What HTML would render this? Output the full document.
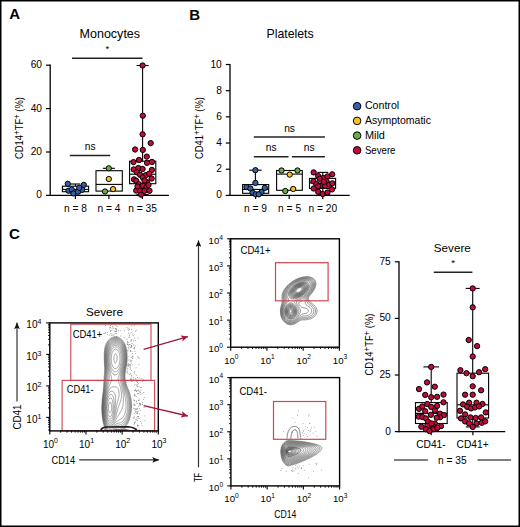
<!DOCTYPE html>
<html><head><meta charset="utf-8"><title>Figure</title>
<style>html,body{margin:0;padding:0;background:#fff;width:520px;height:527px;overflow:hidden}svg{display:block}text{font-family:"Liberation Sans",sans-serif}</style>
</head><body>
<svg width="520" height="527" viewBox="0 0 520 527" font-family='"Liberation Sans", sans-serif'><text x="9.20" y="19.30" font-size="15" font-weight="bold" fill="#000" >A</text>
<text x="189.20" y="19.50" font-size="15" font-weight="bold" fill="#000" >B</text>
<text x="9.00" y="238.70" font-size="15" font-weight="bold" fill="#000" >C</text>
<line x1="50.20" y1="64.40" x2="50.20" y2="196.00" stroke="#000" stroke-width="1.3" />
<line x1="46.00" y1="195.40" x2="50.20" y2="195.40" stroke="#000" stroke-width="1.2" />
<text x="42.00" y="198.40" font-size="10.2" text-anchor="end" fill="#000" >0</text>
<line x1="46.00" y1="152.00" x2="50.20" y2="152.00" stroke="#000" stroke-width="1.2" />
<text x="42.00" y="155.00" font-size="10.2" text-anchor="end" fill="#000" >20</text>
<line x1="46.00" y1="108.60" x2="50.20" y2="108.60" stroke="#000" stroke-width="1.2" />
<text x="42.00" y="111.60" font-size="10.2" text-anchor="end" fill="#000" >40</text>
<line x1="46.00" y1="65.20" x2="50.20" y2="65.20" stroke="#000" stroke-width="1.2" />
<text x="42.00" y="68.20" font-size="10.2" text-anchor="end" fill="#000" >60</text>
<line x1="49.60" y1="195.40" x2="168.90" y2="195.40" stroke="#000" stroke-width="1.3" />
<line x1="75.40" y1="195.40" x2="75.40" y2="199.00" stroke="#000" stroke-width="1.2" />
<line x1="108.90" y1="195.40" x2="108.90" y2="199.00" stroke="#000" stroke-width="1.2" />
<line x1="142.40" y1="195.40" x2="142.40" y2="199.00" stroke="#000" stroke-width="1.2" />
<text x="109.80" y="37.50" font-size="12.2" text-anchor="middle" textLength="60.6" lengthAdjust="spacingAndGlyphs" fill="#000" >Monocytes</text>
<text x="107.40" y="52.20" font-size="9.5" text-anchor="middle" fill="#000" >*</text>
<line x1="72.00" y1="58.30" x2="142.50" y2="58.30" stroke="#222" stroke-width="1.45" />
<text x="90.20" y="150.00" font-size="10.2" text-anchor="middle" fill="#000" >ns</text>
<line x1="69.80" y1="155.50" x2="110.20" y2="155.50" stroke="#222" stroke-width="1.45" />
<text x="75.40" y="212.30" font-size="10.2" text-anchor="middle" fill="#000" >n = 8</text>
<text x="109.00" y="212.30" font-size="10.2" text-anchor="middle" fill="#000" >n = 4</text>
<text x="142.50" y="212.30" font-size="10.2" text-anchor="middle" fill="#000" >n = 35</text>
<text x="23.30" y="128.00" font-size="10.2" text-anchor="middle" textLength="62" lengthAdjust="spacingAndGlyphs" transform="rotate(-90 23.30 128.00)" fill="#000" >CD14<tspan dy="-3.4" font-size="8.6">+</tspan><tspan dy="3.4">TF</tspan><tspan dy="-3.4" font-size="8.6">+</tspan><tspan dy="3.4"> (%)</tspan></text>
<line x1="75.40" y1="184.00" x2="75.40" y2="186.20" stroke="#000" stroke-width="1.1" />
<line x1="70.40" y1="184.00" x2="80.40" y2="184.00" stroke="#000" stroke-width="1.1" />
<line x1="75.40" y1="191.70" x2="75.40" y2="193.50" stroke="#000" stroke-width="1.1" />
<line x1="70.40" y1="193.50" x2="80.40" y2="193.50" stroke="#000" stroke-width="1.1" />
<rect x="62.40" y="186.20" width="26.20" height="5.50" fill="#fff" stroke="#000" stroke-width="1.1"/>
<line x1="62.40" y1="189.40" x2="88.60" y2="189.40" stroke="#000" stroke-width="1.1" />
<circle cx="67.80" cy="183.80" r="2.65" fill="#3560a8" stroke="#000" stroke-width="1.0"/>
<circle cx="83.80" cy="184.90" r="2.65" fill="#3560a8" stroke="#000" stroke-width="1.0"/>
<circle cx="68.50" cy="190.70" r="2.65" fill="#3560a8" stroke="#000" stroke-width="1.0"/>
<circle cx="71.70" cy="189.60" r="2.65" fill="#3560a8" stroke="#000" stroke-width="1.0"/>
<circle cx="73.40" cy="193.40" r="2.65" fill="#3560a8" stroke="#000" stroke-width="1.0"/>
<circle cx="78.00" cy="191.70" r="2.65" fill="#3560a8" stroke="#000" stroke-width="1.0"/>
<circle cx="82.20" cy="189.80" r="2.65" fill="#3560a8" stroke="#000" stroke-width="1.0"/>
<circle cx="79.20" cy="187.80" r="2.65" fill="#3560a8" stroke="#000" stroke-width="1.0"/>
<line x1="108.90" y1="168.30" x2="108.90" y2="170.70" stroke="#000" stroke-width="1.1" />
<line x1="102.90" y1="168.30" x2="114.90" y2="168.30" stroke="#000" stroke-width="1.1" />
<rect x="96.00" y="170.70" width="26.30" height="20.40" fill="#fff" stroke="#000" stroke-width="1.1"/>
<line x1="96.00" y1="184.40" x2="122.30" y2="184.40" stroke="#000" stroke-width="1.1" />
<circle cx="108.80" cy="168.30" r="2.65" fill="#69b147" stroke="#000" stroke-width="1.0"/>
<circle cx="108.80" cy="179.00" r="2.65" fill="#f5c323" stroke="#000" stroke-width="1.0"/>
<circle cx="105.00" cy="191.50" r="2.65" fill="#69b147" stroke="#000" stroke-width="1.0"/>
<circle cx="113.10" cy="189.10" r="2.65" fill="#f5c323" stroke="#000" stroke-width="1.0"/>
<line x1="142.60" y1="65.50" x2="142.60" y2="161.20" stroke="#000" stroke-width="1.1" />
<line x1="136.60" y1="65.50" x2="148.60" y2="65.50" stroke="#000" stroke-width="1.1" />
<line x1="142.60" y1="183.70" x2="142.60" y2="194.60" stroke="#000" stroke-width="1.1" />
<line x1="136.60" y1="194.60" x2="148.60" y2="194.60" stroke="#000" stroke-width="1.1" />
<rect x="129.60" y="161.20" width="26.20" height="22.50" fill="#fff" stroke="#000" stroke-width="1.1"/>
<line x1="129.60" y1="174.20" x2="155.80" y2="174.20" stroke="#000" stroke-width="1.1" />
<circle cx="142.60" cy="65.50" r="2.65" fill="#c20a3b" stroke="#000" stroke-width="1.0"/>
<circle cx="142.80" cy="115.70" r="2.65" fill="#c20a3b" stroke="#000" stroke-width="1.0"/>
<circle cx="142.60" cy="134.30" r="2.65" fill="#c20a3b" stroke="#000" stroke-width="1.0"/>
<circle cx="150.70" cy="143.10" r="2.65" fill="#c20a3b" stroke="#000" stroke-width="1.0"/>
<circle cx="135.10" cy="149.50" r="2.65" fill="#c20a3b" stroke="#000" stroke-width="1.0"/>
<circle cx="142.80" cy="149.90" r="2.65" fill="#c20a3b" stroke="#000" stroke-width="1.0"/>
<circle cx="146.80" cy="156.60" r="2.65" fill="#c20a3b" stroke="#000" stroke-width="1.0"/>
<circle cx="139.00" cy="160.00" r="2.65" fill="#c20a3b" stroke="#000" stroke-width="1.0"/>
<circle cx="133.50" cy="162.10" r="2.65" fill="#c20a3b" stroke="#000" stroke-width="1.0"/>
<circle cx="147.00" cy="162.80" r="2.65" fill="#c20a3b" stroke="#000" stroke-width="1.0"/>
<circle cx="152.00" cy="161.90" r="2.65" fill="#c20a3b" stroke="#000" stroke-width="1.0"/>
<circle cx="133.70" cy="169.40" r="2.65" fill="#c20a3b" stroke="#000" stroke-width="1.0"/>
<circle cx="138.30" cy="168.00" r="2.65" fill="#c20a3b" stroke="#000" stroke-width="1.0"/>
<circle cx="142.60" cy="169.00" r="2.65" fill="#c20a3b" stroke="#000" stroke-width="1.0"/>
<circle cx="151.90" cy="169.90" r="2.65" fill="#c20a3b" stroke="#000" stroke-width="1.0"/>
<circle cx="136.90" cy="172.30" r="2.65" fill="#c20a3b" stroke="#000" stroke-width="1.0"/>
<circle cx="140.00" cy="174.70" r="2.65" fill="#c20a3b" stroke="#000" stroke-width="1.0"/>
<circle cx="145.90" cy="175.10" r="2.65" fill="#c20a3b" stroke="#000" stroke-width="1.0"/>
<circle cx="149.20" cy="173.70" r="2.65" fill="#c20a3b" stroke="#000" stroke-width="1.0"/>
<circle cx="142.80" cy="177.50" r="2.65" fill="#c20a3b" stroke="#000" stroke-width="1.0"/>
<circle cx="151.60" cy="178.50" r="2.65" fill="#c20a3b" stroke="#000" stroke-width="1.0"/>
<circle cx="134.00" cy="179.40" r="2.65" fill="#c20a3b" stroke="#000" stroke-width="1.0"/>
<circle cx="136.20" cy="180.80" r="2.65" fill="#c20a3b" stroke="#000" stroke-width="1.0"/>
<circle cx="147.00" cy="182.10" r="2.65" fill="#c20a3b" stroke="#000" stroke-width="1.0"/>
<circle cx="138.80" cy="184.20" r="2.65" fill="#c20a3b" stroke="#000" stroke-width="1.0"/>
<circle cx="142.80" cy="185.60" r="2.65" fill="#c20a3b" stroke="#000" stroke-width="1.0"/>
<circle cx="146.60" cy="187.00" r="2.65" fill="#c20a3b" stroke="#000" stroke-width="1.0"/>
<circle cx="136.20" cy="190.60" r="2.65" fill="#c20a3b" stroke="#000" stroke-width="1.0"/>
<circle cx="140.00" cy="190.80" r="2.65" fill="#c20a3b" stroke="#000" stroke-width="1.0"/>
<circle cx="144.40" cy="191.00" r="2.65" fill="#c20a3b" stroke="#000" stroke-width="1.0"/>
<circle cx="149.50" cy="190.80" r="2.65" fill="#c20a3b" stroke="#000" stroke-width="1.0"/>
<circle cx="141.00" cy="194.60" r="2.65" fill="#c20a3b" stroke="#000" stroke-width="1.0"/>
<circle cx="148.50" cy="185.00" r="2.65" fill="#c20a3b" stroke="#000" stroke-width="1.0"/>
<circle cx="137.50" cy="186.50" r="2.65" fill="#c20a3b" stroke="#000" stroke-width="1.0"/>
<circle cx="144.50" cy="180.50" r="2.65" fill="#c20a3b" stroke="#000" stroke-width="1.0"/>
<line x1="230.00" y1="63.90" x2="230.00" y2="196.00" stroke="#000" stroke-width="1.3" />
<line x1="225.80" y1="195.40" x2="230.00" y2="195.40" stroke="#000" stroke-width="1.2" />
<text x="221.80" y="198.40" font-size="10.2" text-anchor="end" fill="#000" >0</text>
<line x1="225.80" y1="169.22" x2="230.00" y2="169.22" stroke="#000" stroke-width="1.2" />
<text x="221.80" y="172.22" font-size="10.2" text-anchor="end" fill="#000" >2</text>
<line x1="225.80" y1="143.04" x2="230.00" y2="143.04" stroke="#000" stroke-width="1.2" />
<text x="221.80" y="146.04" font-size="10.2" text-anchor="end" fill="#000" >4</text>
<line x1="225.80" y1="116.86" x2="230.00" y2="116.86" stroke="#000" stroke-width="1.2" />
<text x="221.80" y="119.86" font-size="10.2" text-anchor="end" fill="#000" >6</text>
<line x1="225.80" y1="90.68" x2="230.00" y2="90.68" stroke="#000" stroke-width="1.2" />
<text x="221.80" y="93.68" font-size="10.2" text-anchor="end" fill="#000" >8</text>
<line x1="225.80" y1="64.50" x2="230.00" y2="64.50" stroke="#000" stroke-width="1.2" />
<text x="221.80" y="67.50" font-size="10.2" text-anchor="end" fill="#000" >10</text>
<line x1="229.40" y1="195.40" x2="349.70" y2="195.40" stroke="#000" stroke-width="1.3" />
<line x1="255.60" y1="195.40" x2="255.60" y2="199.00" stroke="#000" stroke-width="1.2" />
<line x1="289.20" y1="195.40" x2="289.20" y2="199.00" stroke="#000" stroke-width="1.2" />
<line x1="322.80" y1="195.40" x2="322.80" y2="199.00" stroke="#000" stroke-width="1.2" />
<text x="290.10" y="37.70" font-size="12.2" text-anchor="middle" textLength="47.2" lengthAdjust="spacingAndGlyphs" fill="#000" >Platelets</text>
<text x="203.40" y="128.00" font-size="10.2" text-anchor="middle" textLength="62" lengthAdjust="spacingAndGlyphs" transform="rotate(-90 203.40 128.00)" fill="#000" >CD41<tspan dy="-3.4" font-size="8.6">+</tspan><tspan dy="3.4">TF</tspan><tspan dy="-3.4" font-size="8.6">+</tspan><tspan dy="3.4"> (%)</tspan></text>
<text x="289.60" y="131.60" font-size="10.2" text-anchor="middle" fill="#000" >ns</text>
<line x1="253.80" y1="137.00" x2="324.90" y2="137.00" stroke="#222" stroke-width="1.45" />
<text x="271.20" y="151.20" font-size="10.2" text-anchor="middle" fill="#000" >ns</text>
<line x1="253.80" y1="156.80" x2="288.50" y2="156.80" stroke="#222" stroke-width="1.45" />
<text x="309.20" y="151.20" font-size="10.2" text-anchor="middle" fill="#000" >ns</text>
<line x1="291.90" y1="156.80" x2="324.90" y2="156.80" stroke="#222" stroke-width="1.45" />
<text x="255.50" y="212.00" font-size="10.2" text-anchor="middle" fill="#000" >n = 9</text>
<text x="289.60" y="212.00" font-size="10.2" text-anchor="middle" fill="#000" >n = 5</text>
<text x="322.80" y="212.00" font-size="10.2" text-anchor="middle" fill="#000" >n = 20</text>
<line x1="255.40" y1="170.20" x2="255.40" y2="184.60" stroke="#000" stroke-width="1.1" />
<line x1="249.15" y1="170.20" x2="261.65" y2="170.20" stroke="#000" stroke-width="1.1" />
<rect x="242.60" y="184.60" width="26.10" height="8.70" fill="#fff" stroke="#000" stroke-width="1.1"/>
<line x1="242.60" y1="189.40" x2="268.70" y2="189.40" stroke="#000" stroke-width="1.1" />
<circle cx="255.40" cy="170.20" r="2.65" fill="#3560a8" stroke="#000" stroke-width="1.0"/>
<circle cx="255.40" cy="182.90" r="2.65" fill="#3560a8" stroke="#000" stroke-width="1.0"/>
<circle cx="246.50" cy="187.10" r="2.65" fill="#3560a8" stroke="#000" stroke-width="1.0"/>
<circle cx="264.80" cy="187.90" r="2.65" fill="#3560a8" stroke="#000" stroke-width="1.0"/>
<circle cx="250.40" cy="188.50" r="2.65" fill="#3560a8" stroke="#000" stroke-width="1.0"/>
<circle cx="252.60" cy="192.70" r="2.65" fill="#3560a8" stroke="#000" stroke-width="1.0"/>
<circle cx="261.50" cy="192.00" r="2.65" fill="#3560a8" stroke="#000" stroke-width="1.0"/>
<circle cx="255.70" cy="194.30" r="2.65" fill="#3560a8" stroke="#000" stroke-width="1.0"/>
<circle cx="258.70" cy="194.30" r="2.65" fill="#3560a8" stroke="#000" stroke-width="1.0"/>
<rect x="276.60" y="170.50" width="25.70" height="19.80" fill="#fff" stroke="#000" stroke-width="1.1"/>
<line x1="276.60" y1="174.10" x2="302.30" y2="174.10" stroke="#000" stroke-width="1.1" />
<circle cx="281.50" cy="170.50" r="2.65" fill="#69b147" stroke="#000" stroke-width="1.0"/>
<circle cx="297.50" cy="170.50" r="2.65" fill="#69b147" stroke="#000" stroke-width="1.0"/>
<circle cx="289.70" cy="174.60" r="2.65" fill="#f5c323" stroke="#000" stroke-width="1.0"/>
<circle cx="285.30" cy="191.00" r="2.65" fill="#69b147" stroke="#000" stroke-width="1.0"/>
<circle cx="293.20" cy="189.00" r="2.65" fill="#f5c323" stroke="#000" stroke-width="1.0"/>
<line x1="322.80" y1="172.40" x2="322.80" y2="178.40" stroke="#000" stroke-width="1.1" />
<line x1="317.30" y1="172.40" x2="328.30" y2="172.40" stroke="#000" stroke-width="1.1" />
<line x1="322.80" y1="188.40" x2="322.80" y2="194.00" stroke="#000" stroke-width="1.1" />
<line x1="317.30" y1="194.00" x2="328.30" y2="194.00" stroke="#000" stroke-width="1.1" />
<rect x="309.50" y="178.40" width="26.10" height="10.00" fill="#fff" stroke="#000" stroke-width="1.1"/>
<line x1="309.50" y1="183.00" x2="335.60" y2="183.00" stroke="#000" stroke-width="1.1" />
<circle cx="313.70" cy="172.40" r="2.65" fill="#c20a3b" stroke="#000" stroke-width="1.0"/>
<circle cx="332.20" cy="174.30" r="2.65" fill="#c20a3b" stroke="#000" stroke-width="1.0"/>
<circle cx="318.20" cy="176.10" r="2.65" fill="#c20a3b" stroke="#000" stroke-width="1.0"/>
<circle cx="323.20" cy="178.00" r="2.65" fill="#c20a3b" stroke="#000" stroke-width="1.0"/>
<circle cx="327.50" cy="176.40" r="2.65" fill="#c20a3b" stroke="#000" stroke-width="1.0"/>
<circle cx="319.70" cy="178.80" r="2.65" fill="#c20a3b" stroke="#000" stroke-width="1.0"/>
<circle cx="313.40" cy="181.30" r="2.65" fill="#c20a3b" stroke="#000" stroke-width="1.0"/>
<circle cx="326.60" cy="181.40" r="2.65" fill="#c20a3b" stroke="#000" stroke-width="1.0"/>
<circle cx="316.30" cy="184.00" r="2.65" fill="#c20a3b" stroke="#000" stroke-width="1.0"/>
<circle cx="321.20" cy="185.80" r="2.65" fill="#c20a3b" stroke="#000" stroke-width="1.0"/>
<circle cx="325.10" cy="185.80" r="2.65" fill="#c20a3b" stroke="#000" stroke-width="1.0"/>
<circle cx="329.40" cy="184.70" r="2.65" fill="#c20a3b" stroke="#000" stroke-width="1.0"/>
<circle cx="332.40" cy="183.30" r="2.65" fill="#c20a3b" stroke="#000" stroke-width="1.0"/>
<circle cx="313.70" cy="188.50" r="2.65" fill="#c20a3b" stroke="#000" stroke-width="1.0"/>
<circle cx="318.20" cy="191.80" r="2.65" fill="#c20a3b" stroke="#000" stroke-width="1.0"/>
<circle cx="322.70" cy="194.00" r="2.65" fill="#c20a3b" stroke="#000" stroke-width="1.0"/>
<circle cx="327.50" cy="192.50" r="2.65" fill="#c20a3b" stroke="#000" stroke-width="1.0"/>
<circle cx="332.00" cy="189.40" r="2.65" fill="#c20a3b" stroke="#000" stroke-width="1.0"/>
<circle cx="318.20" cy="186.20" r="2.65" fill="#c20a3b" stroke="#000" stroke-width="1.0"/>
<circle cx="323.80" cy="181.90" r="2.65" fill="#c20a3b" stroke="#000" stroke-width="1.0"/>
<circle cx="357.10" cy="106.20" r="3.8" fill="#3560a8" stroke="#000" stroke-width="1.0"/>
<text x="364.90" y="109.10" font-size="10.8" textLength="34.3" lengthAdjust="spacingAndGlyphs" fill="#000" >Control</text>
<circle cx="357.10" cy="120.90" r="3.8" fill="#f5c323" stroke="#000" stroke-width="1.0"/>
<text x="364.90" y="124.00" font-size="10.8" textLength="66.0" lengthAdjust="spacingAndGlyphs" fill="#000" >Asymptomatic</text>
<circle cx="357.10" cy="135.60" r="3.8" fill="#69b147" stroke="#000" stroke-width="1.0"/>
<text x="364.90" y="138.90" font-size="10.8" textLength="20.0" lengthAdjust="spacingAndGlyphs" fill="#000" >Mild</text>
<circle cx="357.10" cy="150.30" r="3.8" fill="#c20a3b" stroke="#000" stroke-width="1.0"/>
<text x="364.90" y="153.80" font-size="10.8" textLength="30.6" lengthAdjust="spacingAndGlyphs" fill="#000" >Severe</text>
<defs><clipPath id="cL"><rect x="50.5" y="323.5" width="107" height="106.7"/></clipPath><clipPath id="cM1"><rect x="231.3" y="239.5" width="107.3" height="107"/></clipPath><clipPath id="cM2"><rect x="231.5" y="378.3" width="107.3" height="106.8"/></clipPath><marker id="ah" viewBox="0 0 10 10" refX="10" refY="5" markerUnits="userSpaceOnUse" markerWidth="6.6" markerHeight="5.8" preserveAspectRatio="none" orient="auto"><path d="M0,0 L10,5 L0,10 L2.2,5 z" fill="#111"/></marker><marker id="ahr" viewBox="0 0 10 10" refX="10" refY="5" markerWidth="5.2" markerHeight="5" preserveAspectRatio="none" orient="auto"><path d="M0,0 L10,5 L0,10 L2.2,5 z" fill="#a3173a"/></marker></defs>
<text x="104.50" y="315.50" font-size="11.6" text-anchor="middle" textLength="37" lengthAdjust="spacingAndGlyphs" fill="#000" >Severe</text>
<path d="M95.8,433.8 96.2,433.4 96.8,433.1 97.2,432.8 97.8,432.6 98.2,432.3 98.8,432.1 99.2,431.9 99.8,431.7 100.4,431.5 101.0,431.3 101.5,431.1 102.0,431.0 102.6,430.8 103.2,430.5 103.8,430.3 104.2,430.0 104.6,429.8 104.9,429.2 104.9,428.5 104.8,427.8 104.6,427.2 104.4,426.8 104.2,426.2 104.0,425.5 103.8,425.0 103.7,424.5 103.5,423.8 103.4,423.2 103.2,422.6 103.1,422.0 103.0,421.4 102.9,420.8 102.8,420.0 102.7,419.5 102.6,418.8 102.5,418.2 102.4,417.5 102.3,416.8 102.2,416.2 102.2,415.5 102.1,414.8 102.0,414.0 102.0,413.3 102.0,412.8 101.9,412.0 101.9,411.2 101.9,410.5 101.8,409.8 101.8,409.0 101.8,408.2 101.8,407.5 101.8,406.8 101.9,406.0 101.9,405.2 101.9,404.5 102.0,403.8 102.0,403.0 102.0,402.5 102.1,401.8 102.1,401.0 102.2,400.2 102.2,399.7 102.3,399.0 102.4,398.2 102.5,397.5 102.5,397.0 102.6,396.2 102.7,395.5 102.8,395.0 102.8,394.2 102.9,393.5 103.0,393.0 103.1,392.2 103.2,391.5 103.2,390.8 103.3,390.2 103.4,389.5 103.4,388.8 103.5,388.1 103.5,387.5 103.6,386.8 103.7,386.0 103.7,385.2 103.7,384.5 103.8,384.0 103.8,383.2 103.9,382.5 103.9,381.8 103.9,381.0 104.0,380.2 104.0,379.8 104.1,379.0 104.1,378.2 104.2,377.5 104.2,376.8 104.3,376.2 104.3,375.5 104.4,374.8 104.4,374.0 104.5,373.2 104.5,372.8 104.6,372.0 104.6,371.2 104.6,370.5 104.6,369.8 104.6,369.0 104.6,368.2 104.6,367.5 104.6,366.8 104.6,366.0 104.5,365.2 104.5,364.5 104.5,364.0 104.4,363.2 104.4,362.5 104.4,361.8 104.3,361.0 104.3,360.2 104.3,359.5 104.3,358.8 104.3,358.0 104.2,357.4 104.2,356.8 104.2,356.0 104.3,355.5 104.3,354.8 104.3,354.0 104.3,353.2 104.3,352.5 104.4,351.8 104.5,351.0 104.5,350.5 104.6,349.8 104.7,349.0 104.8,348.5 104.9,347.8 105.0,347.2 105.2,346.5 105.3,346.0 105.5,345.5 105.8,344.8 106.0,344.2 106.2,343.8 106.4,343.2 106.7,342.8 106.9,342.2 107.2,341.8 107.5,341.4 107.8,341.0 108.2,340.5 108.5,340.1 108.9,339.8 109.2,339.4 109.7,339.0 110.0,338.8 110.5,338.4 111.0,338.1 111.5,337.8 112.0,337.6 112.5,337.4 113.0,337.2 113.8,337.0 114.2,337.0 115.0,336.9 115.8,336.9 116.5,336.9 117.0,337.0 117.8,337.2 118.2,337.4 118.8,337.6 119.2,337.8 119.8,338.1 120.2,338.4 120.8,338.7 121.1,339.0 121.5,339.4 121.9,339.8 122.2,340.1 122.6,340.5 123.0,341.0 123.2,341.3 123.5,341.8 123.9,342.2 124.2,342.8 124.4,343.2 124.7,343.8 124.9,344.2 125.1,344.8 125.3,345.2 125.5,345.8 125.7,346.5 125.9,347.0 126.0,347.5 126.2,348.2 126.3,348.8 126.4,349.5 126.5,350.0 126.7,350.8 126.8,351.5 126.8,352.0 126.9,352.8 127.0,353.5 127.0,354.1 127.0,354.8 127.1,355.5 127.1,356.2 127.1,357.0 127.1,357.8 127.1,358.5 127.1,359.2 127.1,360.0 127.0,360.8 127.0,361.2 126.9,362.0 126.8,362.8 126.8,363.4 126.7,364.0 126.6,364.8 126.5,365.2 126.3,366.0 126.2,366.5 126.1,367.2 126.0,367.8 125.9,368.5 125.8,369.1 125.6,369.8 125.5,370.4 125.4,371.0 125.3,371.8 125.2,372.2 125.1,373.0 125.0,373.8 125.0,374.3 125.0,375.0 125.0,375.8 125.0,376.5 125.0,377.0 125.1,377.8 125.1,378.5 125.2,379.2 125.3,379.8 125.4,380.5 125.5,381.0 125.7,381.8 125.8,382.2 126.0,383.0 126.1,383.5 126.2,384.0 126.5,384.8 126.7,385.2 126.8,385.8 127.0,386.2 127.2,386.8 127.5,387.5 127.7,388.0 127.9,388.5 128.1,389.0 128.3,389.5 128.5,390.0 128.8,390.6 129.0,391.2 129.2,391.8 129.4,392.2 129.5,392.8 129.8,393.5 129.9,394.0 130.1,394.5 130.2,395.2 130.4,395.8 130.5,396.3 130.7,397.0 130.8,397.5 130.9,398.2 131.0,398.9 131.1,399.5 131.2,400.2 131.2,400.8 131.3,401.5 131.4,402.2 131.4,403.0 131.5,403.8 131.5,404.2 131.5,405.0 131.5,405.8 131.5,406.5 131.5,407.2 131.5,408.0 131.5,408.5 131.4,409.2 131.4,410.0 131.3,410.8 131.2,411.2 131.2,412.0 131.0,412.8 131.0,413.2 130.8,414.0 130.7,414.5 130.6,415.2 130.5,415.8 130.3,416.5 130.2,417.0 130.0,417.7 129.8,418.2 129.7,418.8 129.5,419.3 129.2,420.0 129.1,420.5 128.9,421.0 128.6,421.5 128.4,422.0 128.2,422.5 127.9,423.0 127.7,423.5 127.4,424.0 127.1,424.5 126.8,425.0 126.5,425.4 126.2,425.8 125.9,426.2 125.5,426.7 125.2,427.0 124.9,427.5 124.6,428.0 124.7,428.8 125.1,429.0 125.6,429.2 126.2,429.5 126.8,429.7 127.2,429.8 128.0,430.0 128.5,430.1 129.0,430.3 129.8,430.4 130.2,430.6 131.0,430.8 131.5,430.9 132.0,431.0 132.8,431.2 133.2,431.4 133.8,431.6 134.3,431.8 134.9,432.0 135.5,432.2 136.0,432.5 136.5,432.7 137.0,433.0 137.5,433.2 137.9,433.5 M96.4,433.8 96.8,433.5 97.2,433.2 97.8,432.9 98.2,432.7 98.8,432.4 99.2,432.2 99.8,432.0 100.5,431.8 101.0,431.6 101.5,431.4 102.0,431.2 102.7,431.0 103.2,430.8 103.8,430.6 104.2,430.4 104.8,430.1 105.2,429.8 105.5,429.2 105.5,428.8 105.4,428.2 105.2,427.8 105.0,427.1 104.8,426.5 104.6,426.0 104.4,425.5 104.2,424.9 104.0,424.2 103.9,423.8 103.8,423.1 103.6,422.5 103.5,422.0 103.3,421.2 103.2,420.8 103.1,420.0 103.0,419.4 102.9,418.8 102.8,418.0 102.7,417.5 102.6,416.8 102.5,416.0 102.5,415.5 102.4,414.8 102.4,414.0 102.3,413.2 102.3,412.5 102.2,412.0 102.2,411.2 102.2,410.5 102.2,409.8 102.1,409.0 102.1,408.2 102.1,407.5 102.2,406.8 102.2,406.0 102.2,405.2 102.2,404.5 102.3,404.0 102.3,403.2 102.3,402.5 102.4,401.8 102.4,401.0 102.5,400.5 102.6,399.8 102.6,399.0 102.7,398.2 102.8,397.8 102.9,397.0 102.9,396.2 103.0,395.8 103.1,395.0 103.2,394.2 103.3,393.8 103.3,393.0 103.4,392.2 103.5,391.8 103.6,391.0 103.7,390.2 103.8,389.6 103.8,389.0 103.9,388.2 103.9,387.5 104.0,386.9 104.1,386.2 104.1,385.5 104.2,384.8 104.2,384.0 104.2,383.3 104.3,382.8 104.3,382.0 104.4,381.2 104.4,380.5 104.5,379.8 104.5,379.2 104.6,378.5 104.6,377.8 104.7,377.0 104.7,376.2 104.8,375.8 104.8,375.0 104.9,374.2 104.9,373.5 105.0,372.8 105.0,372.2 105.0,371.5 105.1,370.8 105.1,370.0 105.1,369.2 105.1,368.5 105.0,367.8 105.0,367.0 105.0,366.5 104.9,365.8 104.9,365.0 104.9,364.2 104.8,363.5 104.8,362.8 104.8,362.0 104.7,361.5 104.7,360.8 104.7,360.0 104.7,359.2 104.6,358.5 104.6,357.8 104.6,357.0 104.6,356.2 104.7,355.5 104.7,354.8 104.7,354.0 104.7,353.2 104.8,352.8 104.8,352.0 104.9,351.2 105.0,350.5 105.0,350.0 105.2,349.2 105.2,348.7 105.4,348.0 105.5,347.5 105.7,346.8 105.8,346.2 106.0,345.7 106.2,345.0 106.5,344.5 106.7,344.0 106.9,343.5 107.2,343.0 107.5,342.5 107.8,342.1 108.0,341.8 108.4,341.2 108.8,340.8 109.0,340.5 109.5,340.0 109.8,339.8 110.2,339.4 110.8,339.1 111.2,338.8 111.7,338.5 112.2,338.2 112.8,338.0 113.2,337.9 113.8,337.8 114.5,337.6 115.2,337.6 116.0,337.6 116.8,337.7 117.2,337.8 117.9,338.0 118.5,338.2 119.0,338.4 119.5,338.7 120.0,339.0 120.3,339.2 120.8,339.6 121.2,340.0 121.5,340.2 122.0,340.7 122.2,341.0 122.6,341.5 123.0,342.0 123.2,342.3 123.5,342.8 123.8,343.2 124.1,343.8 124.3,344.2 124.5,344.8 124.8,345.3 125.0,345.9 125.2,346.5 125.4,347.0 125.5,347.5 125.7,348.2 125.8,348.8 126.0,349.5 126.1,350.0 126.2,350.8 126.3,351.2 126.4,352.0 126.5,352.8 126.5,353.2 126.6,354.0 126.6,354.8 126.7,355.5 126.7,356.2 126.7,357.0 126.7,357.8 126.7,358.5 126.7,359.2 126.7,360.0 126.6,360.8 126.6,361.5 126.5,362.2 126.4,362.8 126.4,363.5 126.2,364.2 126.2,364.8 126.0,365.5 126.0,366.0 125.8,366.8 125.7,367.2 125.6,368.0 125.5,368.5 125.3,369.2 125.2,369.8 125.1,370.5 125.0,371.0 124.9,371.8 124.8,372.4 124.7,373.0 124.6,373.8 124.6,374.5 124.5,375.2 124.5,376.0 124.5,376.8 124.6,377.5 124.6,378.2 124.7,379.0 124.8,379.5 124.9,380.2 125.0,380.9 125.1,381.5 125.2,382.1 125.4,382.8 125.5,383.2 125.7,384.0 125.9,384.5 126.0,385.0 126.2,385.7 126.4,386.2 126.6,386.8 126.8,387.2 127.0,387.8 127.2,388.4 127.5,389.0 127.7,389.5 127.9,390.0 128.1,390.5 128.3,391.0 128.5,391.6 128.7,392.2 128.9,392.8 129.1,393.2 129.2,393.9 129.4,394.5 129.6,395.0 129.8,395.6 129.9,396.2 130.0,396.8 130.2,397.5 130.3,398.0 130.4,398.8 130.5,399.3 130.6,400.0 130.7,400.8 130.8,401.2 130.8,402.0 130.9,402.8 130.9,403.5 131.0,404.2 131.0,405.0 131.0,405.5 131.0,406.2 131.0,406.8 131.0,407.5 130.9,408.2 130.9,409.0 130.8,409.8 130.8,410.5 130.7,411.0 130.6,411.8 130.5,412.5 130.4,413.0 130.3,413.8 130.2,414.2 130.1,415.0 130.0,415.5 129.8,416.2 129.6,416.8 129.5,417.2 129.3,418.0 129.1,418.5 128.9,419.0 128.8,419.5 128.5,420.2 128.3,420.8 128.0,421.2 127.8,421.8 127.6,422.2 127.3,422.8 127.0,423.2 126.8,423.7 126.5,424.1 126.2,424.5 125.9,425.0 125.5,425.5 125.2,425.8 124.9,426.2 124.5,426.6 124.1,427.0 123.8,427.4 123.4,427.8 123.2,428.2 123.4,428.8 123.8,429.0 124.4,429.2 125.0,429.5 125.5,429.6 126.0,429.8 126.8,429.9 127.2,430.1 128.0,430.2 128.5,430.4 129.0,430.5 129.8,430.7 130.2,430.8 131.0,431.0 131.5,431.1 132.0,431.3 132.7,431.5 133.2,431.7 133.8,431.8 134.2,432.0 134.8,432.2 135.4,432.5 135.9,432.8 136.4,433.0 136.8,433.2 137.2,433.5 M97.1,433.8 97.5,433.5 98.0,433.2 98.5,432.9 99.0,432.7 99.5,432.4 100.0,432.2 100.6,432.0 101.2,431.8 101.8,431.6 102.2,431.4 102.8,431.2 103.5,431.0 104.0,430.8 104.5,430.6 105.0,430.4 105.5,430.1 105.9,429.8 106.2,429.2 106.1,428.5 105.9,428.0 105.7,427.5 105.5,427.0 105.2,426.5 105.0,425.8 104.8,425.2 104.6,424.8 104.5,424.2 104.3,423.5 104.1,423.0 104.0,422.5 103.8,421.8 103.7,421.2 103.6,420.5 103.5,420.0 103.3,419.2 103.2,418.7 103.1,418.0 103.0,417.2 103.0,416.8 102.9,416.0 102.8,415.2 102.8,414.7 102.7,414.0 102.6,413.2 102.6,412.5 102.5,411.8 102.5,411.0 102.5,410.5 102.5,409.8 102.5,409.0 102.5,408.2 102.5,407.5 102.5,406.8 102.5,406.0 102.5,405.5 102.5,404.8 102.6,404.0 102.6,403.2 102.7,402.5 102.7,401.8 102.8,401.2 102.8,400.5 102.9,399.8 103.0,399.0 103.0,398.5 103.1,397.8 103.2,397.0 103.3,396.5 103.4,395.8 103.5,395.0 103.5,394.5 103.6,393.8 103.7,393.0 103.8,392.5 103.9,391.8 104.0,391.0 104.1,390.5 104.1,389.8 104.2,389.0 104.3,388.5 104.4,387.8 104.4,387.0 104.5,386.3 104.5,385.8 104.6,385.0 104.7,384.2 104.7,383.5 104.8,382.9 104.8,382.2 104.8,381.5 104.9,380.8 104.9,380.0 105.0,379.3 105.0,378.8 105.1,378.0 105.2,377.2 105.2,376.5 105.3,376.0 105.3,375.2 105.4,374.5 105.4,373.8 105.5,373.0 105.5,372.2 105.5,371.8 105.5,371.0 105.5,370.2 105.5,369.5 105.5,368.8 105.5,368.2 105.5,367.5 105.4,366.8 105.4,366.0 105.3,365.2 105.3,364.5 105.2,363.8 105.2,363.2 105.2,362.5 105.1,361.8 105.1,361.0 105.1,360.2 105.1,359.5 105.1,358.8 105.1,358.0 105.1,357.2 105.1,356.5 105.1,355.8 105.1,355.0 105.1,354.2 105.2,353.5 105.2,352.8 105.3,352.2 105.3,351.5 105.4,350.8 105.5,350.2 105.6,349.5 105.8,348.8 105.9,348.2 106.0,347.7 106.2,347.0 106.3,346.5 106.5,346.0 106.8,345.3 107.0,344.8 107.2,344.2 107.5,343.8 107.8,343.3 108.0,342.9 108.3,342.5 108.6,342.0 109.0,341.5 109.2,341.2 109.7,340.8 110.0,340.5 110.5,340.1 111.0,339.8 111.4,339.5 111.8,339.2 112.3,339.0 112.9,338.8 113.5,338.6 114.0,338.5 114.8,338.4 115.5,338.3 116.2,338.4 117.0,338.5 117.5,338.6 118.0,338.8 118.5,339.0 119.1,339.2 119.5,339.5 120.0,339.8 120.5,340.2 120.8,340.5 121.2,340.9 121.6,341.2 122.0,341.7 122.3,342.0 122.6,342.5 123.0,343.0 123.2,343.5 123.5,343.9 123.8,344.4 124.0,344.9 124.2,345.5 124.5,346.0 124.7,346.5 124.8,347.0 125.0,347.6 125.2,348.2 125.3,348.8 125.5,349.5 125.6,350.0 125.7,350.8 125.8,351.2 125.9,352.0 126.0,352.5 126.1,353.2 126.2,354.0 126.2,354.8 126.2,355.3 126.3,356.0 126.3,356.8 126.3,357.5 126.3,358.2 126.3,359.0 126.3,359.8 126.2,360.3 126.2,361.0 126.1,361.8 126.1,362.5 126.0,363.0 125.9,363.8 125.8,364.5 125.7,365.0 125.6,365.8 125.5,366.2 125.3,367.0 125.2,367.5 125.1,368.2 125.0,368.8 124.8,369.5 124.7,370.0 124.6,370.8 124.5,371.2 124.4,372.0 124.2,372.7 124.2,373.2 124.1,374.0 124.1,374.8 124.0,375.5 124.0,376.2 124.1,377.0 124.1,377.8 124.2,378.5 124.2,379.2 124.3,379.8 124.4,380.5 124.5,381.0 124.6,381.8 124.8,382.3 124.9,383.0 125.0,383.5 125.2,384.2 125.4,384.8 125.5,385.2 125.7,386.0 125.9,386.5 126.1,387.0 126.2,387.5 126.5,388.2 126.7,388.8 126.9,389.2 127.1,389.8 127.3,390.2 127.5,390.9 127.7,391.5 127.9,392.0 128.1,392.5 128.3,393.0 128.5,393.7 128.7,394.2 128.8,394.8 129.0,395.4 129.2,396.0 129.3,396.5 129.5,397.2 129.6,397.8 129.7,398.5 129.8,399.0 129.9,399.8 130.0,400.2 130.1,401.0 130.2,401.8 130.2,402.5 130.3,403.0 130.3,403.8 130.4,404.5 130.4,405.2 130.4,406.0 130.4,406.8 130.4,407.5 130.3,408.2 130.3,409.0 130.2,409.5 130.2,410.2 130.1,411.0 130.0,411.7 129.9,412.2 129.8,413.0 129.7,413.5 129.6,414.2 129.5,414.8 129.3,415.5 129.2,416.0 129.0,416.5 128.8,417.2 128.6,417.8 128.5,418.2 128.2,418.9 128.0,419.5 127.8,420.0 127.6,420.5 127.3,421.0 127.1,421.5 126.8,422.0 126.5,422.5 126.2,423.0 126.0,423.4 125.7,423.8 125.4,424.2 125.0,424.7 124.8,425.0 124.3,425.5 124.0,425.8 123.5,426.2 123.2,426.5 122.8,426.8 122.2,427.1 121.8,427.5 121.3,427.8 121.0,428.0 121.0,428.5 121.5,428.8 122.1,429.0 122.8,429.2 123.2,429.3 123.8,429.5 124.5,429.7 125.0,429.8 125.8,430.0 126.2,430.1 126.9,430.2 127.5,430.4 128.0,430.5 128.8,430.7 129.2,430.8 130.0,431.0 130.5,431.1 131.0,431.3 131.8,431.5 132.2,431.6 132.8,431.8 133.4,432.0 134.0,432.2 134.5,432.4 135.0,432.7 135.5,432.9 136.0,433.2 136.5,433.5 136.9,433.8 M97.8,433.8 98.2,433.4 98.8,433.2 99.2,432.9 99.8,432.7 100.2,432.5 100.8,432.2 101.5,432.0 102.0,431.8 102.5,431.6 103.0,431.5 103.6,431.2 104.2,431.0 104.8,430.8 105.2,430.6 105.8,430.4 106.2,430.1 106.7,429.8 106.9,429.2 106.8,428.5 106.6,428.0 106.3,427.5 106.1,427.0 105.8,426.5 105.6,426.0 105.4,425.5 105.2,425.0 105.0,424.4 104.8,423.8 104.6,423.2 104.5,422.8 104.3,422.0 104.2,421.5 104.0,420.8 103.9,420.2 103.8,419.5 103.7,419.0 103.5,418.2 103.5,417.8 103.4,417.0 103.3,416.2 103.2,415.8 103.1,415.0 103.0,414.2 103.0,413.6 103.0,413.0 102.9,412.2 102.9,411.5 102.8,410.8 102.8,410.0 102.8,409.2 102.8,408.5 102.8,407.8 102.8,407.0 102.8,406.2 102.8,405.5 102.9,404.8 102.9,404.0 102.9,403.2 103.0,402.5 103.0,402.0 103.1,401.2 103.2,400.5 103.2,399.8 103.3,399.2 103.4,398.5 103.5,397.8 103.5,397.2 103.6,396.5 103.7,395.8 103.8,395.2 103.9,394.5 104.0,393.9 104.1,393.2 104.2,392.5 104.3,392.0 104.4,391.2 104.5,390.5 104.6,390.0 104.7,389.2 104.7,388.5 104.8,388.0 104.9,387.2 105.0,386.5 105.0,386.0 105.1,385.2 105.1,384.5 105.2,383.8 105.3,383.2 105.3,382.5 105.4,381.8 105.4,381.0 105.5,380.2 105.5,379.8 105.6,379.0 105.6,378.2 105.7,377.5 105.8,376.9 105.8,376.2 105.9,375.5 105.9,374.8 106.0,374.0 106.0,373.2 106.0,372.8 106.0,372.0 106.0,371.2 106.0,370.5 106.0,369.8 106.0,369.0 106.0,368.5 105.9,367.8 105.9,367.0 105.8,366.2 105.8,365.5 105.8,364.8 105.7,364.2 105.7,363.5 105.6,362.8 105.6,362.0 105.5,361.2 105.5,360.5 105.5,359.8 105.5,359.2 105.5,358.5 105.5,357.8 105.5,357.0 105.5,356.5 105.5,355.8 105.6,355.0 105.6,354.2 105.7,353.5 105.7,352.8 105.8,352.2 105.9,351.5 106.0,350.8 106.0,350.2 106.2,349.5 106.3,349.0 106.4,348.2 106.6,347.8 106.8,347.1 107.0,346.5 107.1,346.0 107.3,345.5 107.6,345.0 107.8,344.5 108.1,344.0 108.4,343.5 108.7,343.0 109.0,342.6 109.3,342.2 109.7,341.8 110.0,341.5 110.5,341.0 110.8,340.8 111.2,340.4 111.8,340.1 112.2,339.9 112.8,339.6 113.2,339.5 114.0,339.3 114.5,339.2 115.2,339.1 116.0,339.1 116.8,339.2 117.2,339.3 117.8,339.5 118.4,339.8 118.9,340.0 119.3,340.2 119.8,340.5 120.2,340.9 120.7,341.2 121.0,341.6 121.4,342.0 121.8,342.4 122.0,342.8 122.4,343.2 122.7,343.8 123.0,344.2 123.2,344.7 123.5,345.2 123.8,345.7 124.0,346.2 124.2,346.8 124.3,347.2 124.5,347.8 124.7,348.5 124.9,349.0 125.0,349.6 125.1,350.2 125.2,350.8 125.4,351.5 125.5,352.2 125.6,352.8 125.6,353.5 125.7,354.2 125.8,354.8 125.8,355.5 125.9,356.2 125.9,357.0 125.9,357.8 125.9,358.5 125.9,359.2 125.8,360.0 125.8,360.8 125.8,361.3 125.7,362.0 125.6,362.8 125.5,363.5 125.4,364.0 125.3,364.8 125.2,365.2 125.1,366.0 125.0,366.5 124.8,367.2 124.7,367.8 124.6,368.5 124.5,369.0 124.3,369.8 124.2,370.2 124.1,371.0 124.0,371.5 123.8,372.2 123.8,372.8 123.7,373.5 123.6,374.2 123.5,375.0 123.5,375.7 123.5,376.2 123.5,376.8 123.5,377.5 123.6,378.2 123.7,379.0 123.7,379.8 123.8,380.2 123.9,381.0 124.0,381.5 124.2,382.2 124.3,382.8 124.4,383.5 124.5,384.0 124.7,384.8 124.9,385.2 125.0,385.8 125.2,386.5 125.4,387.0 125.5,387.5 125.8,388.2 126.0,388.8 126.1,389.2 126.3,389.8 126.5,390.3 126.8,391.0 126.9,391.5 127.1,392.0 127.3,392.5 127.5,393.1 127.7,393.8 127.9,394.2 128.0,394.8 128.2,395.5 128.4,396.0 128.5,396.5 128.7,397.2 128.8,397.8 129.0,398.5 129.1,399.0 129.2,399.8 129.3,400.2 129.4,401.0 129.5,401.8 129.5,402.2 129.6,403.0 129.6,403.8 129.7,404.5 129.7,405.2 129.7,406.0 129.7,406.8 129.7,407.5 129.6,408.2 129.6,409.0 129.5,409.8 129.5,410.2 129.4,411.0 129.3,411.8 129.2,412.2 129.0,413.0 129.0,413.5 128.8,414.2 128.7,414.8 128.5,415.4 128.3,416.0 128.2,416.5 128.0,417.1 127.8,417.8 127.6,418.2 127.4,418.8 127.2,419.2 127.0,419.8 126.7,420.2 126.5,420.8 126.2,421.2 125.9,421.8 125.6,422.2 125.2,422.7 125.0,423.1 124.7,423.5 124.2,424.0 124.0,424.2 123.5,424.7 123.2,425.0 122.8,425.3 122.2,425.7 121.8,426.0 121.2,426.2 120.8,426.4 120.2,426.5 119.5,426.7 119.0,426.8 118.2,426.8 117.5,426.9 116.8,427.0 116.2,427.1 115.8,427.3 115.2,427.6 114.9,428.0 114.7,428.5 115.0,428.8 115.8,429.0 116.2,429.0 117.0,429.1 117.8,429.1 118.5,429.1 119.2,429.1 120.0,429.2 120.5,429.3 121.2,429.4 121.9,429.5 122.5,429.6 123.2,429.8 123.8,429.9 124.4,430.0 125.0,430.1 125.6,430.2 126.2,430.4 126.8,430.5 127.5,430.6 128.0,430.8 128.8,430.9 129.2,431.1 130.0,431.2 130.5,431.4 131.0,431.5 131.7,431.8 132.2,431.9 132.8,432.1 133.2,432.3 133.8,432.5 134.4,432.8 134.9,433.0 135.4,433.2 135.8,433.5 M98.5,433.8 99.0,433.5 99.5,433.2 100.0,432.9 100.5,432.7 101.0,432.5 101.7,432.2 102.2,432.0 102.8,431.9 103.2,431.7 103.8,431.5 104.5,431.3 105.0,431.1 105.5,430.9 106.0,430.7 106.5,430.5 107.0,430.2 107.5,429.9 107.9,429.5 107.9,428.8 107.6,428.2 107.3,427.8 107.0,427.4 106.8,427.0 106.5,426.5 106.2,426.0 106.0,425.5 105.8,425.0 105.5,424.3 105.3,423.8 105.1,423.2 105.0,422.8 104.8,422.0 104.6,421.5 104.5,421.0 104.3,420.2 104.2,419.8 104.1,419.0 104.0,418.5 103.8,417.8 103.8,417.1 103.7,416.5 103.6,415.8 103.5,415.1 103.4,414.5 103.4,413.8 103.3,413.0 103.3,412.2 103.2,411.8 103.2,411.0 103.2,410.2 103.1,409.5 103.1,408.8 103.1,408.0 103.1,407.2 103.2,406.5 103.2,405.8 103.2,405.0 103.2,404.2 103.3,403.8 103.3,403.0 103.4,402.2 103.4,401.5 103.5,400.9 103.6,400.2 103.6,399.5 103.7,398.8 103.8,398.2 103.9,397.5 104.0,396.8 104.1,396.2 104.2,395.5 104.3,395.0 104.4,394.2 104.5,393.5 104.6,393.0 104.7,392.2 104.8,391.8 104.9,391.0 105.0,390.2 105.1,389.8 105.2,389.0 105.3,388.5 105.4,387.8 105.4,387.0 105.5,386.5 105.6,385.8 105.7,385.0 105.8,384.3 105.8,383.8 105.9,383.0 105.9,382.2 106.0,381.5 106.0,381.0 106.1,380.2 106.2,379.5 106.2,378.8 106.3,378.2 106.3,377.5 106.4,376.8 106.5,376.0 106.5,375.4 106.5,374.8 106.6,374.0 106.6,373.2 106.6,372.5 106.6,371.8 106.6,371.0 106.6,370.2 106.6,369.5 106.5,368.8 106.5,368.2 106.4,367.5 106.4,366.8 106.3,366.0 106.3,365.2 106.2,364.8 106.2,364.0 106.1,363.2 106.1,362.5 106.0,361.8 106.0,361.0 106.0,360.5 106.0,359.8 106.0,359.0 105.9,358.2 106.0,357.5 106.0,356.8 106.0,356.0 106.0,355.5 106.1,354.8 106.1,354.0 106.2,353.2 106.2,352.6 106.3,352.0 106.4,351.2 106.5,350.7 106.6,350.0 106.8,349.4 106.9,348.8 107.0,348.2 107.2,347.5 107.4,347.0 107.6,346.5 107.8,346.0 108.0,345.5 108.3,345.0 108.6,344.5 108.9,344.0 109.2,343.5 109.5,343.1 109.8,342.8 110.2,342.3 110.5,342.0 111.0,341.6 111.5,341.2 111.8,341.0 112.3,340.8 112.8,340.5 113.4,340.2 114.0,340.1 114.5,340.0 115.2,339.9 116.0,340.0 116.5,340.0 117.2,340.2 117.8,340.3 118.2,340.6 118.8,340.8 119.2,341.1 119.8,341.4 120.1,341.8 120.5,342.1 120.9,342.5 121.2,342.9 121.6,343.2 121.9,343.8 122.2,344.2 122.5,344.6 122.8,345.1 123.0,345.5 123.2,346.1 123.5,346.7 123.7,347.2 123.9,347.8 124.1,348.2 124.2,348.8 124.4,349.5 124.6,350.0 124.7,350.8 124.8,351.2 124.9,352.0 125.0,352.5 125.1,353.2 125.2,354.0 125.3,354.5 125.3,355.2 125.4,356.0 125.4,356.8 125.4,357.5 125.4,358.2 125.4,359.0 125.4,359.8 125.3,360.5 125.3,361.2 125.2,361.8 125.2,362.5 125.1,363.2 125.0,363.8 124.9,364.5 124.8,365.2 124.7,365.8 124.5,366.5 124.4,367.0 124.2,367.7 124.1,368.2 124.0,368.8 123.9,369.5 123.7,370.0 123.6,370.8 123.5,371.2 123.3,372.0 123.2,372.5 123.1,373.2 123.0,374.0 123.0,374.5 122.9,375.2 122.9,376.0 122.9,376.8 122.9,377.5 123.0,378.2 123.0,378.8 123.1,379.5 123.2,380.2 123.3,380.8 123.4,381.5 123.5,382.2 123.6,382.8 123.8,383.4 123.9,384.0 124.0,384.5 124.2,385.2 124.3,385.8 124.5,386.5 124.6,387.0 124.8,387.5 125.0,388.2 125.2,388.8 125.3,389.2 125.5,389.9 125.7,390.5 125.9,391.0 126.0,391.5 126.2,392.1 126.5,392.8 126.6,393.2 126.8,393.8 127.0,394.5 127.2,395.0 127.3,395.5 127.5,396.2 127.6,396.8 127.8,397.2 127.9,398.0 128.1,398.5 128.2,399.2 128.3,399.8 128.4,400.5 128.5,401.1 128.6,401.8 128.7,402.5 128.7,403.2 128.8,403.8 128.8,404.5 128.8,405.2 128.8,406.0 128.8,406.8 128.8,407.5 128.8,408.2 128.7,408.8 128.7,409.5 128.6,410.2 128.5,410.8 128.4,411.5 128.3,412.2 128.2,412.8 128.0,413.5 127.9,414.0 127.8,414.6 127.6,415.2 127.4,415.8 127.2,416.3 127.0,417.0 126.8,417.5 126.6,418.0 126.4,418.5 126.2,419.0 125.9,419.5 125.6,420.0 125.3,420.5 125.0,421.0 124.8,421.4 124.5,421.8 124.1,422.2 123.8,422.6 123.4,423.0 123.0,423.3 122.5,423.7 122.1,424.0 121.7,424.2 121.2,424.5 120.6,424.8 120.0,424.9 119.5,425.0 118.8,425.2 118.0,425.2 117.5,425.3 116.8,425.5 116.2,425.7 115.8,425.9 115.2,426.2 114.8,426.5 114.5,426.8 114.0,427.2 113.7,427.5 113.2,427.9 113.0,428.2 113.0,429.0 113.5,429.2 114.0,429.4 114.8,429.5 115.2,429.5 116.0,429.5 116.8,429.6 117.5,429.6 118.2,429.6 119.0,429.6 119.8,429.7 120.5,429.7 121.0,429.8 121.8,429.9 122.5,430.0 123.0,430.1 123.8,430.2 124.2,430.3 125.0,430.4 125.5,430.5 126.2,430.7 126.8,430.8 127.5,430.9 128.0,431.0 128.8,431.2 129.2,431.3 129.9,431.5 130.5,431.7 131.0,431.8 131.6,432.0 132.2,432.2 132.8,432.4 133.2,432.6 133.8,432.8 134.2,433.1 134.8,433.3 135.2,433.6 M110.8,428.3 110.0,428.5 109.3,428.2 108.8,428.0 108.5,427.8 108.0,427.3 107.7,427.0 107.3,426.5 107.0,426.1 106.8,425.7 106.5,425.2 106.2,424.7 106.0,424.1 105.8,423.5 105.6,423.0 105.4,422.5 105.2,422.0 105.0,421.2 104.9,420.8 104.8,420.1 104.6,419.5 104.5,419.0 104.4,418.2 104.2,417.6 104.1,417.0 104.0,416.2 104.0,415.8 103.9,415.0 103.8,414.2 103.7,413.8 103.7,413.0 103.6,412.2 103.6,411.5 103.6,410.8 103.5,410.0 103.5,409.2 103.5,408.5 103.5,407.8 103.5,407.0 103.5,406.2 103.6,405.5 103.6,404.8 103.6,404.0 103.7,403.2 103.7,402.5 103.8,402.0 103.8,401.2 103.9,400.5 104.0,399.8 104.1,399.2 104.2,398.5 104.2,397.9 104.3,397.2 104.5,396.5 104.5,396.0 104.7,395.2 104.8,394.7 104.9,394.0 105.0,393.2 105.1,392.8 105.2,392.0 105.3,391.5 105.4,390.8 105.5,390.2 105.7,389.5 105.8,388.9 105.9,388.2 106.0,387.5 106.1,387.0 106.2,386.2 106.2,385.6 106.3,385.0 106.4,384.2 106.5,383.5 106.6,383.0 106.6,382.2 106.7,381.5 106.8,381.0 106.8,380.2 106.9,379.5 107.0,378.8 107.0,378.2 107.1,377.5 107.2,376.8 107.2,376.0 107.2,375.2 107.3,374.8 107.3,374.0 107.3,373.2 107.3,372.5 107.3,371.8 107.2,371.1 107.2,370.5 107.2,369.8 107.1,369.0 107.0,368.2 107.0,367.8 106.9,367.0 106.9,366.2 106.8,365.5 106.7,365.0 106.7,364.2 106.6,363.5 106.6,362.8 106.5,362.0 106.5,361.3 106.5,360.8 106.5,360.0 106.4,359.2 106.4,358.5 106.5,357.8 106.5,357.0 106.5,356.2 106.5,355.8 106.6,355.0 106.6,354.2 106.7,353.5 106.8,353.0 106.8,352.2 106.9,351.5 107.0,351.0 107.2,350.2 107.3,349.8 107.5,349.0 107.6,348.5 107.8,348.0 108.0,347.3 108.2,346.8 108.4,346.2 108.7,345.8 108.9,345.2 109.2,344.8 109.5,344.4 109.8,344.0 110.2,343.5 110.5,343.1 110.9,342.8 111.2,342.4 111.8,342.0 112.2,341.8 112.7,341.5 113.2,341.2 113.8,341.1 114.2,340.9 115.0,340.8 115.8,340.8 116.5,340.9 117.0,341.0 117.7,341.2 118.2,341.5 118.8,341.7 119.1,342.0 119.5,342.3 120.0,342.7 120.4,343.0 120.8,343.4 121.0,343.8 121.4,344.2 121.8,344.7 122.0,345.1 122.2,345.5 122.5,346.0 122.8,346.5 123.0,347.1 123.2,347.7 123.4,348.2 123.6,348.8 123.8,349.2 124.0,350.0 124.1,350.5 124.2,351.2 124.4,351.8 124.5,352.5 124.6,353.0 124.7,353.8 124.7,354.5 124.8,355.0 124.8,355.8 124.9,356.5 124.9,357.2 124.9,358.0 124.9,358.8 124.9,359.5 124.9,360.2 124.8,361.0 124.8,361.7 124.7,362.2 124.6,363.0 124.5,363.7 124.4,364.2 124.3,365.0 124.2,365.5 124.0,366.2 123.9,366.8 123.8,367.5 123.7,368.0 123.5,368.7 123.4,369.2 123.2,369.8 123.1,370.5 122.9,371.0 122.8,371.8 122.7,372.2 122.5,373.0 122.5,373.5 122.3,374.2 122.3,375.0 122.2,375.5 122.2,376.2 122.2,377.0 122.2,377.8 122.2,378.5 122.3,379.0 122.4,379.8 122.5,380.5 122.6,381.0 122.7,381.8 122.8,382.2 122.9,383.0 123.0,383.5 123.2,384.2 123.3,384.8 123.5,385.5 123.6,386.0 123.8,386.6 123.9,387.2 124.0,387.8 124.2,388.5 124.4,389.0 124.5,389.5 124.7,390.2 124.8,390.8 125.0,391.3 125.2,392.0 125.3,392.5 125.5,393.1 125.7,393.8 125.8,394.2 126.0,394.9 126.2,395.5 126.3,396.0 126.5,396.7 126.6,397.2 126.8,397.8 126.9,398.5 127.0,399.0 127.2,399.8 127.2,400.3 127.4,401.0 127.5,401.8 127.5,402.2 127.6,403.0 127.6,403.8 127.7,404.5 127.7,405.2 127.7,406.0 127.7,406.8 127.7,407.5 127.6,408.2 127.6,409.0 127.5,409.6 127.4,410.2 127.3,411.0 127.2,411.5 127.1,412.2 127.0,412.8 126.8,413.5 126.7,414.0 126.5,414.5 126.3,415.2 126.1,415.8 125.9,416.2 125.7,416.8 125.5,417.2 125.2,417.8 125.0,418.2 124.7,418.8 124.4,419.2 124.0,419.8 123.8,420.1 123.4,420.5 123.0,420.9 122.7,421.2 122.2,421.6 121.8,422.0 121.3,422.2 120.8,422.5 120.2,422.7 119.8,422.9 119.2,423.0 118.5,423.1 118.0,423.3 117.2,423.5 116.8,423.7 116.2,424.0 115.8,424.2 115.5,424.5 115.0,424.9 114.6,425.2 114.2,425.6 113.8,426.0 113.5,426.3 113.0,426.8 112.7,427.0 112.2,427.4 111.8,427.8 111.4,428.0 111.0,428.2 M99.3,433.8 99.8,433.5 100.2,433.2 100.8,433.0 101.3,432.8 102.0,432.5 102.5,432.3 103.0,432.1 103.5,431.9 104.1,431.8 104.8,431.5 105.2,431.3 105.8,431.2 106.2,431.0 106.9,430.8 107.5,430.5 108.0,430.3 108.5,430.1 109.0,429.9 109.5,429.7 110.2,429.5 110.5,429.5 111.2,429.6 112.0,429.7 112.5,429.8 113.2,429.8 114.0,429.9 114.8,429.9 115.5,429.9 116.2,429.9 117.0,429.9 117.8,430.0 118.5,430.0 119.1,430.0 119.8,430.0 120.5,430.1 121.2,430.2 122.0,430.2 122.5,430.3 123.2,430.4 123.8,430.5 124.5,430.6 125.2,430.8 125.8,430.9 126.5,431.0 127.0,431.1 127.6,431.2 128.2,431.4 128.8,431.5 129.5,431.7 130.0,431.8 130.5,432.0 131.2,432.2 131.8,432.4 132.2,432.6 132.8,432.8 133.2,433.0 133.8,433.2 134.2,433.5 M110.5,427.0 109.8,427.0 109.2,426.9 108.8,426.7 108.2,426.3 108.0,426.0 107.5,425.5 107.2,425.1 107.0,424.7 106.8,424.2 106.5,423.7 106.2,423.2 106.0,422.5 105.8,422.0 105.6,421.5 105.5,421.0 105.3,420.2 105.1,419.8 105.0,419.1 104.9,418.5 104.8,417.9 104.6,417.2 104.5,416.5 104.4,416.0 104.3,415.2 104.2,414.6 104.2,414.0 104.1,413.2 104.0,412.5 104.0,411.8 104.0,411.2 103.9,410.5 103.9,409.8 103.9,409.0 103.9,408.2 103.9,407.5 103.9,406.8 103.9,406.0 104.0,405.2 104.0,404.5 104.0,404.0 104.1,403.2 104.1,402.5 104.2,401.8 104.3,401.2 104.3,400.5 104.4,399.8 104.5,399.2 104.6,398.5 104.7,397.8 104.8,397.2 104.9,396.5 105.0,396.0 105.1,395.2 105.2,394.6 105.4,394.0 105.5,393.3 105.6,392.8 105.8,392.1 105.9,391.5 106.0,390.9 106.1,390.2 106.2,389.6 106.4,389.0 106.5,388.4 106.6,387.8 106.8,387.0 106.8,386.5 107.0,385.8 107.1,385.2 107.2,384.5 107.3,384.0 107.4,383.2 107.5,382.5 107.5,382.0 107.6,381.2 107.7,380.5 107.8,380.0 107.9,379.2 107.9,378.5 108.0,377.8 108.0,377.2 108.1,376.5 108.1,375.8 108.1,375.0 108.1,374.2 108.1,373.5 108.1,372.8 108.0,372.0 108.0,371.4 107.9,370.8 107.9,370.0 107.8,369.2 107.7,368.8 107.6,368.0 107.6,367.2 107.5,366.8 107.4,366.0 107.3,365.2 107.3,364.5 107.2,364.0 107.2,363.2 107.1,362.5 107.1,361.8 107.0,361.0 107.0,360.2 107.0,359.8 107.0,359.0 107.0,358.2 107.0,357.5 107.0,357.0 107.0,356.2 107.1,355.5 107.1,354.8 107.2,354.0 107.3,353.5 107.4,352.8 107.5,352.0 107.6,351.5 107.7,350.8 107.8,350.2 108.0,349.5 108.1,349.0 108.3,348.5 108.5,347.9 108.8,347.3 109.0,346.8 109.2,346.2 109.5,345.8 109.8,345.4 110.0,345.0 110.4,344.5 110.8,344.1 111.1,343.8 111.5,343.3 111.9,343.0 112.3,342.8 112.8,342.5 113.2,342.2 113.9,342.0 114.5,341.9 115.2,341.8 116.0,341.8 116.8,341.9 117.2,342.1 117.8,342.2 118.3,342.5 118.8,342.8 119.2,343.1 119.7,343.5 120.0,343.8 120.4,344.2 120.8,344.6 121.0,345.0 121.4,345.5 121.7,346.0 122.0,346.5 122.2,347.0 122.5,347.5 122.7,348.0 122.9,348.5 123.0,349.0 123.2,349.7 123.4,350.2 123.5,350.8 123.7,351.5 123.8,352.0 123.9,352.8 124.0,353.2 124.1,354.0 124.2,354.8 124.2,355.3 124.3,356.0 124.3,356.8 124.4,357.5 124.4,358.2 124.4,359.0 124.3,359.8 124.3,360.5 124.2,361.2 124.2,361.8 124.1,362.5 124.0,363.2 123.9,363.8 123.8,364.5 123.7,365.0 123.6,365.8 123.5,366.2 123.3,367.0 123.2,367.5 123.0,368.2 122.9,368.8 122.7,369.2 122.6,370.0 122.4,370.5 122.2,371.2 122.1,371.8 122.0,372.2 121.8,373.0 121.7,373.5 121.6,374.2 121.5,374.8 121.4,375.5 121.3,376.2 121.3,377.0 121.3,377.8 121.4,378.5 121.4,379.2 121.5,380.0 121.6,380.5 121.7,381.2 121.8,381.8 121.9,382.5 122.0,383.0 122.2,383.8 122.3,384.2 122.5,385.0 122.6,385.5 122.8,386.2 122.9,386.8 123.0,387.3 123.2,388.0 123.3,388.5 123.4,389.2 123.6,389.8 123.7,390.5 123.8,391.0 124.0,391.7 124.1,392.2 124.2,392.8 124.4,393.5 124.5,394.0 124.7,394.8 124.8,395.2 124.9,396.0 125.0,396.5 125.2,397.2 125.3,397.8 125.4,398.5 125.5,399.2 125.6,399.8 125.7,400.5 125.8,401.0 125.9,401.8 125.9,402.5 126.0,403.2 126.0,403.8 126.0,404.5 126.1,405.2 126.1,406.0 126.0,406.8 126.0,407.5 126.0,408.0 125.9,408.8 125.8,409.5 125.7,410.0 125.6,410.8 125.5,411.2 125.3,412.0 125.2,412.5 125.0,413.0 124.8,413.8 124.6,414.2 124.4,414.8 124.1,415.2 123.9,415.8 123.6,416.2 123.3,416.8 123.0,417.1 122.7,417.5 122.3,418.0 122.0,418.3 121.5,418.7 121.1,419.0 120.7,419.2 120.2,419.5 119.7,419.8 119.1,420.0 118.6,420.2 118.0,420.5 117.6,420.8 117.2,421.0 116.8,421.4 116.4,421.8 116.0,422.1 115.6,422.5 115.2,422.9 115.0,423.2 114.5,423.8 114.2,424.1 113.9,424.5 113.5,424.9 113.2,425.2 112.8,425.7 112.4,426.0 112.0,426.3 111.5,426.6 111.0,426.9 110.5,427.0 M100.2,433.8 100.7,433.5 101.2,433.2 101.7,433.0 102.2,432.8 102.8,432.6 103.2,432.4 103.8,432.2 104.4,432.0 105.0,431.8 105.5,431.6 106.0,431.5 106.7,431.2 107.2,431.1 107.8,430.9 108.2,430.7 109.0,430.5 109.5,430.4 110.2,430.3 111.0,430.3 111.5,430.2 112.2,430.2 112.8,430.3 113.5,430.3 114.2,430.3 115.0,430.3 115.8,430.3 116.5,430.3 117.2,430.3 118.0,430.3 118.8,430.3 119.5,430.4 120.2,430.4 121.0,430.5 121.5,430.5 122.2,430.6 123.0,430.7 123.5,430.8 124.2,430.9 124.9,431.0 125.5,431.1 126.2,431.2 126.8,431.4 127.4,431.5 128.0,431.6 128.5,431.8 129.2,432.0 129.8,432.1 130.2,432.3 130.9,432.5 131.5,432.7 132.0,432.9 132.5,433.1 133.0,433.3 133.5,433.6 M110.2,425.8 109.8,425.7 109.0,425.5 108.6,425.2 108.2,424.9 107.9,424.5 107.5,424.0 107.2,423.6 107.0,423.2 106.8,422.7 106.5,422.1 106.3,421.5 106.1,421.0 105.9,420.5 105.8,420.0 105.6,419.2 105.4,418.8 105.3,418.0 105.2,417.5 105.0,416.8 104.9,416.2 104.8,415.5 104.7,415.0 104.6,414.2 104.6,413.5 104.5,412.8 104.5,412.2 104.4,411.5 104.4,410.8 104.3,410.0 104.3,409.2 104.3,408.5 104.3,407.8 104.3,407.0 104.3,406.2 104.4,405.5 104.4,404.8 104.4,404.0 104.5,403.3 104.5,402.8 104.6,402.0 104.7,401.2 104.8,400.8 104.9,400.0 105.0,399.2 105.0,398.8 105.2,398.0 105.2,397.4 105.4,396.8 105.5,396.1 105.6,395.5 105.8,394.8 105.9,394.2 106.0,393.7 106.2,393.0 106.3,392.5 106.5,391.8 106.6,391.2 106.8,390.5 106.9,390.0 107.0,389.5 107.2,388.8 107.3,388.2 107.5,387.5 107.6,387.0 107.8,386.5 107.9,385.8 108.0,385.2 108.2,384.5 108.3,384.0 108.5,383.2 108.6,382.8 108.7,382.0 108.8,381.5 108.9,380.8 109.0,380.2 109.1,379.5 109.2,378.8 109.2,378.0 109.3,377.5 109.3,376.8 109.3,376.0 109.3,375.2 109.2,374.8 109.2,374.0 109.1,373.2 109.0,372.5 109.0,372.0 108.8,371.2 108.8,370.6 108.6,370.0 108.5,369.2 108.5,368.8 108.3,368.0 108.2,367.4 108.2,366.8 108.1,366.0 108.0,365.5 107.9,364.8 107.8,364.0 107.8,363.2 107.7,362.8 107.7,362.0 107.6,361.2 107.6,360.5 107.6,359.8 107.6,359.0 107.6,358.2 107.6,357.5 107.6,356.8 107.7,356.0 107.7,355.2 107.8,354.8 107.8,354.0 107.9,353.2 108.0,352.8 108.1,352.0 108.2,351.4 108.4,350.8 108.5,350.2 108.7,349.5 108.9,349.0 109.1,348.5 109.3,348.0 109.5,347.5 109.8,347.0 110.0,346.5 110.3,346.0 110.7,345.5 111.0,345.1 111.3,344.8 111.8,344.4 112.2,344.0 112.5,343.8 113.0,343.5 113.5,343.2 114.2,343.0 114.8,342.9 115.5,342.8 116.2,342.9 116.8,343.0 117.5,343.2 118.0,343.5 118.5,343.8 118.8,344.0 119.2,344.3 119.7,344.8 120.0,345.1 120.4,345.5 120.7,346.0 121.0,346.4 121.2,346.8 121.5,347.3 121.8,347.8 122.0,348.3 122.2,348.9 122.5,349.5 122.6,350.0 122.8,350.5 123.0,351.2 123.1,351.8 123.2,352.5 123.3,353.0 123.4,353.8 123.5,354.2 123.6,355.0 123.7,355.8 123.7,356.5 123.8,357.1 123.8,357.8 123.8,358.5 123.8,359.2 123.7,359.8 123.7,360.5 123.6,361.2 123.6,362.0 123.5,362.5 123.4,363.2 123.3,364.0 123.2,364.5 123.0,365.2 122.9,365.8 122.8,366.5 122.6,367.0 122.5,367.6 122.3,368.2 122.2,368.8 122.0,369.4 121.8,370.0 121.7,370.5 121.5,371.1 121.3,371.8 121.2,372.2 121.0,372.9 120.8,373.5 120.7,374.0 120.5,374.8 120.4,375.2 120.3,376.0 120.2,376.5 120.2,377.2 120.2,378.0 120.2,378.8 120.2,379.5 120.3,380.0 120.4,380.8 120.5,381.2 120.7,382.0 120.8,382.5 120.9,383.2 121.1,383.8 121.2,384.5 121.4,385.0 121.5,385.6 121.7,386.2 121.8,386.8 121.9,387.5 122.1,388.0 122.2,388.8 122.3,389.2 122.5,390.0 122.6,390.5 122.7,391.2 122.8,391.8 122.9,392.5 123.0,393.2 123.1,393.8 123.2,394.5 123.2,395.2 123.3,395.8 123.3,396.5 123.4,397.2 123.4,398.0 123.4,398.8 123.5,399.5 123.4,400.2 123.4,401.0 123.4,401.8 123.3,402.5 123.3,403.2 123.2,403.8 123.1,404.5 123.0,405.0 122.9,405.8 122.8,406.3 122.6,407.0 122.4,407.5 122.2,408.0 122.0,408.8 121.8,409.2 121.6,409.8 121.4,410.2 121.1,410.8 120.9,411.2 120.6,411.8 120.3,412.2 120.0,412.8 119.8,413.2 119.5,413.6 119.2,414.0 118.9,414.5 118.6,415.0 118.3,415.5 118.0,416.0 117.8,416.4 117.5,416.8 117.2,417.3 117.0,417.8 116.7,418.2 116.4,418.8 116.1,419.2 115.9,419.8 115.6,420.2 115.3,420.8 115.0,421.2 114.8,421.6 114.5,422.0 114.1,422.5 113.8,423.0 113.5,423.4 113.2,423.8 112.8,424.2 112.5,424.5 112.0,425.0 111.6,425.2 111.1,425.5 110.5,425.7 M101.2,433.8 101.7,433.5 102.2,433.2 102.8,433.0 103.2,432.8 103.8,432.6 104.2,432.4 104.8,432.2 105.5,432.0 106.0,431.9 106.5,431.7 107.2,431.5 107.8,431.3 108.2,431.2 109.0,431.0 109.5,430.9 110.2,430.8 110.8,430.8 111.5,430.7 112.2,430.7 113.0,430.7 113.8,430.7 114.5,430.6 115.2,430.6 116.0,430.6 116.8,430.6 117.5,430.6 118.2,430.6 119.0,430.7 119.8,430.7 120.3,430.8 121.0,430.8 121.8,430.9 122.5,431.0 123.0,431.0 123.8,431.1 124.4,431.2 125.0,431.3 125.8,431.5 126.2,431.6 127.0,431.8 127.5,431.9 128.0,432.0 128.8,432.2 129.2,432.3 129.8,432.5 130.5,432.7 131.0,432.9 131.5,433.1 132.0,433.4 132.5,433.6 M110.5,424.3 109.8,424.3 109.2,424.2 108.8,423.9 108.3,423.5 108.0,423.2 107.7,422.8 107.4,422.2 107.1,421.8 106.9,421.2 106.7,420.8 106.5,420.2 106.2,419.6 106.1,419.0 105.9,418.5 105.8,417.8 105.6,417.2 105.5,416.6 105.4,416.0 105.3,415.2 105.2,414.8 105.1,414.0 105.0,413.2 105.0,412.8 104.9,412.0 104.8,411.2 104.8,410.5 104.8,409.8 104.8,409.0 104.8,408.2 104.8,407.5 104.8,406.8 104.8,406.0 104.8,405.2 104.9,404.5 104.9,403.8 105.0,403.0 105.0,402.5 105.1,401.8 105.2,401.0 105.3,400.5 105.4,399.8 105.5,399.1 105.6,398.5 105.7,397.8 105.8,397.2 106.0,396.5 106.1,396.0 106.2,395.3 106.4,394.8 106.5,394.2 106.7,393.5 106.8,393.0 107.0,392.5 107.2,391.8 107.4,391.2 107.5,390.8 107.8,390.1 107.9,389.5 108.1,389.0 108.3,388.5 108.5,387.9 108.7,387.2 108.9,386.8 109.1,386.2 109.3,385.8 109.5,385.2 109.8,384.7 110.0,384.0 110.2,383.5 110.4,383.0 110.6,382.5 110.8,382.0 111.0,381.5 111.2,380.9 111.4,380.2 111.5,379.8 111.6,379.0 111.6,378.2 111.5,377.7 111.4,377.0 111.2,376.4 111.1,375.8 111.0,375.2 110.8,374.5 110.6,374.0 110.5,373.5 110.3,372.8 110.1,372.2 110.0,371.7 109.8,371.0 109.7,370.5 109.5,369.8 109.4,369.2 109.3,368.5 109.2,368.0 109.0,367.2 108.9,366.8 108.8,366.0 108.7,365.5 108.6,364.8 108.5,364.0 108.5,363.5 108.4,362.8 108.3,362.0 108.3,361.2 108.3,360.5 108.2,359.8 108.2,359.2 108.2,358.5 108.3,358.0 108.3,357.2 108.3,356.5 108.4,355.8 108.4,355.0 108.5,354.4 108.6,353.8 108.7,353.0 108.8,352.5 108.9,351.8 109.1,351.2 109.2,350.5 109.4,350.0 109.6,349.5 109.8,349.0 110.0,348.5 110.2,347.9 110.5,347.5 110.8,347.0 111.1,346.5 111.5,346.1 111.8,345.8 112.2,345.3 112.6,345.0 113.0,344.8 113.5,344.5 114.1,344.2 114.8,344.1 115.5,344.0 116.2,344.1 117.0,344.2 117.5,344.4 118.0,344.7 118.4,345.0 118.8,345.2 119.2,345.7 119.5,346.0 120.0,346.5 120.2,346.9 120.5,347.3 120.8,347.8 121.1,348.2 121.3,348.8 121.5,349.2 121.8,349.9 122.0,350.5 122.1,351.0 122.3,351.5 122.4,352.2 122.5,352.8 122.7,353.5 122.8,354.0 122.9,354.8 123.0,355.5 123.0,356.1 123.0,356.8 123.1,357.5 123.1,358.2 123.1,359.0 123.1,359.8 123.0,360.5 123.0,361.0 122.9,361.8 122.8,362.5 122.7,363.0 122.6,363.8 122.5,364.4 122.4,365.0 122.2,365.6 122.1,366.2 122.0,366.8 121.8,367.5 121.6,368.0 121.5,368.5 121.2,369.2 121.1,369.8 120.9,370.2 120.7,370.8 120.5,371.3 120.3,372.0 120.1,372.5 119.9,373.0 119.7,373.5 119.5,374.0 119.2,374.6 119.0,375.2 118.8,375.8 118.6,376.2 118.5,376.8 118.3,377.5 118.2,378.0 118.1,378.8 118.1,379.5 118.2,380.2 118.3,380.8 118.5,381.4 118.7,382.0 118.9,382.5 119.0,383.0 119.2,383.6 119.5,384.2 119.7,384.8 119.8,385.2 120.0,385.8 120.2,386.5 120.3,387.0 120.5,387.6 120.7,388.2 120.8,388.8 120.9,389.5 121.0,390.0 121.1,390.8 121.2,391.5 121.3,392.0 121.4,392.8 121.4,393.5 121.4,394.2 121.4,395.0 121.4,395.8 121.4,396.5 121.3,397.2 121.3,398.0 121.2,398.5 121.0,399.2 120.9,399.8 120.8,400.5 120.6,401.0 120.5,401.5 120.2,402.1 120.0,402.8 119.8,403.2 119.6,403.8 119.4,404.2 119.2,404.8 119.0,405.3 118.8,405.9 118.5,406.5 118.4,407.0 118.2,407.5 118.0,408.1 117.8,408.8 117.7,409.2 117.5,409.9 117.4,410.5 117.2,411.0 117.1,411.8 116.9,412.2 116.8,413.0 116.6,413.5 116.5,414.0 116.3,414.8 116.2,415.2 116.0,415.8 115.8,416.5 115.6,417.0 115.4,417.5 115.2,418.0 115.0,418.6 114.8,419.2 114.5,419.8 114.3,420.2 114.0,420.7 113.8,421.2 113.5,421.6 113.2,422.0 112.9,422.5 112.5,422.9 112.2,423.2 111.8,423.7 111.3,424.0 110.8,424.2 M102.3,433.8 102.8,433.5 103.3,433.2 104.0,433.0 104.5,432.8 105.0,432.6 105.5,432.4 106.1,432.2 106.8,432.0 107.2,431.9 107.8,431.8 108.5,431.6 109.0,431.5 109.8,431.3 110.3,431.2 111.0,431.2 111.8,431.1 112.5,431.1 113.2,431.0 114.0,431.0 114.8,431.0 115.4,431.0 116.0,431.0 116.8,431.0 117.5,431.0 118.1,431.0 118.8,431.0 119.5,431.0 120.2,431.1 121.0,431.2 121.8,431.2 122.2,431.3 123.0,431.4 123.8,431.5 124.2,431.6 125.0,431.7 125.5,431.8 126.2,432.0 126.8,432.1 127.5,432.2 128.0,432.4 128.5,432.5 129.2,432.8 129.8,432.9 130.2,433.1 130.8,433.3 131.2,433.5 M116.0,374.8 115.2,374.9 114.5,374.8 114.0,374.6 113.5,374.3 113.1,374.0 112.8,373.6 112.4,373.2 112.1,372.8 111.8,372.2 111.5,371.8 111.3,371.2 111.1,370.8 110.9,370.2 110.7,369.8 110.5,369.2 110.3,368.5 110.1,368.0 110.0,367.4 109.8,366.8 109.7,366.2 109.6,365.5 109.5,365.0 109.4,364.2 109.3,363.5 109.2,363.0 109.2,362.2 109.1,361.5 109.1,360.8 109.0,360.0 109.0,359.2 109.0,358.5 109.0,357.8 109.1,357.0 109.1,356.2 109.2,355.5 109.2,354.9 109.3,354.2 109.5,353.5 109.5,353.0 109.7,352.2 109.8,351.8 110.0,351.1 110.2,350.5 110.4,350.0 110.6,349.5 110.8,349.0 111.1,348.5 111.4,348.0 111.7,347.5 112.0,347.2 112.4,346.8 112.8,346.4 113.2,346.1 113.8,345.8 114.2,345.6 114.8,345.4 115.5,345.4 116.2,345.4 116.8,345.5 117.3,345.8 117.8,346.0 118.2,346.4 118.7,346.8 119.0,347.0 119.4,347.5 119.8,348.0 120.0,348.4 120.2,348.8 120.5,349.3 120.8,349.8 121.0,350.4 121.2,351.0 121.4,351.5 121.5,352.0 121.7,352.8 121.8,353.2 121.9,354.0 122.0,354.5 122.1,355.2 122.2,356.0 122.2,356.8 122.3,357.2 122.3,358.0 122.3,358.8 122.3,359.5 122.2,360.0 122.2,360.8 122.1,361.5 122.0,362.2 122.0,362.8 121.8,363.5 121.7,364.0 121.6,364.8 121.5,365.2 121.3,366.0 121.1,366.5 121.0,367.0 120.8,367.7 120.6,368.2 120.4,368.8 120.2,369.2 120.0,369.8 119.8,370.3 119.5,370.8 119.2,371.3 119.0,371.8 118.7,372.2 118.4,372.8 118.0,373.2 117.8,373.6 117.3,374.0 117.0,374.3 116.5,374.6 116.0,374.8 M110.5,422.8 109.8,422.8 109.2,422.6 108.8,422.3 108.4,422.0 108.0,421.5 107.8,421.1 107.5,420.7 107.2,420.2 107.0,419.6 106.8,419.0 106.6,418.5 106.5,418.0 106.3,417.2 106.1,416.8 106.0,416.1 105.9,415.5 105.8,414.8 105.7,414.2 105.6,413.5 105.5,412.9 105.4,412.2 105.4,411.5 105.3,410.8 105.3,410.0 105.3,409.2 105.3,408.5 105.2,408.0 105.3,407.5 105.3,406.8 105.3,406.0 105.3,405.2 105.4,404.5 105.4,403.8 105.5,403.1 105.6,402.5 105.7,401.8 105.8,401.0 105.8,400.5 106.0,399.8 106.0,399.2 106.2,398.5 106.3,398.0 106.5,397.2 106.6,396.8 106.8,396.1 106.9,395.5 107.1,395.0 107.2,394.4 107.5,393.8 107.6,393.2 107.8,392.8 108.0,392.2 108.2,391.7 108.5,391.1 108.8,390.6 109.0,390.1 109.2,389.7 109.5,389.2 109.8,388.8 110.2,388.2 110.5,387.9 111.0,387.5 111.3,387.2 111.8,387.0 112.5,386.8 113.0,386.7 113.8,386.7 114.2,386.8 115.0,386.8 115.8,386.9 116.2,387.0 116.8,387.2 117.2,387.6 117.6,388.0 118.0,388.5 118.2,389.0 118.4,389.5 118.6,390.0 118.8,390.6 118.9,391.2 119.0,392.0 119.0,392.5 119.1,393.2 119.1,394.0 119.0,394.8 119.0,395.3 118.9,396.0 118.8,396.8 118.7,397.2 118.5,398.0 118.4,398.5 118.2,399.0 118.0,399.8 117.9,400.2 117.7,400.8 117.5,401.5 117.4,402.0 117.2,402.6 117.1,403.2 117.0,403.8 116.9,404.5 116.8,405.0 116.6,405.8 116.5,406.5 116.4,407.0 116.3,407.8 116.2,408.2 116.1,409.0 116.0,409.8 115.9,410.2 115.8,411.0 115.7,411.5 115.6,412.2 115.5,412.8 115.4,413.5 115.2,414.1 115.1,414.8 115.0,415.2 114.8,416.0 114.6,416.5 114.5,417.0 114.2,417.7 114.0,418.2 113.8,418.8 113.6,419.2 113.4,419.8 113.1,420.2 112.8,420.8 112.5,421.2 112.2,421.5 111.8,422.0 111.5,422.2 111.0,422.6 110.5,422.8 M103.5,433.8 104.0,433.5 104.5,433.3 105.0,433.1 105.5,432.9 106.0,432.8 106.8,432.5 107.2,432.4 107.8,432.2 108.5,432.0 109.0,431.9 109.8,431.8 110.2,431.7 111.0,431.6 111.8,431.5 112.3,431.5 113.0,431.5 113.8,431.4 114.5,431.4 115.2,431.4 116.0,431.4 116.8,431.4 117.5,431.4 118.2,431.4 119.0,431.4 119.8,431.4 120.5,431.5 121.0,431.5 121.8,431.6 122.5,431.7 123.0,431.8 123.8,431.9 124.4,432.0 125.0,432.1 125.7,432.2 126.2,432.4 126.8,432.5 127.5,432.7 128.0,432.8 128.5,433.0 129.2,433.2 129.8,433.4 130.2,433.7 M115.8,371.8 115.0,371.8 114.5,371.6 114.0,371.4 113.5,371.1 113.2,370.8 112.8,370.3 112.5,370.0 112.2,369.5 111.9,369.0 111.7,368.5 111.5,368.0 111.2,367.5 111.0,366.8 110.9,366.2 110.7,365.8 110.6,365.0 110.5,364.5 110.3,363.8 110.2,363.2 110.2,362.5 110.1,361.8 110.0,361.0 110.0,360.5 110.0,359.8 110.0,359.0 110.0,358.2 110.0,357.5 110.0,357.0 110.1,356.2 110.2,355.5 110.2,354.8 110.3,354.2 110.5,353.5 110.6,353.0 110.8,352.4 110.9,351.8 111.1,351.2 111.3,350.8 111.5,350.2 111.8,349.8 112.1,349.2 112.4,348.8 112.8,348.4 113.1,348.0 113.5,347.7 114.0,347.4 114.5,347.2 115.2,347.0 116.0,347.0 116.8,347.2 117.2,347.5 117.7,347.8 118.0,348.0 118.5,348.5 118.8,348.8 119.1,349.2 119.4,349.8 119.7,350.2 119.9,350.8 120.1,351.2 120.3,351.8 120.5,352.3 120.7,353.0 120.8,353.5 121.0,354.2 121.0,354.8 121.1,355.5 121.2,356.2 121.3,356.8 121.3,357.5 121.3,358.2 121.3,359.0 121.3,359.8 121.2,360.3 121.2,361.0 121.1,361.8 121.0,362.5 120.9,363.0 120.8,363.8 120.7,364.2 120.5,364.9 120.3,365.5 120.2,366.0 120.0,366.5 119.8,367.2 119.5,367.8 119.3,368.2 119.0,368.8 118.8,369.2 118.5,369.6 118.2,370.0 117.8,370.5 117.5,370.8 117.0,371.2 116.6,371.5 116.0,371.7 M110.5,421.0 109.8,421.1 109.2,420.9 108.8,420.5 108.5,420.2 108.1,419.8 107.8,419.2 107.6,418.8 107.4,418.2 107.2,417.8 107.0,417.2 106.8,416.5 106.7,416.0 106.5,415.3 106.4,414.8 106.3,414.0 106.2,413.5 106.1,412.8 106.0,412.1 105.9,411.5 105.9,410.8 105.8,410.0 105.8,409.2 105.8,408.5 105.8,407.8 105.8,407.0 105.8,406.2 105.9,405.5 105.9,404.8 106.0,404.0 106.0,403.5 106.1,402.8 106.2,402.0 106.3,401.5 106.4,400.8 106.5,400.2 106.7,399.5 106.8,399.0 107.0,398.2 107.1,397.8 107.2,397.2 107.5,396.5 107.6,396.0 107.8,395.5 108.0,395.0 108.2,394.4 108.5,393.9 108.8,393.5 109.0,393.0 109.4,392.5 109.8,392.0 110.0,391.8 110.5,391.4 111.0,391.2 111.8,391.1 112.5,391.2 113.0,391.5 113.3,391.8 113.8,392.2 114.0,392.5 114.4,393.0 114.7,393.5 114.9,394.0 115.1,394.5 115.2,395.2 115.4,395.8 115.5,396.5 115.5,397.0 115.6,397.8 115.6,398.5 115.6,399.2 115.6,400.0 115.6,400.8 115.5,401.5 115.5,402.2 115.5,402.8 115.4,403.5 115.4,404.2 115.4,405.0 115.3,405.8 115.2,406.4 115.2,407.0 115.1,407.8 115.1,408.5 115.0,409.1 114.9,409.8 114.8,410.5 114.8,411.2 114.7,411.8 114.5,412.5 114.5,413.0 114.3,413.8 114.2,414.2 114.0,415.0 113.9,415.5 113.8,416.0 113.5,416.8 113.3,417.2 113.1,417.8 112.9,418.2 112.7,418.8 112.4,419.2 112.1,419.8 111.8,420.1 111.4,420.5 111.0,420.8 110.5,421.0 M104.9,433.8 105.5,433.5 106.0,433.3 106.5,433.1 107.0,433.0 107.7,432.8 108.2,432.6 108.8,432.5 109.5,432.3 110.0,432.2 110.8,432.1 111.5,432.0 112.0,432.0 112.8,431.9 113.5,431.9 114.2,431.8 115.0,431.8 115.8,431.8 116.5,431.8 117.2,431.8 118.0,431.8 118.8,431.8 119.5,431.8 120.2,431.9 121.0,432.0 121.5,432.0 122.2,432.1 123.0,432.2 123.5,432.3 124.2,432.4 124.8,432.5 125.5,432.7 126.0,432.8 126.8,433.0 127.2,433.1 127.8,433.3 128.3,433.5 129.0,433.8 M116.2,368.6 115.5,368.7 114.8,368.6 114.2,368.3 113.8,368.0 113.5,367.7 113.2,367.2 112.8,366.8 112.6,366.2 112.4,365.8 112.2,365.2 112.0,364.7 111.8,364.0 111.7,363.5 111.5,362.8 111.5,362.2 111.4,361.5 111.3,360.8 111.3,360.0 111.2,359.3 111.2,358.8 111.3,358.2 111.3,357.5 111.3,356.8 111.4,356.0 111.5,355.4 111.6,354.8 111.8,354.0 111.9,353.5 112.0,353.0 112.2,352.4 112.5,351.8 112.8,351.3 113.0,350.9 113.3,350.5 113.8,350.0 114.1,349.8 114.5,349.5 115.2,349.2 115.8,349.2 116.2,349.3 116.8,349.5 117.2,349.9 117.7,350.2 118.0,350.6 118.3,351.0 118.6,351.5 118.8,352.0 119.0,352.5 119.2,353.2 119.4,353.8 119.5,354.2 119.7,355.0 119.8,355.5 119.9,356.2 119.9,357.0 120.0,357.8 120.0,358.5 120.0,359.2 119.9,360.0 119.9,360.8 119.8,361.5 119.7,362.0 119.6,362.8 119.5,363.2 119.3,364.0 119.1,364.5 118.9,365.0 118.7,365.5 118.5,366.0 118.2,366.5 118.0,367.0 117.6,367.5 117.2,367.9 116.8,368.2 116.4,368.5 M110.2,419.1 109.6,419.0 109.2,418.8 108.8,418.4 108.5,418.0 108.2,417.5 107.9,417.0 107.7,416.5 107.5,415.9 107.3,415.2 107.2,414.8 107.0,414.0 106.9,413.5 106.8,412.8 106.7,412.2 106.6,411.5 106.6,410.8 106.5,410.0 106.5,409.5 106.5,408.8 106.4,408.0 106.5,407.2 106.5,406.5 106.5,406.0 106.5,405.2 106.6,404.5 106.7,403.8 106.8,403.2 106.9,402.5 107.0,401.8 107.1,401.2 107.2,400.5 107.4,400.0 107.5,399.5 107.7,398.8 107.9,398.2 108.1,397.8 108.3,397.2 108.5,396.8 108.8,396.2 109.1,395.8 109.5,395.2 109.8,395.0 110.2,394.7 110.8,394.5 111.2,394.5 111.8,394.8 112.2,395.2 112.5,395.5 112.8,396.0 113.1,396.5 113.3,397.0 113.5,397.8 113.6,398.2 113.8,398.8 113.9,399.5 114.0,400.2 114.0,400.8 114.1,401.5 114.2,402.2 114.2,403.0 114.2,403.8 114.2,404.5 114.2,405.2 114.2,406.0 114.2,406.8 114.1,407.5 114.1,408.2 114.0,409.0 114.0,409.5 113.9,410.2 113.8,411.0 113.7,411.5 113.6,412.2 113.5,412.9 113.4,413.5 113.2,414.0 113.1,414.8 112.9,415.2 112.7,415.8 112.5,416.4 112.2,417.0 112.0,417.4 111.8,417.8 111.4,418.2 111.0,418.7 110.5,419.0 M106.6,433.8 107.2,433.5 107.8,433.4 108.2,433.2 109.0,433.0 109.5,432.9 110.2,432.8 110.8,432.7 111.5,432.6 112.0,432.5 112.8,432.4 113.5,432.4 114.2,432.3 115.0,432.3 115.8,432.3 116.5,432.3 117.2,432.3 118.0,432.3 118.8,432.3 119.5,432.3 120.2,432.4 121.0,432.5 121.5,432.5 122.2,432.6 123.0,432.7 123.5,432.8 124.2,433.0 124.8,433.1 125.5,433.2 126.0,433.4 126.5,433.5 127.1,433.8 M116.0,362.8 115.2,363.0 114.8,362.5 114.5,362.1 114.3,361.5 114.2,361.0 114.0,360.2 114.0,359.8 113.9,359.0 113.9,358.2 113.9,357.5 114.0,356.8 114.1,356.2 114.2,355.5 114.4,355.0 114.7,354.5 115.0,354.1 115.5,353.9 116.0,354.0 116.5,354.5 116.7,355.0 116.9,355.5 117.0,356.0 117.1,356.8 117.1,357.5 117.1,358.2 117.0,359.0 117.0,359.5 116.9,360.2 116.8,361.0 116.6,361.5 116.5,362.0 116.2,362.5 M110.2,416.5 109.7,416.5 109.2,416.2 108.8,415.8 108.5,415.2 108.3,414.8 108.1,414.2 107.9,413.8 107.8,413.0 107.6,412.5 107.5,411.8 107.4,411.2 107.4,410.5 107.3,409.8 107.3,409.0 107.2,408.5 107.2,407.8 107.2,407.2 107.3,406.5 107.3,405.8 107.4,405.0 107.5,404.2 107.6,403.8 107.7,403.0 107.8,402.5 108.0,401.8 108.1,401.2 108.3,400.8 108.5,400.1 108.8,399.6 109.0,399.1 109.2,398.7 109.7,398.2 110.1,398.0 110.8,397.9 111.2,398.2 111.5,398.5 111.8,399.0 112.1,399.5 112.3,400.0 112.5,400.7 112.6,401.2 112.8,401.9 112.8,402.5 112.9,403.2 113.0,403.9 113.0,404.5 113.1,405.2 113.1,406.0 113.1,406.8 113.1,407.5 113.0,408.2 113.0,408.9 112.9,409.5 112.9,410.2 112.8,411.0 112.7,411.5 112.5,412.2 112.4,412.8 112.2,413.4 112.1,414.0 111.9,414.5 111.6,415.0 111.4,415.5 111.0,416.0 110.8,416.3 110.2,416.5 M109.0,433.8 109.8,433.6 110.2,433.4 111.0,433.3 111.5,433.2 112.2,433.1 113.0,433.0 113.5,433.0 114.2,432.9 115.0,432.9 115.8,432.9 116.5,432.8 117.2,432.8 118.0,432.9 118.8,432.9 119.5,432.9 120.2,433.0 120.8,433.0 121.5,433.1 122.2,433.2 122.8,433.3 123.5,433.5 124.0,433.6 124.6,433.8 M110.2,412.8 109.7,412.8 109.2,412.3 109.0,411.8 108.8,411.2 108.7,410.8 108.6,410.0 108.5,409.5 108.4,408.8 108.4,408.0 108.4,407.2 108.5,406.5 108.5,406.0 108.6,405.2 108.8,404.6 108.9,404.0 109.1,403.5 109.3,403.0 109.7,402.5 110.2,402.3 110.8,402.6 111.0,403.0 111.2,403.6 111.4,404.2 111.5,404.8 111.6,405.5 111.7,406.2 111.7,407.0 111.7,407.8 111.7,408.5 111.6,409.2 111.5,410.0 111.4,410.5 111.2,411.1 111.0,411.8 110.8,412.2 110.5,412.6 M114.6,433.8 115.2,433.7 116.0,433.7 116.8,433.7 117.5,433.7 118.2,433.7 119.0,433.7" fill="none" stroke="#3a3a3a" stroke-width="0.45" clip-path="url(#cL)"/>
<g fill="#555" clip-path="url(#cL)"><rect x="135.1" y="390.0" width="0.7" height="0.7"/><rect x="138.4" y="405.7" width="0.7" height="0.7"/><rect x="132.0" y="356.2" width="0.7" height="0.7"/><rect x="133.9" y="325.5" width="0.7" height="0.7"/><rect x="136.9" y="407.9" width="0.7" height="0.7"/><rect x="128.5" y="356.5" width="0.7" height="0.7"/><rect x="131.6" y="351.5" width="0.7" height="0.7"/><rect x="133.1" y="377.5" width="0.7" height="0.7"/><rect x="136.0" y="428.5" width="0.7" height="0.7"/><rect x="140.6" y="389.7" width="0.7" height="0.7"/><rect x="127.8" y="347.4" width="0.7" height="0.7"/><rect x="135.0" y="388.7" width="0.7" height="0.7"/><rect x="127.5" y="328.7" width="0.7" height="0.7"/><rect x="130.2" y="373.5" width="0.7" height="0.7"/><rect x="134.1" y="390.4" width="0.7" height="0.7"/><rect x="131.5" y="376.7" width="0.7" height="0.7"/><rect x="130.9" y="345.0" width="0.7" height="0.7"/><rect x="130.9" y="345.9" width="0.7" height="0.7"/><rect x="131.4" y="325.4" width="0.7" height="0.7"/><rect x="127.1" y="341.1" width="0.7" height="0.7"/><rect x="133.9" y="416.6" width="0.7" height="0.7"/><rect x="133.9" y="413.1" width="0.7" height="0.7"/><rect x="142.0" y="402.1" width="0.7" height="0.7"/><rect x="131.8" y="381.3" width="0.7" height="0.7"/><rect x="144.5" y="415.6" width="0.7" height="0.7"/><rect x="140.1" y="387.2" width="0.7" height="0.7"/><rect x="129.7" y="365.3" width="0.7" height="0.7"/><rect x="130.3" y="340.6" width="0.7" height="0.7"/><rect x="130.2" y="364.5" width="0.7" height="0.7"/><rect x="137.2" y="386.4" width="0.7" height="0.7"/><rect x="136.0" y="391.4" width="0.7" height="0.7"/><rect x="133.0" y="340.7" width="0.7" height="0.7"/><rect x="127.6" y="349.9" width="0.7" height="0.7"/><rect x="132.8" y="335.1" width="0.7" height="0.7"/><rect x="130.9" y="347.4" width="0.7" height="0.7"/><rect x="137.5" y="356.2" width="0.7" height="0.7"/><rect x="134.0" y="393.9" width="0.7" height="0.7"/><rect x="137.3" y="412.9" width="0.7" height="0.7"/><rect x="135.5" y="419.0" width="0.7" height="0.7"/><rect x="134.9" y="340.1" width="0.7" height="0.7"/><rect x="135.2" y="421.5" width="0.7" height="0.7"/><rect x="127.2" y="343.8" width="0.7" height="0.7"/><rect x="139.6" y="391.7" width="0.7" height="0.7"/><rect x="128.9" y="364.1" width="0.7" height="0.7"/><rect x="130.1" y="349.9" width="0.7" height="0.7"/><rect x="137.2" y="416.1" width="0.7" height="0.7"/><rect x="137.3" y="382.0" width="0.7" height="0.7"/><rect x="136.7" y="403.1" width="0.7" height="0.7"/><rect x="128.4" y="363.7" width="0.7" height="0.7"/><rect x="137.7" y="337.8" width="0.7" height="0.7"/><rect x="138.4" y="393.4" width="0.7" height="0.7"/><rect x="142.6" y="379.5" width="0.7" height="0.7"/><rect x="129.9" y="360.8" width="0.7" height="0.7"/><rect x="136.2" y="396.1" width="0.7" height="0.7"/><rect x="131.1" y="379.0" width="0.7" height="0.7"/><rect x="136.4" y="419.6" width="0.7" height="0.7"/><rect x="133.9" y="422.1" width="0.7" height="0.7"/><rect x="139.3" y="403.3" width="0.7" height="0.7"/><rect x="131.2" y="339.2" width="0.7" height="0.7"/><rect x="134.6" y="409.8" width="0.7" height="0.7"/><rect x="136.8" y="390.4" width="0.7" height="0.7"/><rect x="140.7" y="378.4" width="0.7" height="0.7"/><rect x="128.5" y="348.5" width="0.7" height="0.7"/><rect x="131.2" y="362.8" width="0.7" height="0.7"/><rect x="130.7" y="361.0" width="0.7" height="0.7"/><rect x="137.1" y="384.6" width="0.7" height="0.7"/><rect x="135.0" y="353.2" width="0.7" height="0.7"/><rect x="134.4" y="371.2" width="0.7" height="0.7"/><rect x="131.3" y="378.6" width="0.7" height="0.7"/><rect x="138.9" y="418.2" width="0.7" height="0.7"/><rect x="136.5" y="385.4" width="0.7" height="0.7"/><rect x="137.9" y="416.3" width="0.7" height="0.7"/><rect x="140.5" y="421.0" width="0.7" height="0.7"/><rect x="127.3" y="369.7" width="0.7" height="0.7"/><rect x="133.6" y="423.9" width="0.7" height="0.7"/><rect x="135.3" y="408.8" width="0.7" height="0.7"/><rect x="133.5" y="399.6" width="0.7" height="0.7"/><rect x="128.1" y="359.6" width="0.7" height="0.7"/><rect x="130.9" y="346.1" width="0.7" height="0.7"/><rect x="130.2" y="347.1" width="0.7" height="0.7"/><rect x="135.4" y="412.4" width="0.7" height="0.7"/><rect x="135.9" y="374.8" width="0.7" height="0.7"/><rect x="137.0" y="393.6" width="0.7" height="0.7"/><rect x="137.5" y="425.0" width="0.7" height="0.7"/><rect x="133.9" y="390.3" width="0.7" height="0.7"/><rect x="129.0" y="344.1" width="0.7" height="0.7"/><rect x="127.3" y="367.8" width="0.7" height="0.7"/><rect x="140.2" y="409.8" width="0.7" height="0.7"/><rect x="129.3" y="336.8" width="0.7" height="0.7"/><rect x="133.7" y="408.4" width="0.7" height="0.7"/><rect x="133.0" y="379.4" width="0.7" height="0.7"/><rect x="128.2" y="329.9" width="0.7" height="0.7"/><rect x="126.6" y="327.1" width="0.7" height="0.7"/><rect x="130.2" y="350.9" width="0.7" height="0.7"/><rect x="135.6" y="384.0" width="0.7" height="0.7"/><rect x="138.7" y="386.4" width="0.7" height="0.7"/><rect x="134.3" y="395.5" width="0.7" height="0.7"/><rect x="130.8" y="357.3" width="0.7" height="0.7"/><rect x="136.1" y="381.0" width="0.7" height="0.7"/><rect x="141.8" y="393.4" width="0.7" height="0.7"/><rect x="131.2" y="344.9" width="0.7" height="0.7"/><rect x="131.3" y="329.1" width="0.7" height="0.7"/><rect x="141.7" y="424.8" width="0.7" height="0.7"/><rect x="135.8" y="330.3" width="0.7" height="0.7"/><rect x="132.1" y="358.1" width="0.7" height="0.7"/><rect x="138.1" y="390.2" width="0.7" height="0.7"/><rect x="138.1" y="357.6" width="0.7" height="0.7"/><rect x="133.7" y="407.9" width="0.7" height="0.7"/><rect x="133.7" y="404.8" width="0.7" height="0.7"/><rect x="134.8" y="345.5" width="0.7" height="0.7"/><rect x="138.8" y="391.4" width="0.7" height="0.7"/><rect x="129.3" y="335.0" width="0.7" height="0.7"/><rect x="135.7" y="390.7" width="0.7" height="0.7"/><rect x="137.1" y="408.6" width="0.7" height="0.7"/><rect x="138.4" y="400.1" width="0.7" height="0.7"/><rect x="137.8" y="417.9" width="0.7" height="0.7"/><rect x="128.4" y="327.8" width="0.7" height="0.7"/><rect x="134.2" y="347.3" width="0.7" height="0.7"/><rect x="134.0" y="423.3" width="0.7" height="0.7"/><rect x="134.5" y="351.3" width="0.7" height="0.7"/><rect x="137.6" y="393.4" width="0.7" height="0.7"/><rect x="126.9" y="364.6" width="0.7" height="0.7"/><rect x="139.9" y="393.9" width="0.7" height="0.7"/><rect x="138.6" y="364.2" width="0.7" height="0.7"/><rect x="141.9" y="381.1" width="0.7" height="0.7"/><rect x="130.3" y="350.7" width="0.7" height="0.7"/><rect x="134.1" y="372.6" width="0.7" height="0.7"/><rect x="139.9" y="403.3" width="0.7" height="0.7"/><rect x="132.7" y="356.2" width="0.7" height="0.7"/><rect x="133.8" y="404.4" width="0.7" height="0.7"/><rect x="126.7" y="338.9" width="0.7" height="0.7"/><rect x="129.5" y="333.5" width="0.7" height="0.7"/><rect x="132.2" y="353.0" width="0.7" height="0.7"/><rect x="137.3" y="411.6" width="0.7" height="0.7"/><rect x="133.5" y="344.5" width="0.7" height="0.7"/><rect x="133.5" y="416.9" width="0.7" height="0.7"/><rect x="143.0" y="398.9" width="0.7" height="0.7"/><rect x="136.0" y="400.6" width="0.7" height="0.7"/><rect x="135.6" y="410.9" width="0.7" height="0.7"/><rect x="127.9" y="363.6" width="0.7" height="0.7"/><rect x="130.4" y="379.0" width="0.7" height="0.7"/><rect x="128.0" y="344.8" width="0.7" height="0.7"/><rect x="137.4" y="380.8" width="0.7" height="0.7"/><rect x="133.5" y="418.2" width="0.7" height="0.7"/><rect x="129.6" y="344.2" width="0.7" height="0.7"/><rect x="143.5" y="392.0" width="0.7" height="0.7"/><rect x="138.8" y="428.7" width="0.7" height="0.7"/><rect x="137.2" y="412.7" width="0.7" height="0.7"/><rect x="127.7" y="366.1" width="0.7" height="0.7"/><rect x="127.6" y="344.2" width="0.7" height="0.7"/><rect x="141.8" y="403.8" width="0.7" height="0.7"/><rect x="126.8" y="371.3" width="0.7" height="0.7"/><rect x="130.0" y="368.7" width="0.7" height="0.7"/><rect x="136.3" y="412.8" width="0.7" height="0.7"/><rect x="128.4" y="365.3" width="0.7" height="0.7"/><rect x="133.9" y="400.1" width="0.7" height="0.7"/><rect x="135.7" y="411.4" width="0.7" height="0.7"/><rect x="127.7" y="365.3" width="0.7" height="0.7"/><rect x="142.3" y="404.1" width="0.7" height="0.7"/><rect x="131.2" y="340.4" width="0.7" height="0.7"/><rect x="137.7" y="410.8" width="0.7" height="0.7"/><rect x="134.1" y="337.8" width="0.7" height="0.7"/><rect x="135.2" y="427.7" width="0.7" height="0.7"/><rect x="134.0" y="384.8" width="0.7" height="0.7"/><rect x="139.0" y="403.0" width="0.7" height="0.7"/><rect x="144.6" y="420.1" width="0.7" height="0.7"/><rect x="134.6" y="405.0" width="0.7" height="0.7"/><rect x="129.4" y="374.2" width="0.7" height="0.7"/><rect x="132.6" y="357.6" width="0.7" height="0.7"/><rect x="138.5" y="399.9" width="0.7" height="0.7"/><rect x="134.9" y="330.9" width="0.7" height="0.7"/><rect x="136.5" y="417.4" width="0.7" height="0.7"/><rect x="127.6" y="350.6" width="0.7" height="0.7"/><rect x="133.9" y="348.6" width="0.7" height="0.7"/><rect x="137.3" y="377.3" width="0.7" height="0.7"/><rect x="131.7" y="343.3" width="0.7" height="0.7"/><rect x="131.0" y="375.4" width="0.7" height="0.7"/><rect x="134.6" y="394.7" width="0.7" height="0.7"/><rect x="132.0" y="379.8" width="0.7" height="0.7"/><rect x="130.1" y="378.7" width="0.7" height="0.7"/><rect x="131.3" y="380.8" width="0.7" height="0.7"/><rect x="143.8" y="407.2" width="0.7" height="0.7"/><rect x="126.8" y="343.7" width="0.7" height="0.7"/><rect x="128.6" y="336.8" width="0.7" height="0.7"/><rect x="141.2" y="422.9" width="0.7" height="0.7"/><rect x="137.4" y="425.9" width="0.7" height="0.7"/><rect x="138.7" y="377.7" width="0.7" height="0.7"/><rect x="137.2" y="420.2" width="0.7" height="0.7"/><rect x="138.9" y="357.8" width="0.7" height="0.7"/><rect x="130.8" y="331.9" width="0.7" height="0.7"/><rect x="127.5" y="373.4" width="0.7" height="0.7"/><rect x="139.8" y="404.1" width="0.7" height="0.7"/><rect x="139.8" y="404.2" width="0.7" height="0.7"/><rect x="139.3" y="413.4" width="0.7" height="0.7"/><rect x="136.1" y="401.5" width="0.7" height="0.7"/><rect x="127.2" y="342.4" width="0.7" height="0.7"/><rect x="128.4" y="342.2" width="0.7" height="0.7"/><rect x="141.4" y="387.1" width="0.7" height="0.7"/><rect x="134.6" y="422.4" width="0.7" height="0.7"/><rect x="135.3" y="378.5" width="0.7" height="0.7"/><rect x="137.8" y="425.4" width="0.7" height="0.7"/><rect x="135.7" y="408.6" width="0.7" height="0.7"/><rect x="139.2" y="408.4" width="0.7" height="0.7"/><rect x="140.2" y="391.9" width="0.7" height="0.7"/><rect x="130.9" y="370.1" width="0.7" height="0.7"/><rect x="143.9" y="397.0" width="0.7" height="0.7"/><rect x="129.8" y="359.8" width="0.7" height="0.7"/><rect x="128.6" y="346.7" width="0.7" height="0.7"/><rect x="139.7" y="405.0" width="0.7" height="0.7"/><rect x="134.5" y="400.7" width="0.7" height="0.7"/><rect x="137.1" y="424.7" width="0.7" height="0.7"/><rect x="135.7" y="367.5" width="0.7" height="0.7"/><rect x="135.6" y="379.4" width="0.7" height="0.7"/><rect x="132.4" y="333.8" width="0.7" height="0.7"/><rect x="137.8" y="383.0" width="0.7" height="0.7"/><rect x="129.0" y="329.1" width="0.7" height="0.7"/><rect x="136.4" y="390.6" width="0.7" height="0.7"/><rect x="128.2" y="332.7" width="0.7" height="0.7"/><rect x="133.6" y="348.1" width="0.7" height="0.7"/><rect x="138.4" y="416.4" width="0.7" height="0.7"/><rect x="126.6" y="372.2" width="0.7" height="0.7"/><rect x="138.9" y="398.6" width="0.7" height="0.7"/><rect x="136.3" y="408.9" width="0.7" height="0.7"/><rect x="137.8" y="389.5" width="0.7" height="0.7"/><rect x="134.8" y="395.5" width="0.7" height="0.7"/><rect x="129.7" y="367.2" width="0.7" height="0.7"/><rect x="129.8" y="366.2" width="0.7" height="0.7"/><rect x="132.5" y="364.6" width="0.7" height="0.7"/><rect x="133.8" y="403.6" width="0.7" height="0.7"/><rect x="131.5" y="360.2" width="0.7" height="0.7"/><rect x="115.8" y="335.9" width="0.7" height="0.7"/><rect x="119.9" y="330.5" width="0.7" height="0.7"/><rect x="105.2" y="325.0" width="0.7" height="0.7"/><rect x="116.5" y="336.1" width="0.7" height="0.7"/><rect x="106.9" y="332.0" width="0.7" height="0.7"/><rect x="111.5" y="333.6" width="0.7" height="0.7"/><rect x="118.3" y="330.2" width="0.7" height="0.7"/><rect x="111.7" y="328.5" width="0.7" height="0.7"/><rect x="111.5" y="330.3" width="0.7" height="0.7"/><rect x="110.2" y="330.5" width="0.7" height="0.7"/><rect x="105.0" y="332.3" width="0.7" height="0.7"/><rect x="114.1" y="336.5" width="0.7" height="0.7"/><rect x="115.8" y="328.1" width="0.7" height="0.7"/><rect x="116.3" y="331.2" width="0.7" height="0.7"/><rect x="109.8" y="325.5" width="0.7" height="0.7"/><rect x="109.9" y="327.2" width="0.7" height="0.7"/><rect x="120.5" y="335.7" width="0.7" height="0.7"/><rect x="110.2" y="330.9" width="0.7" height="0.7"/><rect x="113.9" y="330.7" width="0.7" height="0.7"/><rect x="109.5" y="328.8" width="0.7" height="0.7"/><rect x="109.5" y="334.9" width="0.7" height="0.7"/><rect x="107.0" y="334.4" width="0.7" height="0.7"/><rect x="124.3" y="330.5" width="0.7" height="0.7"/><rect x="113.6" y="333.7" width="0.7" height="0.7"/><rect x="104.6" y="333.2" width="0.7" height="0.7"/><rect x="115.8" y="333.1" width="0.7" height="0.7"/><rect x="115.4" y="330.9" width="0.7" height="0.7"/><rect x="115.6" y="333.0" width="0.7" height="0.7"/><rect x="123.7" y="337.5" width="0.7" height="0.7"/><rect x="115.2" y="328.6" width="0.7" height="0.7"/><rect x="115.6" y="325.4" width="0.7" height="0.7"/><rect x="111.5" y="334.9" width="0.7" height="0.7"/><rect x="109.7" y="327.1" width="0.7" height="0.7"/><rect x="115.4" y="328.8" width="0.7" height="0.7"/><rect x="114.9" y="331.1" width="0.7" height="0.7"/><rect x="110.3" y="333.4" width="0.7" height="0.7"/><rect x="112.7" y="334.9" width="0.7" height="0.7"/><rect x="116.0" y="329.1" width="0.7" height="0.7"/><rect x="116.4" y="330.4" width="0.7" height="0.7"/><rect x="112.3" y="326.4" width="0.7" height="0.7"/><rect x="103.5" y="333.1" width="0.7" height="0.7"/><rect x="116.9" y="326.4" width="0.7" height="0.7"/><rect x="113.5" y="328.3" width="0.7" height="0.7"/><rect x="110.1" y="324.8" width="0.7" height="0.7"/><rect x="112.7" y="326.7" width="0.7" height="0.7"/></g>
<path d="M100.5,431 C101.5,428 103,427.2 108,427 L128,426.8 C133,427 135.5,428.5 137.5,431" fill="none" stroke="#1a1a1a" stroke-width="1.6" clip-path="url(#cL)"/>
<rect x="70.80" y="324.20" width="80.20" height="56.20" fill="none" stroke="#d04650" stroke-width="1.1"/>
<rect x="62.10" y="380.40" width="92.50" height="50.50" fill="none" stroke="#d04650" stroke-width="1.1"/>
<text x="72.80" y="337.90" font-size="10.4" textLength="29.5" lengthAdjust="spacingAndGlyphs" fill="#000" >CD41+</text>
<text x="66.80" y="392.90" font-size="10.4" textLength="26.7" lengthAdjust="spacingAndGlyphs" fill="#000" >CD41-</text>
<rect x="49.80" y="322.90" width="108.50" height="108.00" fill="none" stroke="#000" stroke-width="1.4"/>
<line x1="48.00" y1="429.94" x2="49.80" y2="429.94" stroke="#000" stroke-width="0.9" />
<line x1="48.00" y1="426.88" x2="49.80" y2="426.88" stroke="#000" stroke-width="0.9" />
<line x1="48.00" y1="424.39" x2="49.80" y2="424.39" stroke="#000" stroke-width="0.9" />
<line x1="48.00" y1="422.28" x2="49.80" y2="422.28" stroke="#000" stroke-width="0.9" />
<line x1="48.00" y1="420.45" x2="49.80" y2="420.45" stroke="#000" stroke-width="0.9" />
<line x1="48.00" y1="418.84" x2="49.80" y2="418.84" stroke="#000" stroke-width="0.9" />
<line x1="46.20" y1="417.40" x2="49.80" y2="417.40" stroke="#000" stroke-width="1.1" />
<line x1="48.00" y1="407.92" x2="49.80" y2="407.92" stroke="#000" stroke-width="0.9" />
<line x1="48.00" y1="402.37" x2="49.80" y2="402.37" stroke="#000" stroke-width="0.9" />
<line x1="48.00" y1="398.44" x2="49.80" y2="398.44" stroke="#000" stroke-width="0.9" />
<line x1="48.00" y1="395.38" x2="49.80" y2="395.38" stroke="#000" stroke-width="0.9" />
<line x1="48.00" y1="392.89" x2="49.80" y2="392.89" stroke="#000" stroke-width="0.9" />
<line x1="48.00" y1="390.78" x2="49.80" y2="390.78" stroke="#000" stroke-width="0.9" />
<line x1="48.00" y1="388.95" x2="49.80" y2="388.95" stroke="#000" stroke-width="0.9" />
<line x1="48.00" y1="387.34" x2="49.80" y2="387.34" stroke="#000" stroke-width="0.9" />
<line x1="46.20" y1="385.90" x2="49.80" y2="385.90" stroke="#000" stroke-width="1.1" />
<line x1="48.00" y1="376.42" x2="49.80" y2="376.42" stroke="#000" stroke-width="0.9" />
<line x1="48.00" y1="370.87" x2="49.80" y2="370.87" stroke="#000" stroke-width="0.9" />
<line x1="48.00" y1="366.94" x2="49.80" y2="366.94" stroke="#000" stroke-width="0.9" />
<line x1="48.00" y1="363.88" x2="49.80" y2="363.88" stroke="#000" stroke-width="0.9" />
<line x1="48.00" y1="361.39" x2="49.80" y2="361.39" stroke="#000" stroke-width="0.9" />
<line x1="48.00" y1="359.28" x2="49.80" y2="359.28" stroke="#000" stroke-width="0.9" />
<line x1="48.00" y1="357.45" x2="49.80" y2="357.45" stroke="#000" stroke-width="0.9" />
<line x1="48.00" y1="355.84" x2="49.80" y2="355.84" stroke="#000" stroke-width="0.9" />
<line x1="46.20" y1="354.40" x2="49.80" y2="354.40" stroke="#000" stroke-width="1.1" />
<line x1="48.00" y1="344.92" x2="49.80" y2="344.92" stroke="#000" stroke-width="0.9" />
<line x1="48.00" y1="339.37" x2="49.80" y2="339.37" stroke="#000" stroke-width="0.9" />
<line x1="48.00" y1="335.44" x2="49.80" y2="335.44" stroke="#000" stroke-width="0.9" />
<line x1="48.00" y1="332.38" x2="49.80" y2="332.38" stroke="#000" stroke-width="0.9" />
<line x1="48.00" y1="329.89" x2="49.80" y2="329.89" stroke="#000" stroke-width="0.9" />
<line x1="48.00" y1="327.78" x2="49.80" y2="327.78" stroke="#000" stroke-width="0.9" />
<line x1="48.00" y1="325.95" x2="49.80" y2="325.95" stroke="#000" stroke-width="0.9" />
<line x1="48.00" y1="324.34" x2="49.80" y2="324.34" stroke="#000" stroke-width="0.9" />
<line x1="46.20" y1="322.90" x2="49.80" y2="322.90" stroke="#000" stroke-width="1.1" />
<text x="41.40" y="328.40" font-size="10.0" text-anchor="end">10<tspan dy="-4.2" font-size="7.0">4</tspan></text>
<text x="41.40" y="359.90" font-size="10.0" text-anchor="end">10<tspan dy="-4.2" font-size="7.0">3</tspan></text>
<text x="41.40" y="391.40" font-size="10.0" text-anchor="end">10<tspan dy="-4.2" font-size="7.0">2</tspan></text>
<text x="41.40" y="422.90" font-size="10.0" text-anchor="end">10<tspan dy="-4.2" font-size="7.0">1</tspan></text>
<line x1="49.80" y1="430.90" x2="49.80" y2="434.50" stroke="#000" stroke-width="1.1" />
<line x1="60.69" y1="430.90" x2="60.69" y2="432.70" stroke="#000" stroke-width="0.9" />
<line x1="67.06" y1="430.90" x2="67.06" y2="432.70" stroke="#000" stroke-width="0.9" />
<line x1="71.58" y1="430.90" x2="71.58" y2="432.70" stroke="#000" stroke-width="0.9" />
<line x1="75.08" y1="430.90" x2="75.08" y2="432.70" stroke="#000" stroke-width="0.9" />
<line x1="77.95" y1="430.90" x2="77.95" y2="432.70" stroke="#000" stroke-width="0.9" />
<line x1="80.37" y1="430.90" x2="80.37" y2="432.70" stroke="#000" stroke-width="0.9" />
<line x1="82.46" y1="430.90" x2="82.46" y2="432.70" stroke="#000" stroke-width="0.9" />
<line x1="84.31" y1="430.90" x2="84.31" y2="432.70" stroke="#000" stroke-width="0.9" />
<line x1="85.97" y1="430.90" x2="85.97" y2="434.50" stroke="#000" stroke-width="1.1" />
<line x1="96.86" y1="430.90" x2="96.86" y2="432.70" stroke="#000" stroke-width="0.9" />
<line x1="103.23" y1="430.90" x2="103.23" y2="432.70" stroke="#000" stroke-width="0.9" />
<line x1="107.75" y1="430.90" x2="107.75" y2="432.70" stroke="#000" stroke-width="0.9" />
<line x1="111.25" y1="430.90" x2="111.25" y2="432.70" stroke="#000" stroke-width="0.9" />
<line x1="114.12" y1="430.90" x2="114.12" y2="432.70" stroke="#000" stroke-width="0.9" />
<line x1="116.54" y1="430.90" x2="116.54" y2="432.70" stroke="#000" stroke-width="0.9" />
<line x1="118.63" y1="430.90" x2="118.63" y2="432.70" stroke="#000" stroke-width="0.9" />
<line x1="120.48" y1="430.90" x2="120.48" y2="432.70" stroke="#000" stroke-width="0.9" />
<line x1="122.14" y1="430.90" x2="122.14" y2="434.50" stroke="#000" stroke-width="1.1" />
<line x1="133.03" y1="430.90" x2="133.03" y2="432.70" stroke="#000" stroke-width="0.9" />
<line x1="139.40" y1="430.90" x2="139.40" y2="432.70" stroke="#000" stroke-width="0.9" />
<line x1="143.92" y1="430.90" x2="143.92" y2="432.70" stroke="#000" stroke-width="0.9" />
<line x1="147.42" y1="430.90" x2="147.42" y2="432.70" stroke="#000" stroke-width="0.9" />
<line x1="150.29" y1="430.90" x2="150.29" y2="432.70" stroke="#000" stroke-width="0.9" />
<line x1="152.71" y1="430.90" x2="152.71" y2="432.70" stroke="#000" stroke-width="0.9" />
<line x1="154.80" y1="430.90" x2="154.80" y2="432.70" stroke="#000" stroke-width="0.9" />
<line x1="156.65" y1="430.90" x2="156.65" y2="432.70" stroke="#000" stroke-width="0.9" />
<line x1="158.31" y1="430.90" x2="158.31" y2="434.50" stroke="#000" stroke-width="1.1" />
<text x="50.40" y="447.60" font-size="10.0" text-anchor="middle">10<tspan dy="-4.2" font-size="7.0">0</tspan></text>
<text x="86.57" y="447.60" font-size="10.0" text-anchor="middle">10<tspan dy="-4.2" font-size="7.0">1</tspan></text>
<text x="122.73" y="447.60" font-size="10.0" text-anchor="middle">10<tspan dy="-4.2" font-size="7.0">2</tspan></text>
<text x="158.90" y="447.60" font-size="10.0" text-anchor="middle">10<tspan dy="-4.2" font-size="7.0">3</tspan></text>
<line x1="17.00" y1="401.40" x2="17.00" y2="322.60" stroke="#333" stroke-width="1.2" marker-end="url(#ah)"/>
<text x="20.60" y="417.00" font-size="11.8" text-anchor="middle" textLength="25" lengthAdjust="spacingAndGlyphs" transform="rotate(-90 20.60 417.00)" fill="#000" >CD41</text>
<line x1="79.20" y1="459.90" x2="158.90" y2="459.90" stroke="#333" stroke-width="1.2" marker-end="url(#ah)"/>
<text x="51.50" y="464.20" font-size="11.8" textLength="23.5" lengthAdjust="spacingAndGlyphs" fill="#000" >CD14</text>
<line x1="143.60" y1="349.40" x2="187.90" y2="336.60" stroke="#a3173a" stroke-width="1.3" marker-end="url(#ahr)"/>
<line x1="143.60" y1="405.60" x2="187.90" y2="416.00" stroke="#a3173a" stroke-width="1.3" marker-end="url(#ahr)"/>
<path d="M291.2,324.8 290.5,324.8 290.0,324.8 289.2,324.7 288.5,324.5 288.0,324.3 287.5,324.2 287.0,323.9 286.5,323.7 286.0,323.4 285.5,323.0 285.2,322.8 284.8,322.4 284.3,322.0 284.0,321.6 283.7,321.2 283.3,320.8 283.0,320.4 282.7,320.0 282.4,319.5 282.2,319.0 281.9,318.5 281.7,318.0 281.5,317.5 281.2,316.9 281.1,316.2 280.9,315.8 280.8,315.1 280.6,314.5 280.5,313.8 280.5,313.2 280.4,312.5 280.4,311.8 280.4,311.0 280.4,310.2 280.5,309.5 280.5,309.0 280.6,308.2 280.8,307.6 280.9,307.0 281.0,306.4 281.2,305.8 281.3,305.2 281.5,304.5 281.6,304.0 281.8,303.5 281.9,302.8 282.0,302.2 282.1,301.5 282.1,300.8 282.1,300.0 282.1,299.2 282.0,298.5 282.0,298.0 282.0,297.2 282.0,296.5 282.0,296.0 282.1,295.2 282.2,294.5 282.3,294.0 282.5,293.4 282.7,292.8 282.9,292.2 283.1,291.8 283.4,291.2 283.6,290.8 283.9,290.2 284.2,289.8 284.5,289.2 284.8,288.9 285.0,288.5 285.4,288.0 285.8,287.5 286.0,287.2 286.4,286.8 286.8,286.3 287.1,286.0 287.5,285.5 287.8,285.2 288.2,284.8 288.6,284.5 289.0,284.1 289.4,283.8 289.8,283.5 290.2,283.1 290.7,282.8 291.0,282.5 291.5,282.1 292.0,281.8 292.4,281.5 292.8,281.2 293.2,281.0 293.8,280.7 294.2,280.4 294.8,280.1 295.2,279.8 295.8,279.6 296.2,279.3 296.8,279.1 297.2,278.9 297.8,278.6 298.2,278.4 298.8,278.2 299.4,278.0 300.0,277.8 300.5,277.6 301.0,277.5 301.8,277.3 302.2,277.2 303.0,277.0 303.5,276.9 304.2,276.8 304.8,276.8 305.5,276.7 306.2,276.6 307.0,276.6 307.8,276.7 308.5,276.7 309.0,276.8 309.8,276.9 310.2,277.0 310.9,277.2 311.5,277.5 312.0,277.7 312.5,277.9 313.0,278.2 313.3,278.5 313.8,278.8 314.2,279.2 314.5,279.6 314.8,280.0 315.1,280.5 315.3,281.0 315.5,281.5 315.7,282.2 315.8,282.8 315.9,283.5 315.9,284.2 315.8,285.0 315.7,285.5 315.6,286.2 315.4,286.8 315.2,287.3 315.0,287.9 314.8,288.5 314.5,289.0 314.3,289.5 314.0,289.9 313.8,290.4 313.5,290.8 313.2,291.2 312.8,291.8 312.5,292.2 312.2,292.5 311.9,293.0 311.5,293.5 311.2,293.8 310.8,294.2 310.5,294.7 310.2,295.0 309.8,295.5 309.5,295.9 309.2,296.2 308.9,296.8 308.7,297.2 308.5,297.9 308.5,298.5 308.6,299.0 308.8,299.6 309.0,300.1 309.2,300.6 309.5,301.0 309.9,301.5 310.2,301.9 310.6,302.2 311.0,302.7 311.4,303.0 311.8,303.3 312.2,303.7 312.6,304.0 313.0,304.3 313.5,304.7 313.9,305.0 314.2,305.3 314.7,305.8 315.0,306.1 315.3,306.5 315.7,307.0 316.0,307.4 316.2,307.9 316.5,308.4 316.7,309.0 316.9,309.5 317.0,310.2 317.0,310.8 317.0,311.5 317.0,312.0 316.8,312.8 316.6,313.2 316.4,313.8 316.2,314.2 315.9,314.8 315.5,315.2 315.2,315.6 314.9,316.0 314.5,316.4 314.1,316.8 313.8,317.0 313.2,317.4 312.8,317.7 312.2,318.0 311.8,318.2 311.2,318.5 310.8,318.7 310.2,318.9 309.8,319.0 309.0,319.2 308.5,319.4 307.8,319.5 307.2,319.6 306.5,319.7 305.8,319.8 305.2,319.8 304.5,319.8 303.8,319.8 303.0,319.9 302.2,320.0 301.8,320.0 301.0,320.2 300.5,320.4 300.0,320.6 299.5,320.9 299.0,321.2 298.5,321.5 298.1,321.8 297.7,322.0 297.2,322.3 296.8,322.6 296.2,323.0 295.8,323.2 295.3,323.5 294.8,323.8 294.3,324.0 293.8,324.2 293.2,324.4 292.8,324.5 292.0,324.7 291.3,324.8 M292.2,324.0 291.5,324.1 290.8,324.2 290.0,324.1 289.2,324.0 288.8,323.9 288.1,323.8 287.5,323.5 287.0,323.3 286.5,323.0 286.1,322.8 285.8,322.5 285.2,322.1 284.9,321.8 284.5,321.4 284.2,321.0 283.8,320.5 283.5,320.2 283.2,319.8 282.9,319.2 282.6,318.8 282.3,318.2 282.1,317.8 281.9,317.2 281.7,316.8 281.5,316.0 281.3,315.5 281.2,315.0 281.1,314.2 281.0,313.7 280.9,313.0 280.9,312.2 280.8,311.5 280.8,310.8 280.9,310.0 281.0,309.2 281.0,308.8 281.2,308.0 281.3,307.5 281.4,306.8 281.6,306.2 281.8,305.6 281.9,305.0 282.1,304.5 282.2,303.9 282.4,303.2 282.6,302.8 282.7,302.0 282.8,301.5 282.9,300.8 282.9,300.0 282.8,299.2 282.8,298.5 282.7,298.0 282.7,297.2 282.7,296.5 282.7,295.8 282.8,295.2 282.9,294.5 283.0,294.0 283.2,293.2 283.4,292.8 283.6,292.2 283.8,291.8 284.0,291.2 284.3,290.8 284.5,290.2 284.8,289.8 285.1,289.2 285.5,288.8 285.8,288.4 286.0,288.0 286.4,287.5 286.8,287.1 287.0,286.8 287.5,286.3 287.8,286.0 288.2,285.5 288.5,285.2 289.0,284.8 289.3,284.5 289.8,284.1 290.2,283.8 290.5,283.5 291.0,283.1 291.4,282.8 291.8,282.5 292.2,282.2 292.8,281.8 293.2,281.5 293.7,281.2 294.1,281.0 294.5,280.8 295.0,280.5 295.5,280.2 296.0,280.0 296.5,279.7 297.0,279.5 297.5,279.2 298.1,279.0 298.8,278.8 299.2,278.6 299.8,278.4 300.2,278.2 301.0,278.0 301.5,277.9 302.0,277.8 302.8,277.6 303.3,277.5 304.0,277.4 304.8,277.3 305.3,277.2 306.0,277.2 306.8,277.2 307.5,277.2 308.0,277.3 308.8,277.4 309.3,277.5 310.0,277.7 310.5,277.8 311.0,278.0 311.5,278.2 312.0,278.5 312.5,278.8 313.0,279.2 313.3,279.5 313.8,280.0 314.0,280.3 314.3,280.8 314.6,281.2 314.8,281.8 315.0,282.5 315.1,283.0 315.1,283.8 315.1,284.5 315.1,285.2 315.0,285.8 314.8,286.5 314.7,287.0 314.5,287.5 314.2,288.1 314.0,288.7 313.8,289.2 313.5,289.7 313.2,290.1 313.0,290.5 312.7,291.0 312.4,291.5 312.0,292.0 311.8,292.3 311.4,292.8 311.0,293.2 310.8,293.6 310.4,294.0 310.0,294.4 309.7,294.8 309.3,295.2 309.0,295.6 308.7,296.0 308.3,296.5 308.0,297.0 307.8,297.5 307.6,298.0 307.5,298.8 307.6,299.5 307.8,300.0 308.0,300.5 308.3,301.0 308.5,301.5 308.9,302.0 309.2,302.5 309.5,302.9 309.9,303.2 310.2,303.6 310.7,304.0 311.0,304.3 311.5,304.7 311.9,305.0 312.2,305.3 312.8,305.7 313.1,306.0 313.5,306.4 313.8,306.8 314.2,307.2 314.5,307.6 314.8,308.0 315.0,308.5 315.2,309.1 315.4,309.8 315.5,310.2 315.6,311.0 315.5,311.8 315.4,312.2 315.2,312.9 315.0,313.5 314.8,314.0 314.5,314.4 314.2,314.8 313.8,315.2 313.5,315.6 313.0,316.0 312.7,316.2 312.2,316.6 311.8,316.9 311.2,317.2 310.8,317.4 310.2,317.7 309.8,317.8 309.2,318.0 308.5,318.2 308.0,318.4 307.2,318.5 306.8,318.6 306.0,318.7 305.2,318.7 304.5,318.8 304.0,318.8 303.2,318.8 302.5,318.9 301.8,319.0 301.2,319.1 300.8,319.3 300.2,319.5 299.8,319.8 299.2,320.1 298.8,320.4 298.3,320.8 298.0,321.0 297.5,321.4 297.0,321.7 296.6,322.0 296.2,322.2 295.8,322.6 295.2,322.8 294.8,323.1 294.2,323.4 293.8,323.6 293.2,323.8 292.5,324.0 M291.0,323.5 290.2,323.5 289.8,323.5 289.0,323.3 288.5,323.2 287.9,323.0 287.3,322.8 286.9,322.5 286.5,322.2 286.0,321.9 285.5,321.5 285.2,321.2 284.8,320.8 284.5,320.5 284.1,320.0 283.8,319.6 283.5,319.2 283.2,318.8 282.9,318.2 282.7,317.8 282.5,317.2 282.2,316.7 282.0,316.0 281.9,315.5 281.7,315.0 281.6,314.2 281.5,313.7 281.4,313.0 281.4,312.2 281.3,311.5 281.3,310.8 281.4,310.0 281.5,309.2 281.6,308.8 281.7,308.0 281.8,307.5 282.0,306.8 282.1,306.2 282.3,305.8 282.5,305.1 282.7,304.5 282.9,304.0 283.0,303.5 283.2,302.9 283.4,302.2 283.5,301.8 283.7,301.0 283.7,300.2 283.7,299.5 283.6,298.8 283.5,298.0 283.5,297.5 283.5,296.8 283.5,296.0 283.5,295.5 283.6,294.8 283.7,294.0 283.8,293.5 284.0,293.0 284.2,292.3 284.5,291.8 284.7,291.2 284.9,290.8 285.2,290.2 285.5,289.8 285.8,289.4 286.0,289.0 286.3,288.5 286.7,288.0 287.0,287.6 287.3,287.2 287.8,286.8 288.0,286.5 288.5,286.0 288.8,285.7 289.2,285.2 289.5,285.0 290.0,284.5 290.3,284.2 290.8,283.9 291.2,283.5 291.6,283.2 292.0,282.9 292.5,282.6 293.0,282.3 293.4,282.0 293.8,281.8 294.2,281.5 294.8,281.2 295.2,280.9 295.8,280.6 296.2,280.4 296.8,280.1 297.2,279.9 297.8,279.7 298.2,279.5 298.9,279.2 299.5,279.0 300.0,278.9 300.5,278.7 301.2,278.5 301.8,278.4 302.3,278.2 303.0,278.1 303.7,278.0 304.2,277.9 305.0,277.9 305.8,277.8 306.5,277.8 307.2,277.9 308.0,277.9 308.5,278.0 309.2,278.2 309.8,278.3 310.2,278.5 310.8,278.8 311.3,279.0 311.8,279.3 312.2,279.7 312.6,280.0 313.0,280.4 313.3,280.8 313.6,281.2 313.9,281.8 314.1,282.2 314.2,283.0 314.3,283.5 314.4,284.2 314.4,285.0 314.3,285.8 314.2,286.2 314.0,286.9 313.8,287.5 313.6,288.0 313.4,288.5 313.2,289.0 312.9,289.5 312.6,290.0 312.3,290.5 312.0,291.0 311.8,291.4 311.5,291.8 311.1,292.2 310.8,292.7 310.5,293.0 310.1,293.5 309.8,293.9 309.4,294.2 309.0,294.7 308.7,295.0 308.3,295.5 308.0,295.8 307.7,296.2 307.3,296.8 307.0,297.2 306.8,297.7 306.5,298.2 306.4,298.8 306.4,299.5 306.5,300.0 306.8,300.7 306.9,301.2 307.1,301.8 307.4,302.2 307.6,302.8 307.9,303.2 308.2,303.7 308.5,304.0 309.0,304.5 309.3,304.8 309.8,305.1 310.2,305.5 310.5,305.8 311.0,306.1 311.5,306.5 311.8,306.8 312.2,307.2 312.5,307.6 312.8,308.0 313.1,308.5 313.4,309.0 313.6,309.5 313.8,310.1 313.8,310.8 313.8,311.5 313.7,312.0 313.5,312.8 313.3,313.2 313.0,313.7 312.8,314.1 312.4,314.5 312.0,314.9 311.6,315.2 311.2,315.5 310.8,315.9 310.2,316.2 309.8,316.4 309.2,316.6 308.8,316.8 308.1,317.0 307.5,317.2 307.0,317.3 306.2,317.4 305.5,317.4 304.8,317.5 304.2,317.5 303.5,317.6 302.8,317.6 302.0,317.8 301.5,317.9 301.0,318.1 300.5,318.3 300.0,318.6 299.5,318.9 299.0,319.2 298.7,319.5 298.2,319.9 297.8,320.2 297.5,320.5 297.0,320.9 296.5,321.2 296.2,321.5 295.8,321.8 295.2,322.1 294.8,322.4 294.2,322.7 293.8,322.9 293.2,323.1 292.7,323.2 292.0,323.4 291.2,323.5 M291.8,322.8 291.0,322.8 290.2,322.8 289.5,322.8 289.0,322.6 288.5,322.5 287.8,322.2 287.3,322.0 286.9,321.8 286.5,321.5 286.0,321.1 285.5,320.8 285.2,320.5 284.8,320.0 284.5,319.6 284.2,319.2 283.9,318.8 283.6,318.2 283.3,317.8 283.1,317.2 282.9,316.8 282.7,316.2 282.5,315.7 282.3,315.0 282.2,314.5 282.0,313.8 282.0,313.2 281.9,312.5 281.9,311.8 281.9,311.0 281.9,310.2 282.0,309.5 282.1,309.0 282.2,308.2 282.3,307.8 282.5,307.0 282.6,306.5 282.8,306.0 283.0,305.5 283.2,304.8 283.5,304.2 283.7,303.8 283.9,303.2 284.1,302.8 284.2,302.2 284.5,301.5 284.6,301.0 284.6,300.2 284.6,299.5 284.5,298.8 284.5,298.2 284.4,297.5 284.3,296.8 284.3,296.0 284.3,295.2 284.4,294.5 284.5,293.9 284.7,293.2 284.8,292.8 285.0,292.2 285.2,291.6 285.5,291.1 285.8,290.6 286.0,290.1 286.2,289.7 286.5,289.2 286.9,288.8 287.2,288.2 287.5,287.9 287.8,287.5 288.2,287.0 288.5,286.7 289.0,286.2 289.2,286.0 289.7,285.5 290.0,285.2 290.5,284.8 290.8,284.5 291.2,284.2 291.8,283.8 292.1,283.5 292.5,283.2 293.0,282.9 293.5,282.5 293.9,282.2 294.4,282.0 294.8,281.8 295.2,281.5 295.8,281.2 296.2,281.0 296.8,280.7 297.2,280.5 297.8,280.2 298.4,280.0 299.0,279.8 299.5,279.6 300.0,279.4 300.6,279.2 301.2,279.1 301.8,278.9 302.5,278.8 303.0,278.7 303.8,278.6 304.5,278.5 305.0,278.5 305.8,278.5 306.5,278.5 307.0,278.5 307.8,278.6 308.5,278.8 309.0,278.9 309.5,279.1 310.0,279.3 310.5,279.5 311.0,279.8 311.5,280.2 311.9,280.5 312.2,280.9 312.5,281.2 312.9,281.8 313.1,282.2 313.3,282.8 313.5,283.5 313.5,284.0 313.6,284.8 313.5,285.5 313.5,286.0 313.3,286.8 313.2,287.2 313.0,287.8 312.8,288.4 312.5,288.9 312.2,289.4 312.0,289.9 311.8,290.3 311.5,290.8 311.1,291.2 310.8,291.8 310.5,292.1 310.2,292.5 309.8,293.0 309.5,293.3 309.1,293.8 308.8,294.1 308.4,294.5 308.0,294.9 307.7,295.2 307.2,295.7 307.0,296.0 306.6,296.5 306.2,296.9 306.0,297.3 305.7,297.8 305.4,298.2 305.2,298.8 305.0,299.5 305.0,300.0 305.0,300.5 305.1,301.2 305.2,302.0 305.2,302.7 305.4,303.2 305.5,303.8 305.8,304.2 306.1,304.8 306.5,305.1 307.0,305.5 307.3,305.8 307.8,306.0 308.2,306.4 308.8,306.7 309.2,307.0 309.5,307.3 310.0,307.7 310.3,308.0 310.8,308.5 311.0,308.8 311.2,309.3 311.5,309.9 311.6,310.5 311.7,311.2 311.5,312.0 311.3,312.5 311.1,313.0 310.8,313.5 310.5,313.8 310.0,314.2 309.6,314.5 309.2,314.8 308.8,315.0 308.2,315.2 307.5,315.5 307.0,315.6 306.5,315.8 305.8,315.9 305.0,315.9 304.2,316.0 303.8,316.0 303.0,316.1 302.2,316.2 301.8,316.4 301.2,316.6 300.8,316.8 300.2,317.1 299.8,317.5 299.5,317.8 299.0,318.2 298.6,318.5 298.2,318.9 297.8,319.2 297.5,319.5 297.0,320.0 296.7,320.2 296.2,320.6 295.8,321.0 295.4,321.2 295.0,321.5 294.5,321.8 294.0,322.0 293.5,322.3 292.8,322.5 292.2,322.7 291.8,322.8 M291.8,322.0 291.0,322.1 290.2,322.1 289.5,322.0 289.0,321.9 288.5,321.8 287.9,321.5 287.4,321.2 287.0,321.0 286.5,320.7 286.0,320.3 285.7,320.0 285.2,319.5 285.0,319.2 284.6,318.8 284.3,318.2 284.0,317.8 283.8,317.3 283.5,316.8 283.3,316.2 283.1,315.8 283.0,315.2 282.8,314.5 282.7,314.0 282.5,313.2 282.5,312.8 282.4,312.0 282.4,311.2 282.4,310.5 282.5,309.9 282.6,309.2 282.7,308.5 282.8,308.0 283.0,307.4 283.2,306.8 283.4,306.2 283.6,305.8 283.8,305.2 284.0,304.7 284.2,304.2 284.5,303.7 284.8,303.1 285.0,302.6 285.2,302.0 285.4,301.5 285.6,301.0 285.7,300.2 285.6,299.5 285.5,298.8 285.4,298.2 285.3,297.5 285.2,297.0 285.2,296.2 285.1,295.5 285.2,294.8 285.2,294.2 285.4,293.5 285.5,293.0 285.8,292.3 285.9,291.8 286.2,291.2 286.4,290.8 286.7,290.2 287.0,289.8 287.2,289.3 287.5,288.9 287.8,288.5 288.2,288.0 288.5,287.6 288.8,287.2 289.2,286.8 289.5,286.5 290.0,286.0 290.3,285.8 290.8,285.3 291.1,285.0 291.5,284.7 292.0,284.3 292.4,284.0 292.8,283.7 293.2,283.4 293.8,283.0 294.2,282.8 294.6,282.5 295.0,282.2 295.5,282.0 296.0,281.7 296.5,281.4 297.0,281.2 297.5,281.0 298.0,280.8 298.6,280.5 299.2,280.3 299.8,280.1 300.2,279.9 300.9,279.8 301.5,279.6 302.0,279.5 302.8,279.4 303.5,279.2 304.0,279.2 304.8,279.1 305.5,279.1 306.2,279.2 307.0,279.2 307.5,279.3 308.2,279.5 308.8,279.6 309.2,279.8 309.8,280.1 310.2,280.4 310.8,280.7 311.1,281.0 311.5,281.4 311.8,281.8 312.1,282.2 312.3,282.8 312.5,283.3 312.7,284.0 312.7,284.8 312.7,285.5 312.6,286.2 312.5,286.8 312.3,287.5 312.1,288.0 311.9,288.5 311.7,289.0 311.5,289.5 311.2,290.0 310.9,290.5 310.5,291.0 310.2,291.4 310.0,291.8 309.6,292.2 309.2,292.7 309.0,293.0 308.5,293.5 308.2,293.8 307.8,294.2 307.5,294.6 307.1,295.0 306.8,295.4 306.4,295.8 306.0,296.1 305.6,296.5 305.2,296.9 304.9,297.2 304.5,297.8 304.2,298.1 303.9,298.5 303.6,299.0 303.2,299.5 303.0,299.8 302.6,300.2 302.2,300.6 301.8,301.0 301.2,301.2 300.8,301.4 300.2,301.6 299.8,301.8 299.2,302.1 298.8,302.5 298.7,303.0 298.8,303.6 299.0,304.2 299.2,304.7 299.5,305.1 299.8,305.5 300.2,306.0 300.5,306.3 301.0,306.8 301.3,307.0 301.8,307.3 302.2,307.5 303.0,307.7 303.5,307.8 304.2,308.0 304.8,308.0 305.5,308.2 306.0,308.4 306.5,308.6 307.0,308.9 307.5,309.2 307.8,309.5 308.1,310.0 308.3,310.5 308.3,311.2 308.2,311.8 307.9,312.2 307.5,312.6 307.0,313.0 306.5,313.2 306.0,313.4 305.5,313.5 304.8,313.6 304.0,313.7 303.5,313.8 302.8,314.0 302.2,314.1 301.8,314.3 301.2,314.7 300.8,315.0 300.5,315.3 300.0,315.7 299.7,316.0 299.3,316.5 299.0,316.8 298.6,317.2 298.2,317.7 297.9,318.0 297.5,318.5 297.2,318.8 296.8,319.2 296.5,319.5 296.0,319.9 295.6,320.2 295.2,320.5 294.8,320.8 294.2,321.1 293.8,321.4 293.2,321.6 292.8,321.8 292.0,322.0 M291.5,321.3 290.8,321.3 290.0,321.3 289.5,321.2 288.8,321.0 288.2,320.9 287.8,320.6 287.2,320.3 286.8,320.0 286.5,319.8 286.0,319.3 285.7,319.0 285.3,318.5 285.0,318.1 284.7,317.8 284.5,317.2 284.2,316.8 284.0,316.2 283.8,315.7 283.5,315.0 283.4,314.5 283.2,313.9 283.1,313.2 283.1,312.5 283.0,311.8 283.0,311.0 283.1,310.2 283.2,309.5 283.2,309.0 283.4,308.2 283.5,307.8 283.8,307.1 284.0,306.5 284.2,306.0 284.4,305.5 284.6,305.0 284.9,304.5 285.2,304.0 285.5,303.5 285.8,303.1 286.0,302.7 286.2,302.2 286.5,301.8 286.8,301.1 286.9,300.5 286.9,299.8 286.8,299.0 286.6,298.5 286.5,298.0 286.3,297.2 286.2,296.8 286.1,296.0 286.1,295.2 286.1,294.5 286.2,293.8 286.3,293.2 286.5,292.5 286.7,292.0 286.9,291.5 287.1,291.0 287.3,290.5 287.6,290.0 287.9,289.5 288.2,289.0 288.5,288.7 288.8,288.2 289.2,287.8 289.5,287.4 289.9,287.0 290.2,286.6 290.6,286.2 291.0,285.9 291.4,285.5 291.8,285.2 292.2,284.8 292.7,284.5 293.0,284.2 293.5,283.9 294.0,283.5 294.5,283.2 294.9,283.0 295.3,282.8 295.8,282.5 296.2,282.2 296.8,282.0 297.2,281.7 297.8,281.5 298.3,281.2 299.0,281.0 299.5,280.8 300.0,280.7 300.5,280.5 301.2,280.3 301.8,280.2 302.5,280.1 303.0,280.0 303.8,279.9 304.5,279.9 305.2,279.8 306.0,279.9 306.8,280.0 307.2,280.1 307.9,280.2 308.5,280.5 309.0,280.7 309.5,281.0 309.9,281.2 310.2,281.6 310.7,282.0 311.0,282.4 311.2,282.9 311.5,283.4 311.7,284.0 311.8,284.5 311.8,285.2 311.8,286.0 311.7,286.5 311.5,287.2 311.4,287.8 311.2,288.2 311.0,288.8 310.8,289.3 310.5,289.8 310.2,290.2 309.9,290.8 309.6,291.2 309.2,291.7 309.0,292.0 308.6,292.5 308.2,292.9 307.9,293.2 307.5,293.7 307.2,294.0 306.8,294.4 306.4,294.8 306.0,295.2 305.6,295.5 305.2,295.9 304.8,296.2 304.5,296.6 304.0,297.0 303.7,297.2 303.2,297.7 302.9,298.0 302.5,298.3 302.0,298.7 301.6,299.0 301.1,299.2 300.7,299.5 300.1,299.8 299.5,300.0 299.0,300.2 298.5,300.4 298.0,300.6 297.5,300.9 297.0,301.2 296.7,301.5 296.4,302.0 296.5,302.8 296.6,303.2 296.9,303.8 297.2,304.2 297.5,304.8 297.8,305.2 298.0,305.6 298.3,306.0 298.6,306.5 298.9,307.0 299.2,307.5 299.5,308.0 299.7,308.5 300.0,309.0 300.2,309.5 300.3,310.0 300.5,310.8 300.5,311.5 300.3,312.2 300.2,312.8 299.9,313.2 299.7,313.8 299.4,314.2 299.2,314.8 298.9,315.2 298.5,315.8 298.2,316.2 298.0,316.5 297.7,317.0 297.3,317.5 297.0,317.8 296.6,318.2 296.2,318.6 295.9,319.0 295.5,319.3 295.0,319.7 294.6,320.0 294.2,320.3 293.8,320.5 293.2,320.8 292.7,321.0 292.0,321.2 291.5,321.3 M292.2,320.3 291.5,320.4 290.8,320.5 290.0,320.5 289.2,320.3 288.8,320.2 288.2,320.0 287.8,319.7 287.2,319.4 286.8,319.0 286.5,318.7 286.0,318.2 285.8,317.9 285.4,317.5 285.1,317.0 284.8,316.5 284.6,316.0 284.4,315.5 284.2,315.0 284.0,314.2 283.9,313.8 283.8,313.0 283.7,312.5 283.7,311.8 283.7,311.0 283.7,310.2 283.8,309.8 283.9,309.0 284.0,308.5 284.2,307.8 284.4,307.2 284.6,306.8 284.9,306.2 285.1,305.8 285.4,305.2 285.7,304.8 286.0,304.3 286.2,304.0 286.6,303.5 287.0,303.0 287.2,302.7 287.7,302.2 288.0,301.8 288.2,301.5 288.5,301.0 288.7,300.2 288.5,299.5 288.3,299.0 288.1,298.5 287.8,298.0 287.6,297.5 287.4,297.0 287.2,296.3 287.1,295.8 287.1,295.0 287.1,294.2 287.2,293.5 287.3,293.0 287.5,292.2 287.6,291.8 287.8,291.2 288.1,290.8 288.3,290.2 288.6,289.8 289.0,289.2 289.2,288.8 289.5,288.5 289.9,288.0 290.2,287.6 290.6,287.2 291.0,286.8 291.3,286.5 291.8,286.1 292.1,285.8 292.5,285.4 293.0,285.0 293.4,284.8 293.8,284.5 294.2,284.1 294.8,283.8 295.2,283.5 295.7,283.2 296.1,283.0 296.6,282.8 297.1,282.5 297.6,282.2 298.2,282.0 298.8,281.8 299.2,281.6 299.8,281.4 300.3,281.2 301.0,281.1 301.5,281.0 302.2,280.8 302.8,280.7 303.5,280.7 304.2,280.6 305.0,280.6 305.8,280.7 306.2,280.8 307.0,280.9 307.5,281.1 308.0,281.3 308.5,281.6 309.0,281.9 309.4,282.2 309.8,282.6 310.1,283.0 310.4,283.5 310.6,284.0 310.8,284.7 310.8,285.2 310.8,286.0 310.8,286.7 310.6,287.2 310.5,287.8 310.2,288.5 310.0,289.0 309.8,289.5 309.5,290.0 309.2,290.4 309.0,290.8 308.7,291.2 308.3,291.8 308.0,292.1 307.7,292.5 307.2,293.0 307.0,293.2 306.5,293.8 306.2,294.0 305.8,294.5 305.4,294.8 305.0,295.1 304.6,295.5 304.2,295.8 303.8,296.2 303.4,296.5 303.0,296.8 302.5,297.1 302.0,297.5 301.6,297.8 301.2,298.0 300.7,298.2 300.2,298.5 299.6,298.8 299.0,299.0 298.5,299.2 298.0,299.3 297.5,299.5 296.8,299.8 296.2,300.0 295.8,300.2 295.2,300.4 294.8,300.8 294.5,301.1 294.3,301.8 294.5,302.4 294.8,302.8 295.0,303.2 295.4,303.8 295.7,304.2 296.0,304.6 296.3,305.0 296.6,305.5 297.0,306.0 297.2,306.5 297.5,306.9 297.8,307.4 298.0,307.9 298.2,308.5 298.4,309.0 298.6,309.5 298.7,310.2 298.8,310.8 298.8,311.5 298.8,312.0 298.6,312.8 298.5,313.3 298.3,314.0 298.0,314.5 297.8,315.0 297.6,315.5 297.3,316.0 297.0,316.4 296.8,316.8 296.4,317.2 296.0,317.7 295.7,318.0 295.2,318.5 295.0,318.8 294.5,319.1 294.0,319.5 293.5,319.8 293.0,320.0 292.5,320.2 M293.5,299.0 292.8,299.0 292.2,299.0 291.5,298.8 291.0,298.6 290.5,298.3 290.2,298.0 289.8,297.6 289.5,297.2 289.1,296.8 288.9,296.2 288.7,295.8 288.5,295.1 288.4,294.5 288.4,293.8 288.5,293.1 288.6,292.5 288.8,292.0 289.0,291.3 289.2,290.8 289.5,290.3 289.8,289.9 290.0,289.5 290.3,289.0 290.7,288.5 291.0,288.1 291.3,287.8 291.8,287.3 292.1,287.0 292.5,286.6 292.9,286.2 293.2,285.9 293.8,285.5 294.1,285.2 294.5,285.0 295.0,284.6 295.5,284.3 296.0,284.0 296.5,283.8 297.0,283.5 297.5,283.2 298.0,283.0 298.5,282.8 299.0,282.6 299.5,282.4 300.1,282.2 300.8,282.1 301.2,282.0 302.0,281.8 302.5,281.8 303.2,281.7 304.0,281.7 304.8,281.7 305.2,281.8 306.0,281.9 306.5,282.1 307.0,282.3 307.5,282.5 308.0,282.9 308.4,283.2 308.8,283.7 309.0,284.1 309.2,284.6 309.4,285.2 309.5,285.8 309.5,286.5 309.5,287.0 309.3,287.8 309.1,288.2 309.0,288.8 308.7,289.2 308.5,289.8 308.2,290.2 307.9,290.8 307.5,291.2 307.2,291.6 306.9,292.0 306.5,292.5 306.2,292.8 305.8,293.2 305.5,293.5 305.0,293.9 304.6,294.2 304.2,294.6 303.8,295.0 303.4,295.2 303.0,295.5 302.5,295.9 302.0,296.2 301.5,296.5 301.1,296.8 300.6,297.0 300.1,297.2 299.6,297.5 299.0,297.7 298.5,297.9 298.0,298.1 297.4,298.2 296.8,298.4 296.2,298.5 295.5,298.7 295.0,298.8 294.2,298.9 293.6,299.0 M291.5,319.3 290.8,319.3 290.0,319.3 289.5,319.2 288.9,319.0 288.3,318.8 287.9,318.5 287.5,318.2 287.0,317.8 286.7,317.5 286.3,317.0 286.0,316.6 285.8,316.2 285.5,315.7 285.2,315.1 285.0,314.5 284.9,314.0 284.8,313.4 284.6,312.8 284.6,312.0 284.6,311.2 284.6,310.5 284.7,309.8 284.8,309.2 285.0,308.5 285.2,308.0 285.4,307.5 285.6,307.0 285.8,306.5 286.2,306.0 286.5,305.5 286.8,305.2 287.1,304.8 287.5,304.4 288.0,304.0 288.3,303.8 288.8,303.5 289.2,303.2 289.8,303.0 290.5,302.9 291.2,302.9 291.8,303.0 292.4,303.2 292.8,303.5 293.2,303.8 293.8,304.2 294.1,304.5 294.5,304.9 294.8,305.2 295.2,305.7 295.5,306.1 295.8,306.5 296.1,307.0 296.4,307.5 296.6,308.0 296.8,308.5 297.0,309.0 297.2,309.8 297.3,310.2 297.3,311.0 297.3,311.8 297.3,312.5 297.2,313.0 297.0,313.7 296.8,314.2 296.6,314.8 296.4,315.2 296.1,315.8 295.8,316.2 295.5,316.6 295.2,317.0 294.8,317.5 294.4,317.8 294.0,318.1 293.5,318.5 293.0,318.7 292.5,319.0 292.0,319.1 291.5,319.3 M295.2,298.0 294.5,298.1 293.8,298.1 293.0,298.1 292.5,298.0 291.8,297.8 291.2,297.5 290.9,297.2 290.5,296.9 290.1,296.5 289.8,296.0 289.5,295.5 289.3,295.0 289.2,294.5 289.2,293.8 289.2,293.0 289.3,292.5 289.5,291.9 289.7,291.2 289.9,290.8 290.2,290.2 290.5,289.8 290.8,289.4 291.0,289.0 291.4,288.5 291.8,288.1 292.0,287.8 292.5,287.3 292.8,287.0 293.2,286.6 293.6,286.2 294.0,286.0 294.5,285.6 295.0,285.2 295.3,285.0 295.8,284.7 296.2,284.4 296.8,284.2 297.2,283.9 297.8,283.7 298.2,283.4 298.8,283.2 299.4,283.0 300.0,282.8 300.5,282.7 301.2,282.5 301.8,282.4 302.5,282.3 303.2,282.3 304.0,282.3 304.8,282.4 305.4,282.5 306.0,282.7 306.5,282.9 307.0,283.2 307.5,283.5 307.8,283.8 308.1,284.2 308.4,284.8 308.6,285.2 308.7,286.0 308.8,286.5 308.7,287.0 308.6,287.8 308.4,288.2 308.2,288.8 308.0,289.3 307.8,289.8 307.5,290.3 307.2,290.8 306.8,291.2 306.5,291.6 306.2,292.0 305.8,292.5 305.5,292.8 305.0,293.2 304.7,293.5 304.2,293.9 303.8,294.2 303.5,294.5 303.0,294.9 302.5,295.2 302.1,295.5 301.7,295.8 301.2,296.0 300.8,296.3 300.2,296.5 299.8,296.8 299.2,297.0 298.5,297.2 298.0,297.4 297.5,297.6 296.8,297.8 296.2,297.9 295.5,298.0 M291.8,318.5 291.0,318.6 290.2,318.6 289.5,318.5 289.0,318.3 288.5,318.1 288.0,317.8 287.6,317.5 287.2,317.2 286.9,316.8 286.5,316.3 286.2,315.9 286.0,315.4 285.8,314.9 285.5,314.2 285.4,313.8 285.2,313.2 285.1,312.5 285.1,311.8 285.1,311.0 285.2,310.2 285.2,309.7 285.4,309.0 285.6,308.5 285.8,308.0 286.0,307.4 286.2,307.0 286.5,306.5 286.9,306.0 287.2,305.6 287.6,305.2 288.0,304.9 288.5,304.6 289.0,304.3 289.5,304.1 290.0,303.9 290.8,303.9 291.5,304.0 292.0,304.1 292.5,304.3 293.0,304.6 293.5,305.0 293.8,305.2 294.2,305.7 294.6,306.0 295.0,306.5 295.2,306.9 295.5,307.3 295.8,307.8 296.0,308.3 296.2,309.0 296.4,309.5 296.5,310.0 296.6,310.8 296.6,311.5 296.6,312.2 296.5,312.9 296.4,313.5 296.2,314.0 296.0,314.5 295.8,315.0 295.5,315.5 295.2,316.0 294.8,316.5 294.5,316.8 294.0,317.2 293.7,317.5 293.2,317.9 292.8,318.1 292.2,318.4 291.8,318.5 M296.2,297.3 295.5,297.4 294.8,297.4 294.0,297.4 293.2,297.3 292.8,297.2 292.2,297.0 291.7,296.8 291.2,296.5 290.8,296.0 290.5,295.6 290.2,295.1 290.0,294.5 289.9,294.0 289.9,293.2 290.0,292.5 290.1,292.0 290.3,291.5 290.5,290.9 290.8,290.4 291.0,290.0 291.3,289.5 291.6,289.0 292.0,288.5 292.2,288.2 292.7,287.8 293.0,287.4 293.5,287.0 293.8,286.7 294.2,286.3 294.7,286.0 295.0,285.8 295.5,285.4 296.0,285.1 296.5,284.8 297.0,284.5 297.5,284.3 298.0,284.1 298.5,283.8 299.0,283.6 299.5,283.5 300.2,283.2 300.8,283.1 301.4,283.0 302.0,282.9 302.8,282.8 303.5,282.8 304.2,282.9 304.8,283.0 305.5,283.2 306.0,283.4 306.5,283.7 306.9,284.0 307.2,284.4 307.5,284.8 307.8,285.2 308.0,286.0 308.0,286.5 308.0,287.2 307.9,287.8 307.8,288.4 307.5,289.0 307.3,289.5 307.0,290.0 306.8,290.4 306.5,290.8 306.2,291.2 305.8,291.8 305.5,292.1 305.1,292.5 304.8,292.8 304.3,293.2 304.0,293.5 303.5,293.9 303.1,294.2 302.7,294.5 302.2,294.8 301.8,295.2 301.2,295.5 300.8,295.7 300.2,296.0 299.8,296.2 299.2,296.4 298.8,296.6 298.2,296.8 297.5,297.0 297.0,297.1 296.3,297.2 M290.8,318.0 290.2,318.0 289.5,317.9 289.0,317.7 288.5,317.4 288.0,317.1 287.6,316.8 287.2,316.3 287.0,316.0 286.6,315.5 286.4,315.0 286.1,314.5 286.0,314.0 285.8,313.2 285.7,312.8 285.6,312.0 285.6,311.2 285.6,310.5 285.8,309.8 285.9,309.2 286.0,308.8 286.2,308.2 286.5,307.6 286.8,307.2 287.1,306.8 287.5,306.2 287.8,306.0 288.2,305.5 288.7,305.2 289.2,305.0 289.8,304.8 290.2,304.7 291.0,304.7 291.5,304.8 292.2,305.0 292.7,305.2 293.1,305.5 293.5,305.8 293.9,306.2 294.2,306.6 294.6,307.0 294.9,307.5 295.2,308.0 295.4,308.5 295.6,309.0 295.8,309.5 295.9,310.2 296.0,310.8 296.0,311.5 296.0,312.1 295.9,312.8 295.8,313.4 295.6,314.0 295.4,314.5 295.1,315.0 294.8,315.5 294.5,315.9 294.2,316.2 293.8,316.7 293.4,317.0 293.0,317.3 292.5,317.6 292.0,317.8 291.2,318.0 290.8,318.0 M296.0,296.8 295.2,296.8 294.5,296.8 293.9,296.8 293.2,296.6 292.8,296.4 292.2,296.2 291.8,295.9 291.4,295.5 291.0,295.0 290.8,294.5 290.7,294.0 290.6,293.2 290.6,292.5 290.8,291.9 291.0,291.2 291.2,290.8 291.4,290.2 291.7,289.8 292.0,289.3 292.2,289.0 292.6,288.5 293.0,288.1 293.3,287.8 293.8,287.3 294.1,287.0 294.5,286.7 295.0,286.3 295.4,286.0 295.8,285.8 296.2,285.4 296.8,285.2 297.2,284.9 297.8,284.6 298.2,284.4 298.8,284.2 299.3,284.0 300.0,283.8 300.5,283.7 301.2,283.5 301.8,283.4 302.5,283.4 303.2,283.4 304.0,283.4 304.5,283.5 305.2,283.8 305.7,284.0 306.1,284.2 306.5,284.6 306.8,285.0 307.1,285.5 307.3,286.0 307.4,286.8 307.4,287.5 307.2,288.0 307.0,288.8 306.8,289.2 306.6,289.8 306.3,290.2 306.0,290.7 305.8,291.0 305.4,291.5 305.0,291.9 304.7,292.2 304.2,292.7 303.9,293.0 303.5,293.4 303.0,293.8 302.7,294.0 302.2,294.3 301.8,294.6 301.2,294.9 300.8,295.2 300.2,295.5 299.8,295.7 299.2,295.9 298.8,296.1 298.2,296.3 297.5,296.5 297.0,296.6 296.2,296.7 M291.5,317.3 290.8,317.4 290.0,317.3 289.5,317.2 289.0,317.0 288.5,316.7 288.0,316.3 287.7,316.0 287.3,315.5 287.0,315.1 286.8,314.6 286.5,314.0 286.3,313.5 286.2,313.0 286.1,312.2 286.0,311.5 286.1,310.8 286.2,310.0 286.3,309.5 286.5,308.9 286.8,308.3 287.0,307.8 287.2,307.4 287.6,307.0 288.0,306.5 288.3,306.2 288.8,306.0 289.2,305.7 289.8,305.5 290.5,305.4 291.2,305.4 291.8,305.6 292.2,305.8 292.8,306.1 293.2,306.4 293.6,306.8 294.0,307.2 294.2,307.5 294.6,308.0 294.8,308.5 295.0,309.0 295.2,309.7 295.4,310.2 295.5,311.0 295.5,311.8 295.4,312.5 295.2,313.2 295.1,313.8 294.9,314.2 294.6,314.8 294.3,315.2 294.0,315.6 293.7,316.0 293.2,316.4 292.8,316.8 292.3,317.0 291.8,317.2 M295.8,296.3 295.0,296.3 294.5,296.2 293.8,296.1 293.2,295.9 292.8,295.7 292.2,295.3 291.9,295.0 291.6,294.5 291.4,294.0 291.2,293.4 291.2,292.8 291.3,292.2 291.4,291.5 291.6,291.0 291.9,290.5 292.1,290.0 292.4,289.5 292.8,289.1 293.0,288.8 293.4,288.2 293.8,287.9 294.2,287.5 294.5,287.2 295.0,286.8 295.4,286.5 295.8,286.2 296.2,285.9 296.8,285.6 297.2,285.3 297.8,285.1 298.2,284.9 298.8,284.7 299.2,284.5 300.0,284.2 300.5,284.1 301.1,284.0 301.8,283.9 302.5,283.9 303.2,283.9 304.0,284.0 304.5,284.2 305.0,284.4 305.5,284.7 305.9,285.0 306.2,285.4 306.5,285.9 306.7,286.5 306.8,287.2 306.7,287.5 306.6,288.2 306.5,288.8 306.2,289.3 306.0,289.8 305.7,290.2 305.4,290.8 305.0,291.2 304.8,291.6 304.3,292.0 304.0,292.3 303.6,292.8 303.2,293.0 302.8,293.4 302.3,293.8 302.0,294.0 301.5,294.3 301.0,294.6 300.5,294.9 300.0,295.1 299.5,295.3 299.0,295.5 298.4,295.8 297.8,295.9 297.2,296.0 296.5,296.2 295.8,296.2 M291.0,316.8 290.2,316.8 289.8,316.7 289.2,316.5 288.8,316.2 288.2,315.8 287.9,315.5 287.5,315.0 287.2,314.5 287.0,314.0 286.8,313.5 286.7,313.0 286.6,312.2 286.5,311.5 286.6,310.8 286.7,310.0 286.8,309.5 287.0,308.9 287.2,308.4 287.5,308.0 287.9,307.5 288.2,307.1 288.6,306.8 289.0,306.5 289.5,306.2 290.2,306.1 291.0,306.1 291.8,306.2 292.2,306.5 292.7,306.8 293.0,307.0 293.5,307.5 293.8,307.8 294.1,308.2 294.3,308.8 294.6,309.2 294.8,309.9 294.9,310.5 294.9,311.2 294.9,312.0 294.8,312.8 294.7,313.2 294.5,313.8 294.2,314.3 294.0,314.8 293.6,315.2 293.2,315.7 292.8,316.0 292.5,316.2 292.0,316.5 291.2,316.7 M297.5,295.5 296.8,295.7 296.0,295.7 295.2,295.7 294.5,295.6 293.9,295.5 293.4,295.2 293.0,295.0 292.5,294.6 292.2,294.2 292.0,293.7 291.9,293.0 291.9,292.2 292.0,291.6 292.2,291.0 292.4,290.5 292.7,290.0 293.0,289.5 293.2,289.1 293.6,288.8 294.0,288.3 294.3,288.0 294.8,287.5 295.1,287.2 295.5,286.9 296.0,286.6 296.5,286.2 296.9,286.0 297.3,285.8 297.8,285.5 298.4,285.2 299.0,285.0 299.5,284.8 300.0,284.7 300.8,284.5 301.2,284.4 302.0,284.4 302.8,284.4 303.5,284.5 304.0,284.6 304.5,284.8 305.0,285.1 305.4,285.5 305.8,285.9 306.0,286.5 306.1,287.0 306.1,287.8 306.0,288.4 305.8,289.0 305.6,289.5 305.3,290.0 305.0,290.5 304.8,290.9 304.4,291.2 304.0,291.7 303.8,292.0 303.2,292.5 302.9,292.8 302.5,293.1 302.0,293.5 301.6,293.8 301.2,294.0 300.8,294.3 300.2,294.5 299.8,294.8 299.2,295.0 298.5,295.2 298.0,295.4 297.5,295.5 M291.5,316.1 290.8,316.2 290.0,316.1 289.5,316.0 289.0,315.7 288.5,315.3 288.2,315.0 287.8,314.5 287.5,314.0 287.3,313.5 287.2,313.0 287.0,312.2 287.0,311.8 287.0,311.1 287.1,310.5 287.2,309.8 287.4,309.2 287.6,308.8 288.0,308.2 288.2,307.9 288.6,307.5 289.0,307.2 289.5,306.9 290.1,306.8 290.8,306.7 291.2,306.8 291.9,307.0 292.4,307.2 292.8,307.5 293.2,308.0 293.5,308.4 293.8,308.8 294.0,309.3 294.2,310.0 294.3,310.5 294.4,311.2 294.4,312.0 294.3,312.8 294.1,313.2 293.9,313.8 293.7,314.2 293.3,314.8 293.0,315.1 292.6,315.5 292.2,315.8 291.7,316.0 M297.8,295.0 297.0,295.2 296.2,295.2 295.5,295.2 294.8,295.1 294.2,295.0 293.8,294.7 293.2,294.4 292.9,294.0 292.7,293.5 292.5,292.9 292.5,292.2 292.5,291.8 292.7,291.0 293.0,290.5 293.2,290.0 293.5,289.6 293.8,289.2 294.1,288.8 294.5,288.3 294.8,288.0 295.2,287.6 295.7,287.2 296.1,287.0 296.5,286.7 297.0,286.4 297.5,286.1 298.0,285.8 298.5,285.6 299.0,285.4 299.5,285.2 300.2,285.1 300.8,285.0 301.5,284.9 302.2,284.8 303.0,284.9 303.5,285.0 304.0,285.2 304.5,285.5 305.0,286.0 305.2,286.4 305.5,287.0 305.5,287.5 305.5,288.0 305.3,288.8 305.2,289.2 304.9,289.8 304.6,290.2 304.3,290.8 304.0,291.1 303.7,291.5 303.2,291.9 302.9,292.2 302.5,292.6 302.0,293.0 301.6,293.2 301.2,293.5 300.8,293.8 300.2,294.1 299.8,294.3 299.2,294.5 298.6,294.8 298.0,294.9 M291.0,315.5 290.2,315.5 289.8,315.4 289.2,315.1 288.8,314.8 288.5,314.5 288.1,314.0 287.9,313.5 287.7,313.0 287.5,312.2 287.5,311.8 287.5,311.0 287.6,310.5 287.8,309.8 288.0,309.2 288.2,308.8 288.5,308.4 288.9,308.0 289.3,307.8 289.8,307.5 290.5,307.4 291.2,307.4 291.8,307.6 292.2,307.9 292.6,308.2 293.0,308.7 293.2,309.0 293.5,309.5 293.8,310.2 293.8,310.8 293.9,311.5 293.8,312.2 293.7,312.8 293.5,313.4 293.2,313.9 293.0,314.3 292.6,314.8 292.2,315.0 291.8,315.3 291.1,315.5 M297.8,294.5 297.0,294.7 296.2,294.7 295.5,294.7 294.8,294.5 294.2,294.3 293.9,294.0 293.5,293.6 293.2,293.1 293.1,292.5 293.1,291.8 293.2,291.2 293.5,290.5 293.8,290.0 294.0,289.6 294.3,289.2 294.7,288.8 295.0,288.4 295.4,288.0 295.8,287.7 296.2,287.3 296.7,287.0 297.1,286.8 297.6,286.5 298.1,286.2 298.6,286.0 299.2,285.8 299.8,285.6 300.2,285.5 301.0,285.4 301.8,285.3 302.5,285.4 303.0,285.5 303.6,285.8 304.0,286.0 304.5,286.5 304.8,287.0 304.9,287.5 304.9,288.2 304.8,288.8 304.5,289.5 304.2,290.0 304.0,290.4 303.7,290.8 303.3,291.2 303.0,291.6 302.6,292.0 302.2,292.3 301.8,292.7 301.3,293.0 300.9,293.2 300.5,293.5 300.0,293.8 299.4,294.0 298.8,294.2 298.2,294.4 297.8,294.5 M291.2,314.8 290.5,314.9 289.9,314.8 289.4,314.5 289.0,314.1 288.7,313.8 288.4,313.2 288.2,312.8 288.0,312.0 288.0,311.5 288.0,311.0 288.2,310.2 288.4,309.8 288.6,309.2 289.0,308.8 289.3,308.5 289.8,308.2 290.5,308.1 291.2,308.1 291.8,308.4 292.2,308.7 292.5,309.0 292.8,309.5 293.1,310.0 293.2,310.6 293.3,311.2 293.3,312.0 293.2,312.5 293.0,313.1 292.8,313.6 292.4,314.0 292.0,314.4 291.5,314.7 M298.0,294.0 297.2,294.2 296.5,294.2 295.8,294.1 295.2,294.0 294.7,293.8 294.2,293.4 294.0,293.0 293.8,292.3 293.7,291.8 293.8,291.2 294.0,290.7 294.2,290.2 294.5,289.7 294.9,289.2 295.2,288.8 295.5,288.5 296.0,288.1 296.4,287.8 296.8,287.5 297.2,287.2 297.8,286.9 298.2,286.6 298.8,286.4 299.2,286.2 300.0,286.0 300.5,285.9 301.2,285.8 302.0,285.9 302.6,286.0 303.2,286.2 303.6,286.5 304.0,287.0 304.2,287.5 304.3,288.0 304.2,288.5 304.0,289.2 303.8,289.8 303.5,290.2 303.2,290.6 302.9,291.0 302.5,291.5 302.2,291.8 301.8,292.2 301.3,292.5 300.9,292.8 300.5,293.0 300.0,293.3 299.5,293.5 298.9,293.8 298.2,294.0 M291.0,314.0 290.2,314.0 289.8,313.8 289.4,313.5 289.0,313.0 288.8,312.5 288.6,312.0 288.6,311.2 288.8,310.5 289.0,310.0 289.2,309.6 289.6,309.2 290.0,309.0 290.8,308.9 291.3,309.0 291.8,309.3 292.2,309.8 292.5,310.2 292.6,310.8 292.7,311.5 292.6,312.2 292.4,312.8 292.1,313.2 291.8,313.7 291.2,314.0 M298.0,293.5 297.2,293.6 296.5,293.7 295.8,293.5 295.2,293.3 294.9,293.0 294.6,292.5 294.4,292.0 294.4,291.2 294.6,290.8 294.8,290.2 295.1,289.8 295.5,289.2 295.8,288.9 296.2,288.5 296.5,288.2 297.0,287.8 297.5,287.5 297.9,287.2 298.5,287.0 299.0,286.8 299.5,286.6 300.0,286.5 300.8,286.4 301.5,286.4 302.1,286.5 302.7,286.8 303.1,287.0 303.4,287.5 303.6,288.0 303.6,288.8 303.4,289.2 303.2,289.8 302.9,290.2 302.5,290.8 302.2,291.1 301.8,291.5 301.5,291.8 301.0,292.2 300.5,292.5 300.1,292.8 299.6,293.0 299.0,293.2 298.5,293.4 298.0,293.5 M290.8,313.0 290.2,313.0 289.8,312.6 289.5,312.0 289.4,311.5 289.5,310.9 289.8,310.4 290.2,310.0 290.8,309.9 291.2,310.1 291.6,310.5 291.8,311.0 291.8,311.8 291.7,312.2 291.3,312.8 290.9,313.0 M298.0,293.0 297.2,293.1 296.5,293.0 296.0,292.8 295.5,292.5 295.2,292.1 295.1,291.5 295.2,290.8 295.4,290.2 295.7,289.8 296.0,289.4 296.3,289.0 296.8,288.6 297.2,288.2 297.6,288.0 298.0,287.7 298.5,287.5 299.1,287.2 299.8,287.1 300.2,287.0 301.0,286.9 301.5,287.0 302.1,287.2 302.5,287.6 302.8,288.0 302.9,288.8 302.8,289.3 302.5,289.9 302.2,290.3 301.9,290.8 301.5,291.2 301.1,291.5 300.8,291.8 300.2,292.1 299.8,292.4 299.2,292.6 298.8,292.8 298.0,293.0 M298.5,292.3 297.8,292.4 297.0,292.3 296.5,292.1 296.1,291.8 296.0,291.2 296.0,290.8 296.2,290.1 296.5,289.7 296.9,289.2 297.2,288.9 297.8,288.5 298.2,288.2 298.7,288.0 299.2,287.8 299.8,287.7 300.5,287.6 301.2,287.8 301.6,288.0 302.0,288.5 302.0,289.0 301.9,289.5 301.7,290.0 301.3,290.5 301.0,290.9 300.6,291.2 300.2,291.5 299.8,291.8 299.2,292.0 298.7,292.2" fill="none" stroke="#333" stroke-width="0.5" clip-path="url(#cM1)"/>
<rect x="275.50" y="262.70" width="52.60" height="38.10" fill="none" stroke="#d04650" stroke-width="1.2"/>
<text x="240.50" y="253.60" font-size="10.3" textLength="30.0" lengthAdjust="spacingAndGlyphs" fill="#000" >CD41+</text>
<rect x="230.70" y="238.80" width="108.70" height="108.40" fill="none" stroke="#000" stroke-width="1.4"/>
<line x1="227.10" y1="347.20" x2="230.70" y2="347.20" stroke="#000" stroke-width="1.1" />
<line x1="228.90" y1="339.04" x2="230.70" y2="339.04" stroke="#000" stroke-width="0.9" />
<line x1="228.90" y1="334.27" x2="230.70" y2="334.27" stroke="#000" stroke-width="0.9" />
<line x1="228.90" y1="330.88" x2="230.70" y2="330.88" stroke="#000" stroke-width="0.9" />
<line x1="228.90" y1="328.26" x2="230.70" y2="328.26" stroke="#000" stroke-width="0.9" />
<line x1="228.90" y1="326.11" x2="230.70" y2="326.11" stroke="#000" stroke-width="0.9" />
<line x1="228.90" y1="324.30" x2="230.70" y2="324.30" stroke="#000" stroke-width="0.9" />
<line x1="228.90" y1="322.73" x2="230.70" y2="322.73" stroke="#000" stroke-width="0.9" />
<line x1="228.90" y1="321.34" x2="230.70" y2="321.34" stroke="#000" stroke-width="0.9" />
<line x1="227.10" y1="320.10" x2="230.70" y2="320.10" stroke="#000" stroke-width="1.1" />
<line x1="228.90" y1="311.94" x2="230.70" y2="311.94" stroke="#000" stroke-width="0.9" />
<line x1="228.90" y1="307.17" x2="230.70" y2="307.17" stroke="#000" stroke-width="0.9" />
<line x1="228.90" y1="303.78" x2="230.70" y2="303.78" stroke="#000" stroke-width="0.9" />
<line x1="228.90" y1="301.16" x2="230.70" y2="301.16" stroke="#000" stroke-width="0.9" />
<line x1="228.90" y1="299.01" x2="230.70" y2="299.01" stroke="#000" stroke-width="0.9" />
<line x1="228.90" y1="297.20" x2="230.70" y2="297.20" stroke="#000" stroke-width="0.9" />
<line x1="228.90" y1="295.63" x2="230.70" y2="295.63" stroke="#000" stroke-width="0.9" />
<line x1="228.90" y1="294.24" x2="230.70" y2="294.24" stroke="#000" stroke-width="0.9" />
<line x1="227.10" y1="293.00" x2="230.70" y2="293.00" stroke="#000" stroke-width="1.1" />
<line x1="228.90" y1="284.84" x2="230.70" y2="284.84" stroke="#000" stroke-width="0.9" />
<line x1="228.90" y1="280.07" x2="230.70" y2="280.07" stroke="#000" stroke-width="0.9" />
<line x1="228.90" y1="276.68" x2="230.70" y2="276.68" stroke="#000" stroke-width="0.9" />
<line x1="228.90" y1="274.06" x2="230.70" y2="274.06" stroke="#000" stroke-width="0.9" />
<line x1="228.90" y1="271.91" x2="230.70" y2="271.91" stroke="#000" stroke-width="0.9" />
<line x1="228.90" y1="270.10" x2="230.70" y2="270.10" stroke="#000" stroke-width="0.9" />
<line x1="228.90" y1="268.53" x2="230.70" y2="268.53" stroke="#000" stroke-width="0.9" />
<line x1="228.90" y1="267.14" x2="230.70" y2="267.14" stroke="#000" stroke-width="0.9" />
<line x1="227.10" y1="265.90" x2="230.70" y2="265.90" stroke="#000" stroke-width="1.1" />
<line x1="228.90" y1="257.74" x2="230.70" y2="257.74" stroke="#000" stroke-width="0.9" />
<line x1="228.90" y1="252.97" x2="230.70" y2="252.97" stroke="#000" stroke-width="0.9" />
<line x1="228.90" y1="249.58" x2="230.70" y2="249.58" stroke="#000" stroke-width="0.9" />
<line x1="228.90" y1="246.96" x2="230.70" y2="246.96" stroke="#000" stroke-width="0.9" />
<line x1="228.90" y1="244.81" x2="230.70" y2="244.81" stroke="#000" stroke-width="0.9" />
<line x1="228.90" y1="243.00" x2="230.70" y2="243.00" stroke="#000" stroke-width="0.9" />
<line x1="228.90" y1="241.43" x2="230.70" y2="241.43" stroke="#000" stroke-width="0.9" />
<line x1="228.90" y1="240.04" x2="230.70" y2="240.04" stroke="#000" stroke-width="0.9" />
<line x1="227.10" y1="238.80" x2="230.70" y2="238.80" stroke="#000" stroke-width="1.1" />
<text x="222.90" y="243.80" font-size="9.6" text-anchor="end">10<tspan dy="-4.2" font-size="6.6">4</tspan></text>
<text x="222.90" y="270.90" font-size="9.6" text-anchor="end">10<tspan dy="-4.2" font-size="6.6">3</tspan></text>
<text x="222.90" y="298.00" font-size="9.6" text-anchor="end">10<tspan dy="-4.2" font-size="6.6">2</tspan></text>
<text x="222.90" y="325.10" font-size="9.6" text-anchor="end">10<tspan dy="-4.2" font-size="6.6">1</tspan></text>
<text x="222.90" y="352.20" font-size="9.6" text-anchor="end">10<tspan dy="-4.2" font-size="6.6">0</tspan></text>
<line x1="230.70" y1="347.20" x2="230.70" y2="350.80" stroke="#000" stroke-width="1.1" />
<line x1="241.61" y1="347.20" x2="241.61" y2="349.00" stroke="#000" stroke-width="0.9" />
<line x1="247.99" y1="347.20" x2="247.99" y2="349.00" stroke="#000" stroke-width="0.9" />
<line x1="252.51" y1="347.20" x2="252.51" y2="349.00" stroke="#000" stroke-width="0.9" />
<line x1="256.03" y1="347.20" x2="256.03" y2="349.00" stroke="#000" stroke-width="0.9" />
<line x1="258.90" y1="347.20" x2="258.90" y2="349.00" stroke="#000" stroke-width="0.9" />
<line x1="261.32" y1="347.20" x2="261.32" y2="349.00" stroke="#000" stroke-width="0.9" />
<line x1="263.42" y1="347.20" x2="263.42" y2="349.00" stroke="#000" stroke-width="0.9" />
<line x1="265.28" y1="347.20" x2="265.28" y2="349.00" stroke="#000" stroke-width="0.9" />
<line x1="266.93" y1="347.20" x2="266.93" y2="350.80" stroke="#000" stroke-width="1.1" />
<line x1="277.84" y1="347.20" x2="277.84" y2="349.00" stroke="#000" stroke-width="0.9" />
<line x1="284.22" y1="347.20" x2="284.22" y2="349.00" stroke="#000" stroke-width="0.9" />
<line x1="288.75" y1="347.20" x2="288.75" y2="349.00" stroke="#000" stroke-width="0.9" />
<line x1="292.26" y1="347.20" x2="292.26" y2="349.00" stroke="#000" stroke-width="0.9" />
<line x1="295.13" y1="347.20" x2="295.13" y2="349.00" stroke="#000" stroke-width="0.9" />
<line x1="297.55" y1="347.20" x2="297.55" y2="349.00" stroke="#000" stroke-width="0.9" />
<line x1="299.66" y1="347.20" x2="299.66" y2="349.00" stroke="#000" stroke-width="0.9" />
<line x1="301.51" y1="347.20" x2="301.51" y2="349.00" stroke="#000" stroke-width="0.9" />
<line x1="303.17" y1="347.20" x2="303.17" y2="350.80" stroke="#000" stroke-width="1.1" />
<line x1="314.07" y1="347.20" x2="314.07" y2="349.00" stroke="#000" stroke-width="0.9" />
<line x1="320.45" y1="347.20" x2="320.45" y2="349.00" stroke="#000" stroke-width="0.9" />
<line x1="324.98" y1="347.20" x2="324.98" y2="349.00" stroke="#000" stroke-width="0.9" />
<line x1="328.49" y1="347.20" x2="328.49" y2="349.00" stroke="#000" stroke-width="0.9" />
<line x1="331.36" y1="347.20" x2="331.36" y2="349.00" stroke="#000" stroke-width="0.9" />
<line x1="333.79" y1="347.20" x2="333.79" y2="349.00" stroke="#000" stroke-width="0.9" />
<line x1="335.89" y1="347.20" x2="335.89" y2="349.00" stroke="#000" stroke-width="0.9" />
<line x1="337.74" y1="347.20" x2="337.74" y2="349.00" stroke="#000" stroke-width="0.9" />
<line x1="339.40" y1="347.20" x2="339.40" y2="350.80" stroke="#000" stroke-width="1.1" />
<text x="231.30" y="363.60" font-size="9.6" text-anchor="middle">10<tspan dy="-4.2" font-size="6.6">0</tspan></text>
<text x="267.53" y="363.60" font-size="9.6" text-anchor="middle">10<tspan dy="-4.2" font-size="6.6">1</tspan></text>
<text x="303.77" y="363.60" font-size="9.6" text-anchor="middle">10<tspan dy="-4.2" font-size="6.6">2</tspan></text>
<text x="340.00" y="363.60" font-size="9.6" text-anchor="middle">10<tspan dy="-4.2" font-size="6.6">3</tspan></text>
<path d="M289.5,465.8 288.8,466.0 288.0,465.9 287.5,465.8 286.8,465.5 286.3,465.2 286.0,465.0 285.5,464.7 285.0,464.2 284.8,463.9 284.4,463.5 284.0,463.0 283.8,462.7 283.5,462.2 283.2,461.8 282.9,461.2 282.7,460.8 282.4,460.2 282.2,459.8 282.0,459.1 281.8,458.5 281.7,458.0 281.5,457.4 281.4,456.8 281.2,456.2 281.1,455.5 281.0,454.8 280.9,454.2 280.9,453.5 280.8,452.8 280.8,452.0 280.8,451.2 280.8,450.5 280.9,449.8 281.0,449.0 281.1,448.5 281.2,447.8 281.4,447.2 281.5,446.8 281.8,446.2 282.0,445.6 282.2,445.1 282.5,444.6 282.8,444.2 283.1,443.8 283.5,443.2 283.8,442.9 284.2,442.5 284.5,442.2 285.0,441.8 285.4,441.5 285.9,441.2 286.4,441.0 287.0,440.8 287.5,440.7 288.2,440.5 289.0,440.5 289.8,440.5 290.5,440.6 291.2,440.6 292.0,440.6 292.8,440.7 293.5,440.7 294.2,440.8 294.8,440.8 295.5,440.8 296.2,440.9 297.0,441.0 297.5,441.0 298.2,441.1 299.0,441.2 299.7,441.2 300.2,441.3 301.0,441.4 301.8,441.5 302.2,441.6 303.0,441.7 303.6,441.8 304.2,441.8 305.0,442.0 305.5,442.0 306.2,442.2 306.8,442.2 307.5,442.4 308.2,442.5 308.8,442.6 309.5,442.7 310.0,442.8 310.8,443.0 311.2,443.1 311.9,443.2 312.5,443.4 313.0,443.5 313.8,443.7 314.2,443.8 314.9,444.0 315.5,444.2 316.0,444.3 316.6,444.5 317.2,444.7 317.8,444.9 318.2,445.1 318.8,445.3 319.2,445.5 319.8,445.8 320.2,446.0 320.8,446.4 321.2,446.8 321.5,447.2 321.7,447.8 321.8,448.2 321.7,448.8 321.5,449.2 321.2,449.8 320.9,450.2 320.5,450.8 320.2,451.0 319.8,451.5 319.5,451.8 319.0,452.2 318.6,452.5 318.2,452.8 317.8,453.2 317.3,453.5 317.0,453.8 316.5,454.1 316.0,454.4 315.5,454.7 315.0,455.0 314.6,455.2 314.2,455.5 313.8,455.8 313.2,456.0 312.8,456.3 312.2,456.6 311.8,456.9 311.2,457.1 310.8,457.4 310.2,457.7 309.8,457.9 309.2,458.2 308.8,458.4 308.2,458.7 307.8,458.9 307.2,459.1 306.8,459.4 306.2,459.6 305.8,459.8 305.2,460.1 304.8,460.3 304.2,460.5 303.7,460.8 303.1,461.0 302.5,461.2 302.0,461.5 301.5,461.7 301.0,461.9 300.5,462.1 300.0,462.3 299.4,462.5 298.8,462.7 298.2,462.9 297.8,463.1 297.2,463.3 296.7,463.5 296.0,463.7 295.5,463.9 295.0,464.1 294.5,464.3 293.8,464.5 293.2,464.7 292.8,464.8 292.2,465.0 291.5,465.2 291.0,465.3 290.5,465.5 289.8,465.7 M289.2,465.0 288.5,465.1 287.8,465.0 287.2,464.8 286.8,464.6 286.2,464.3 285.8,464.0 285.5,463.8 285.0,463.3 284.8,463.0 284.4,462.5 284.0,462.0 283.8,461.6 283.5,461.2 283.2,460.7 283.0,460.2 282.8,459.6 282.5,459.0 282.3,458.5 282.2,458.0 282.0,457.4 281.8,456.8 281.7,456.2 281.6,455.5 281.5,455.0 281.4,454.2 281.3,453.5 281.3,452.8 281.2,452.2 281.2,451.5 281.2,450.8 281.3,450.2 281.3,449.5 281.5,448.8 281.6,448.2 281.8,447.6 281.9,447.0 282.1,446.5 282.3,446.0 282.6,445.5 282.8,445.0 283.2,444.5 283.5,444.0 283.8,443.7 284.2,443.2 284.5,442.9 285.0,442.5 285.3,442.2 285.8,442.0 286.2,441.7 286.8,441.5 287.5,441.3 288.0,441.2 288.8,441.1 289.5,441.1 290.2,441.1 291.0,441.2 291.8,441.2 292.5,441.2 293.0,441.3 293.8,441.3 294.5,441.3 295.2,441.4 296.0,441.5 296.5,441.5 297.2,441.6 298.0,441.6 298.8,441.7 299.2,441.8 300.0,441.8 300.8,441.9 301.3,442.0 302.0,442.1 302.8,442.2 303.2,442.3 304.0,442.4 304.8,442.5 305.2,442.6 306.0,442.7 306.5,442.8 307.2,442.9 307.8,443.0 308.5,443.2 309.0,443.3 309.8,443.4 310.2,443.5 311.0,443.7 311.5,443.8 312.2,444.0 312.8,444.1 313.3,444.2 314.0,444.5 314.5,444.6 315.0,444.8 315.7,445.0 316.2,445.2 316.8,445.4 317.2,445.6 317.8,445.9 318.2,446.1 318.8,446.4 319.1,446.8 319.5,447.1 319.8,447.5 319.9,448.2 319.8,449.0 319.6,449.5 319.4,450.0 319.0,450.5 318.8,450.8 318.4,451.2 318.0,451.6 317.6,452.0 317.2,452.3 316.8,452.7 316.4,453.0 316.0,453.3 315.5,453.7 315.0,454.0 314.6,454.2 314.2,454.5 313.8,454.8 313.2,455.1 312.8,455.4 312.2,455.7 311.8,456.0 311.3,456.2 310.8,456.5 310.4,456.8 309.9,457.0 309.4,457.2 308.9,457.5 308.4,457.8 307.9,458.0 307.4,458.2 306.9,458.5 306.4,458.8 305.9,459.0 305.3,459.2 304.8,459.5 304.2,459.7 303.8,459.9 303.2,460.2 302.8,460.4 302.2,460.6 301.8,460.8 301.2,461.0 300.6,461.2 300.0,461.5 299.5,461.7 299.0,461.9 298.5,462.1 298.0,462.3 297.3,462.5 296.8,462.7 296.2,462.9 295.8,463.1 295.2,463.2 294.5,463.5 294.0,463.6 293.5,463.8 292.9,464.0 292.2,464.2 291.8,464.3 291.2,464.5 290.5,464.7 290.0,464.8 289.3,465.0 M289.0,464.3 288.2,464.3 287.8,464.2 287.2,464.0 286.7,463.8 286.2,463.4 285.8,463.0 285.4,462.8 285.0,462.3 284.8,462.0 284.4,461.5 284.1,461.0 283.8,460.5 283.5,460.0 283.3,459.5 283.1,459.0 282.9,458.5 282.7,458.0 282.5,457.3 282.3,456.8 282.2,456.2 282.1,455.5 282.0,455.0 281.9,454.2 281.8,453.5 281.7,453.0 281.7,452.2 281.7,451.5 281.7,450.8 281.8,450.0 281.8,449.5 281.9,448.8 282.1,448.2 282.2,447.6 282.4,447.0 282.6,446.5 282.9,446.0 283.1,445.5 283.4,445.0 283.8,444.6 284.0,444.2 284.4,443.8 284.8,443.4 285.2,443.0 285.6,442.8 286.0,442.5 286.5,442.2 287.1,442.0 287.8,441.8 288.3,441.8 289.0,441.7 289.8,441.7 290.4,441.8 291.0,441.8 291.8,441.8 292.5,441.8 293.2,441.9 294.0,441.9 294.8,441.9 295.5,442.0 296.0,442.0 296.8,442.1 297.5,442.2 298.2,442.2 298.8,442.3 299.5,442.4 300.2,442.5 300.8,442.5 301.5,442.6 302.2,442.7 302.8,442.8 303.5,442.9 304.2,443.0 304.8,443.1 305.5,443.2 306.0,443.3 306.8,443.4 307.2,443.5 308.0,443.7 308.5,443.8 309.2,443.9 309.8,444.1 310.5,444.2 311.0,444.4 311.5,444.5 312.2,444.7 312.8,444.9 313.2,445.0 314.0,445.2 314.5,445.4 315.0,445.6 315.5,445.9 316.0,446.1 316.5,446.4 317.0,446.7 317.3,447.0 317.8,447.5 318.0,448.0 318.1,448.5 318.0,449.0 317.8,449.7 317.5,450.2 317.2,450.5 316.9,451.0 316.5,451.4 316.2,451.8 315.8,452.2 315.4,452.5 315.0,452.8 314.5,453.2 314.1,453.5 313.7,453.8 313.2,454.1 312.8,454.4 312.2,454.7 311.8,455.0 311.4,455.2 311.0,455.5 310.5,455.8 310.0,456.1 309.5,456.3 309.0,456.6 308.5,456.9 308.0,457.1 307.5,457.4 307.0,457.6 306.5,457.9 306.0,458.1 305.5,458.3 305.0,458.6 304.5,458.8 304.0,459.0 303.5,459.3 302.9,459.5 302.4,459.8 301.8,460.0 301.2,460.2 300.8,460.4 300.2,460.6 299.8,460.8 299.2,461.0 298.6,461.2 298.0,461.5 297.5,461.7 297.0,461.8 296.5,462.0 295.8,462.2 295.2,462.4 294.8,462.6 294.2,462.8 293.5,463.0 293.0,463.2 292.5,463.3 291.8,463.5 291.2,463.7 290.8,463.8 290.0,464.0 289.5,464.1 289.0,464.3 M289.5,463.3 288.8,463.5 288.0,463.4 287.5,463.2 287.0,463.0 286.5,462.7 286.0,462.3 285.6,462.0 285.2,461.6 285.0,461.2 284.6,460.8 284.3,460.2 284.0,459.8 283.8,459.2 283.5,458.8 283.3,458.2 283.2,457.8 283.0,457.2 282.8,456.5 282.7,456.0 282.5,455.2 282.4,454.8 282.3,454.0 282.2,453.4 282.2,452.8 282.2,452.0 282.1,451.2 282.2,450.5 282.2,449.8 282.3,449.2 282.5,448.5 282.6,448.0 282.8,447.5 283.0,446.9 283.2,446.4 283.5,445.9 283.8,445.5 284.1,445.0 284.5,444.5 284.8,444.2 285.2,443.8 285.5,443.5 286.0,443.2 286.5,442.9 287.0,442.7 287.6,442.5 288.2,442.4 289.0,442.4 289.8,442.4 290.5,442.4 291.2,442.4 292.0,442.4 292.8,442.4 293.5,442.5 294.0,442.5 294.8,442.5 295.5,442.6 296.2,442.6 297.0,442.7 297.5,442.8 298.2,442.8 299.0,442.9 299.8,443.0 300.2,443.1 301.0,443.1 301.8,443.2 302.2,443.3 303.0,443.4 303.5,443.5 304.2,443.6 305.0,443.8 305.5,443.8 306.2,444.0 306.8,444.1 307.5,444.2 308.0,444.4 308.6,444.5 309.2,444.7 309.8,444.8 310.5,445.0 311.0,445.1 311.5,445.3 312.1,445.5 312.8,445.7 313.2,445.9 313.8,446.1 314.2,446.4 314.8,446.7 315.2,447.0 315.5,447.3 315.9,447.8 316.1,448.2 316.1,449.0 316.0,449.5 315.8,450.1 315.5,450.5 315.1,451.0 314.8,451.4 314.5,451.8 314.0,452.2 313.7,452.5 313.2,452.8 312.8,453.2 312.4,453.5 312.0,453.8 311.5,454.1 311.0,454.4 310.5,454.8 310.1,455.0 309.7,455.2 309.2,455.5 308.8,455.8 308.2,456.1 307.8,456.3 307.2,456.6 306.8,456.9 306.2,457.1 305.8,457.4 305.2,457.6 304.8,457.8 304.2,458.1 303.8,458.3 303.2,458.5 302.8,458.8 302.2,459.0 301.6,459.2 301.0,459.5 300.5,459.7 300.0,459.9 299.5,460.1 299.0,460.3 298.4,460.5 297.8,460.8 297.2,460.9 296.8,461.1 296.2,461.3 295.6,461.5 295.0,461.7 294.5,461.9 294.0,462.0 293.3,462.2 292.8,462.4 292.2,462.6 291.6,462.8 291.0,462.9 290.5,463.0 289.8,463.2 M289.0,462.5 288.2,462.5 287.8,462.4 287.2,462.2 286.8,461.9 286.2,461.6 285.9,461.2 285.5,460.8 285.2,460.5 284.9,460.0 284.6,459.5 284.3,459.0 284.0,458.5 283.8,458.0 283.6,457.5 283.5,457.0 283.2,456.3 283.1,455.8 283.0,455.2 282.9,454.5 282.8,453.8 282.7,453.2 282.7,452.5 282.6,451.8 282.6,451.0 282.7,450.2 282.8,449.6 282.9,449.0 283.0,448.4 283.2,447.8 283.4,447.2 283.6,446.8 283.9,446.2 284.2,445.8 284.5,445.3 284.8,445.0 285.2,444.5 285.5,444.2 286.0,443.9 286.5,443.6 287.0,443.4 287.5,443.2 288.2,443.0 288.8,443.0 289.5,443.0 290.2,443.0 290.8,443.0 291.5,443.0 292.2,443.0 293.0,443.1 293.8,443.1 294.5,443.1 295.2,443.2 296.0,443.2 296.5,443.3 297.2,443.3 298.0,443.4 298.8,443.5 299.2,443.6 300.0,443.6 300.8,443.7 301.2,443.8 302.0,443.9 302.6,444.0 303.2,444.1 304.0,444.2 304.5,444.3 305.2,444.5 305.8,444.6 306.5,444.7 307.0,444.8 307.6,445.0 308.2,445.2 308.8,445.3 309.5,445.5 310.0,445.7 310.5,445.8 311.0,446.0 311.5,446.2 312.1,446.5 312.5,446.8 313.0,447.0 313.5,447.4 313.8,447.8 314.1,448.2 314.2,449.0 314.0,449.8 313.8,450.2 313.5,450.7 313.2,451.1 312.9,451.5 312.5,451.9 312.2,452.2 311.8,452.6 311.3,453.0 311.0,453.2 310.5,453.6 310.0,453.9 309.5,454.2 309.2,454.5 308.8,454.8 308.2,455.1 307.8,455.4 307.2,455.6 306.8,455.9 306.2,456.2 305.8,456.4 305.2,456.7 304.8,456.9 304.2,457.2 303.8,457.4 303.2,457.7 302.8,457.9 302.2,458.1 301.8,458.3 301.2,458.5 300.8,458.8 300.2,459.0 299.5,459.2 299.0,459.5 298.5,459.6 298.0,459.8 297.5,460.0 296.9,460.2 296.2,460.5 295.8,460.6 295.2,460.8 294.6,461.0 294.0,461.2 293.5,461.3 293.0,461.5 292.2,461.7 291.8,461.9 291.2,462.0 290.5,462.2 290.0,462.3 289.2,462.5 M289.5,461.5 288.8,461.7 288.0,461.6 287.5,461.4 287.0,461.2 286.5,460.8 286.1,460.5 285.8,460.1 285.5,459.8 285.1,459.2 284.8,458.8 284.6,458.2 284.3,457.8 284.1,457.2 284.0,456.8 283.8,456.1 283.6,455.5 283.5,455.0 283.3,454.2 283.2,453.6 283.2,453.0 283.1,452.2 283.1,451.5 283.1,450.8 283.2,450.0 283.3,449.5 283.4,448.8 283.6,448.2 283.8,447.8 284.0,447.2 284.2,446.7 284.5,446.2 284.9,445.8 285.2,445.3 285.6,445.0 286.0,444.6 286.5,444.3 287.0,444.0 287.5,443.8 288.0,443.7 288.8,443.6 289.5,443.6 290.2,443.6 291.0,443.6 291.8,443.7 292.5,443.7 293.2,443.7 294.0,443.7 294.5,443.8 295.2,443.8 296.0,443.9 296.8,443.9 297.5,444.0 298.0,444.1 298.8,444.1 299.5,444.2 300.0,444.3 300.8,444.4 301.5,444.5 302.0,444.6 302.8,444.7 303.2,444.8 304.0,444.9 304.5,445.0 305.2,445.2 305.8,445.3 306.5,445.5 307.0,445.6 307.5,445.8 308.2,446.0 308.8,446.2 309.2,446.4 309.8,446.6 310.2,446.8 310.8,447.1 311.2,447.4 311.6,447.8 312.0,448.2 312.2,448.8 312.1,449.5 312.0,450.0 311.8,450.5 311.4,451.0 311.1,451.5 310.8,451.8 310.3,452.2 310.0,452.6 309.5,453.0 309.1,453.2 308.8,453.5 308.2,453.9 307.8,454.2 307.3,454.5 306.9,454.8 306.5,455.0 306.0,455.3 305.5,455.6 305.0,455.8 304.5,456.1 304.0,456.4 303.5,456.6 303.0,456.9 302.5,457.1 302.0,457.3 301.5,457.5 301.0,457.8 300.4,458.0 299.8,458.2 299.2,458.5 298.8,458.7 298.2,458.9 297.8,459.1 297.2,459.3 296.6,459.5 296.0,459.7 295.5,459.9 295.0,460.0 294.3,460.2 293.8,460.4 293.2,460.6 292.6,460.8 292.0,460.9 291.5,461.1 290.8,461.2 290.2,461.4 289.7,461.5 M288.8,460.8 288.2,460.7 287.5,460.5 287.1,460.2 286.7,460.0 286.2,459.6 286.0,459.2 285.6,458.8 285.3,458.2 285.0,457.8 284.8,457.2 284.5,456.8 284.4,456.2 284.2,455.8 284.0,455.0 283.9,454.5 283.8,453.8 283.7,453.2 283.6,452.5 283.6,451.8 283.6,451.0 283.7,450.2 283.8,449.7 283.9,449.0 284.0,448.5 284.2,447.9 284.5,447.4 284.8,446.9 285.0,446.5 285.4,446.0 285.8,445.6 286.2,445.2 286.6,445.0 287.0,444.7 287.6,444.5 288.2,444.4 289.0,444.3 289.8,444.3 290.5,444.3 291.2,444.3 292.0,444.3 292.8,444.3 293.5,444.4 294.2,444.4 295.0,444.5 295.7,444.5 296.2,444.5 297.0,444.6 297.8,444.7 298.3,444.8 299.0,444.8 299.8,444.9 300.2,445.0 301.0,445.1 301.8,445.2 302.2,445.3 303.0,445.5 303.5,445.6 304.2,445.8 304.8,445.9 305.2,446.0 306.0,446.2 306.5,446.4 307.0,446.6 307.5,446.8 308.1,447.0 308.5,447.2 309.0,447.5 309.5,447.9 309.8,448.2 310.1,448.8 310.1,449.5 310.0,450.0 309.8,450.6 309.5,451.0 309.1,451.5 308.8,451.9 308.4,452.2 308.0,452.6 307.6,453.0 307.2,453.3 306.8,453.6 306.2,454.0 305.8,454.2 305.4,454.5 305.0,454.8 304.5,455.0 304.0,455.3 303.5,455.6 303.0,455.9 302.5,456.1 302.0,456.4 301.5,456.6 301.0,456.8 300.5,457.0 300.0,457.3 299.4,457.5 298.8,457.8 298.2,458.0 297.8,458.2 297.2,458.4 296.8,458.5 296.2,458.8 295.5,459.0 295.0,459.1 294.5,459.3 293.9,459.5 293.2,459.7 292.8,459.8 292.1,460.0 291.5,460.2 291.0,460.3 290.2,460.5 289.8,460.6 289.0,460.7 M289.2,459.8 288.5,459.8 288.0,459.7 287.5,459.5 287.0,459.2 286.5,458.8 286.2,458.5 285.9,458.0 285.6,457.5 285.3,457.0 285.1,456.5 284.9,456.0 284.7,455.5 284.5,454.8 284.4,454.2 284.3,453.5 284.2,453.0 284.1,452.2 284.1,451.5 284.1,450.8 284.2,450.0 284.3,449.5 284.5,448.8 284.7,448.2 284.9,447.8 285.2,447.2 285.5,446.8 285.8,446.5 286.2,446.0 286.6,445.8 287.0,445.5 287.5,445.2 288.2,445.0 289.0,445.0 289.5,445.0 290.2,445.0 291.0,445.0 291.8,445.0 292.3,445.0 293.0,445.0 293.8,445.1 294.5,445.1 295.2,445.1 296.0,445.2 296.5,445.3 297.2,445.3 298.0,445.4 298.7,445.5 299.2,445.6 300.0,445.7 300.5,445.8 301.2,445.9 301.8,446.0 302.5,446.2 303.0,446.3 303.8,446.5 304.2,446.6 304.8,446.8 305.3,447.0 305.9,447.2 306.4,447.5 306.8,447.8 307.2,448.0 307.7,448.5 308.0,449.0 308.0,449.5 308.0,450.0 307.8,450.6 307.5,451.0 307.2,451.5 306.8,452.0 306.5,452.2 306.0,452.7 305.6,453.0 305.2,453.3 304.8,453.6 304.2,454.0 303.8,454.2 303.4,454.5 303.0,454.8 302.5,455.0 302.0,455.3 301.5,455.6 301.0,455.8 300.5,456.0 300.0,456.3 299.5,456.5 298.9,456.8 298.3,457.0 297.8,457.2 297.2,457.4 296.8,457.6 296.2,457.8 295.7,458.0 295.0,458.2 294.5,458.4 294.0,458.5 293.3,458.8 292.8,458.9 292.2,459.0 291.5,459.2 291.0,459.4 290.4,459.5 289.8,459.7 289.2,459.8 M289.2,458.8 288.5,458.9 288.0,458.7 287.5,458.5 287.0,458.1 286.6,457.8 286.2,457.3 286.0,456.9 285.8,456.4 285.5,455.9 285.3,455.2 285.1,454.8 285.0,454.2 284.8,453.5 284.8,452.9 284.7,452.2 284.7,451.5 284.7,450.8 284.8,450.1 284.9,449.5 285.0,449.0 285.2,448.4 285.5,447.9 285.8,447.5 286.2,447.0 286.5,446.7 287.0,446.3 287.5,446.0 288.0,445.8 288.5,445.7 289.2,445.7 290.0,445.7 290.8,445.7 291.5,445.7 292.2,445.7 293.0,445.7 293.6,445.8 294.2,445.8 295.0,445.8 295.8,445.9 296.5,446.0 297.0,446.0 297.8,446.1 298.5,446.2 299.0,446.3 299.8,446.4 300.2,446.5 301.0,446.7 301.5,446.8 302.1,447.0 302.8,447.2 303.2,447.4 303.8,447.6 304.2,447.8 304.8,448.1 305.2,448.5 305.5,448.8 305.8,449.2 305.8,450.0 305.7,450.5 305.4,451.0 305.1,451.5 304.8,451.9 304.4,452.2 304.0,452.6 303.6,453.0 303.2,453.2 302.8,453.6 302.2,453.9 301.8,454.2 301.3,454.5 300.8,454.8 300.4,455.0 299.9,455.2 299.4,455.5 298.8,455.8 298.3,456.0 297.8,456.2 297.2,456.4 296.8,456.6 296.2,456.8 295.7,457.0 295.0,457.2 294.5,457.4 294.0,457.6 293.5,457.8 292.8,458.0 292.2,458.1 291.7,458.2 291.0,458.4 290.5,458.5 289.8,458.7 289.2,458.8 M289.2,457.8 288.5,457.8 288.0,457.7 287.5,457.4 287.0,457.0 286.8,456.7 286.4,456.2 286.2,455.8 285.9,455.2 285.7,454.8 285.5,454.0 285.4,453.5 285.3,452.8 285.2,452.2 285.2,451.5 285.2,450.8 285.3,450.2 285.5,449.5 285.6,449.0 285.9,448.5 286.2,448.0 286.5,447.6 286.8,447.2 287.2,446.9 287.8,446.7 288.4,446.5 289.0,446.5 289.8,446.4 290.5,446.4 291.2,446.4 292.0,446.4 292.8,446.4 293.5,446.5 294.0,446.5 294.8,446.6 295.5,446.6 296.2,446.7 296.8,446.8 297.5,446.9 298.1,447.0 298.8,447.1 299.3,447.2 300.0,447.4 300.5,447.6 301.1,447.8 301.7,448.0 302.2,448.2 302.7,448.5 303.0,448.8 303.4,449.2 303.6,449.8 303.5,450.4 303.3,451.0 303.0,451.4 302.7,451.8 302.3,452.2 302.0,452.5 301.5,452.9 301.1,453.2 300.7,453.5 300.2,453.8 299.8,454.1 299.2,454.4 298.8,454.6 298.2,454.9 297.8,455.1 297.2,455.3 296.8,455.6 296.2,455.8 295.6,456.0 295.0,456.2 294.5,456.4 294.0,456.6 293.5,456.8 292.8,457.0 292.2,457.1 291.7,457.2 291.0,457.4 290.5,457.5 289.8,457.7 289.2,457.8 M289.0,456.8 288.4,456.8 287.8,456.5 287.5,456.2 287.0,455.8 286.8,455.3 286.5,454.9 286.3,454.2 286.1,453.8 286.0,453.2 285.9,452.5 285.8,451.8 285.8,451.0 285.9,450.2 286.0,449.8 286.2,449.1 286.5,448.7 286.8,448.2 287.2,447.8 287.7,447.5 288.2,447.3 288.8,447.2 289.5,447.2 290.2,447.2 291.0,447.2 291.8,447.2 292.5,447.2 293.2,447.2 293.8,447.3 294.5,447.4 295.2,447.4 295.8,447.5 296.5,447.6 297.2,447.8 297.8,447.9 298.2,448.0 299.0,448.2 299.5,448.4 300.0,448.7 300.5,449.0 300.8,449.2 301.1,449.8 301.1,450.5 301.0,451.0 300.7,451.5 300.3,452.0 300.0,452.3 299.5,452.7 299.1,453.0 298.7,453.2 298.2,453.6 297.8,453.8 297.2,454.1 296.8,454.4 296.2,454.6 295.8,454.8 295.2,455.0 294.7,455.2 294.0,455.5 293.5,455.7 293.0,455.8 292.4,456.0 291.8,456.2 291.2,456.3 290.5,456.5 290.0,456.6 289.2,456.7 M289.8,456.3 289.0,456.4 288.2,456.4 287.8,456.1 287.4,455.8 287.0,455.3 286.8,454.8 286.5,454.3 286.3,453.8 286.2,453.2 286.1,452.5 286.0,452.0 286.0,451.2 286.0,450.8 286.1,450.0 286.3,449.5 286.6,449.0 286.9,448.5 287.2,448.1 287.8,447.8 288.2,447.6 288.8,447.5 289.5,447.5 290.2,447.4 291.0,447.4 291.8,447.4 292.5,447.5 293.0,447.5 293.8,447.6 294.5,447.6 295.2,447.7 295.8,447.8 296.5,447.9 297.0,448.0 297.8,448.2 298.2,448.4 298.8,448.6 299.2,448.8 299.8,449.1 300.2,449.5 300.4,450.0 300.3,450.8 300.1,451.2 299.8,451.7 299.5,452.0 299.0,452.5 298.7,452.8 298.2,453.0 297.8,453.4 297.2,453.7 296.8,453.9 296.2,454.2 295.8,454.4 295.2,454.6 294.8,454.8 294.2,455.0 293.7,455.2 293.0,455.5 292.5,455.6 292.0,455.8 291.2,456.0 290.8,456.1 290.0,456.2 M290.0,455.5 289.2,455.7 288.5,455.7 288.0,455.5 287.5,455.0 287.2,454.7 287.0,454.2 286.8,453.7 286.6,453.0 286.5,452.5 286.4,451.8 286.4,451.0 286.5,450.3 286.7,449.8 286.9,449.2 287.2,448.8 287.6,448.5 288.0,448.2 288.8,448.0 289.5,448.0 290.0,448.0 290.8,448.0 291.5,448.0 292.0,448.0 292.8,448.0 293.5,448.1 294.2,448.2 294.8,448.3 295.5,448.4 296.0,448.5 296.8,448.7 297.2,448.9 297.8,449.1 298.2,449.4 298.6,449.8 298.8,450.2 298.7,450.8 298.5,451.2 298.1,451.8 297.8,452.2 297.4,452.5 297.0,452.8 296.5,453.1 296.0,453.4 295.5,453.7 295.0,453.9 294.5,454.1 294.0,454.3 293.5,454.5 292.9,454.8 292.2,454.9 291.8,455.1 291.2,455.2 290.5,455.4 290.0,455.5 M289.0,455.0 288.5,455.0 288.0,454.8 287.5,454.2 287.2,453.8 287.0,453.2 286.9,452.8 286.8,452.0 286.7,451.5 286.8,451.0 286.9,450.2 287.1,449.8 287.4,449.2 287.8,448.9 288.2,448.6 289.0,448.5 289.5,448.5 290.2,448.5 291.0,448.5 291.7,448.5 292.2,448.5 293.0,448.6 293.8,448.7 294.2,448.8 295.0,448.9 295.5,449.1 296.0,449.3 296.5,449.5 297.0,449.9 297.2,450.5 297.0,451.2 296.8,451.7 296.4,452.0 296.0,452.4 295.5,452.7 295.1,453.0 294.6,453.2 294.1,453.5 293.6,453.8 293.0,454.0 292.5,454.2 292.0,454.3 291.4,454.5 290.8,454.7 290.2,454.8 289.5,454.9 289.0,455.0 M289.8,454.3 289.0,454.4 288.2,454.3 287.9,454.0 287.6,453.5 287.4,453.0 287.2,452.5 287.1,451.8 287.1,451.0 287.2,450.3 287.5,449.8 287.8,449.5 288.2,449.1 288.8,449.0 289.5,449.0 290.2,448.9 291.0,448.9 291.8,449.0 292.2,449.0 293.0,449.1 293.7,449.2 294.2,449.4 294.8,449.6 295.2,449.8 295.7,450.2 295.8,450.8 295.7,451.2 295.3,451.8 295.0,452.0 294.5,452.4 294.0,452.8 293.6,453.0 293.0,453.2 292.5,453.5 292.0,453.7 291.5,453.8 290.9,454.0 290.2,454.2 289.8,454.3 M289.2,453.8 288.5,453.8 288.1,453.5 287.8,453.0 287.6,452.5 287.5,452.0 287.4,451.2 287.5,450.7 287.8,450.1 288.0,449.8 288.5,449.5 289.2,449.4 290.0,449.4 290.8,449.4 291.5,449.4 292.0,449.5 292.8,449.6 293.2,449.8 293.9,450.0 294.2,450.3 294.4,451.0 294.2,451.5 293.8,452.0 293.4,452.2 293.0,452.5 292.5,452.8 292.0,453.0 291.3,453.2 290.8,453.4 290.2,453.6 289.5,453.7 M290.0,453.0 289.2,453.2 288.5,453.2 288.1,452.8 287.9,452.2 287.8,451.5 287.8,451.2 287.9,450.5 288.2,450.1 288.8,449.9 289.5,449.8 290.2,449.8 291.0,449.9 291.8,450.0 292.2,450.1 292.8,450.3 293.1,450.8 293.0,451.4 292.7,451.8 292.2,452.1 291.8,452.4 291.2,452.6 290.8,452.8 290.1,453.0 M289.5,452.5 288.8,452.6 288.3,452.2 288.1,451.8 288.1,451.0 288.4,450.5 289.0,450.3 289.8,450.3 290.5,450.3 291.2,450.5 291.7,450.8 291.8,451.2 291.5,451.6 291.0,452.0 290.5,452.2 290.0,452.4 289.5,452.5" fill="none" stroke="#333" stroke-width="0.5" clip-path="url(#cM2)"/>
<path d="M287.0,438.5 C287.2,432 289.5,426.4 294.6,426.4 C298.8,426.4 300.2,431 300.4,437.5 M290.8,439 C291,433.5 292.6,429.6 295,429.6 C297,429.6 297.8,433 297.9,438.5" fill="none" stroke="#3a3a3a" stroke-width="0.6"/>
<g fill="#666"><rect x="295.2" y="429.9" width="0.7" height="0.7"/><rect x="307.3" y="426.9" width="0.7" height="0.7"/><rect x="302.0" y="432.4" width="0.7" height="0.7"/><rect x="291.0" y="431.7" width="0.7" height="0.7"/><rect x="308.2" y="430.3" width="0.7" height="0.7"/><rect x="309.4" y="422.8" width="0.7" height="0.7"/><rect x="303.7" y="433.1" width="0.7" height="0.7"/><rect x="309.9" y="429.7" width="0.7" height="0.7"/><rect x="292.4" y="432.3" width="0.7" height="0.7"/><rect x="316.5" y="436.1" width="0.7" height="0.7"/><rect x="308.1" y="415.5" width="0.7" height="0.7"/><rect x="314.5" y="426.8" width="0.7" height="0.7"/><rect x="283.2" y="431.0" width="0.7" height="0.7"/><rect x="292.6" y="417.6" width="0.7" height="0.7"/><rect x="300.3" y="438.2" width="0.7" height="0.7"/><rect x="302.7" y="430.2" width="0.7" height="0.7"/><rect x="305.1" y="426.1" width="0.7" height="0.7"/><rect x="294.7" y="422.4" width="0.7" height="0.7"/><rect x="309.8" y="431.2" width="0.7" height="0.7"/><rect x="307.0" y="436.0" width="0.7" height="0.7"/><rect x="299.0" y="427.6" width="0.7" height="0.7"/><rect x="312.6" y="432.7" width="0.7" height="0.7"/><rect x="315.6" y="431.2" width="0.7" height="0.7"/><rect x="303.2" y="430.9" width="0.7" height="0.7"/><rect x="297.0" y="414.9" width="0.7" height="0.7"/><rect x="311.2" y="427.6" width="0.7" height="0.7"/><rect x="308.8" y="414.4" width="0.7" height="0.7"/><rect x="302.7" y="423.2" width="0.7" height="0.7"/><rect x="298.2" y="410.0" width="0.7" height="0.7"/><rect x="303.0" y="435.2" width="0.7" height="0.7"/><rect x="309.4" y="423.2" width="0.7" height="0.7"/><rect x="305.9" y="434.1" width="0.7" height="0.7"/><rect x="301.4" y="468.1" width="0.7" height="0.7"/><rect x="313.0" y="470.8" width="0.7" height="0.7"/><rect x="299.1" y="465.8" width="0.7" height="0.7"/><rect x="295.6" y="469.4" width="0.7" height="0.7"/><rect x="315.6" y="463.0" width="0.7" height="0.7"/><rect x="295.5" y="465.2" width="0.7" height="0.7"/><rect x="309.4" y="463.8" width="0.7" height="0.7"/><rect x="303.9" y="470.3" width="0.7" height="0.7"/><rect x="280.8" y="470.2" width="0.7" height="0.7"/><rect x="300.9" y="467.0" width="0.7" height="0.7"/><rect x="291.2" y="470.2" width="0.7" height="0.7"/><rect x="293.6" y="470.6" width="0.7" height="0.7"/><rect x="302.8" y="465.6" width="0.7" height="0.7"/><rect x="286.8" y="464.4" width="0.7" height="0.7"/><rect x="292.5" y="469.5" width="0.7" height="0.7"/><rect x="308.1" y="477.4" width="0.7" height="0.7"/><rect x="316.0" y="464.4" width="0.7" height="0.7"/><rect x="298.2" y="473.2" width="0.7" height="0.7"/><rect x="297.2" y="466.7" width="0.7" height="0.7"/><rect x="281.6" y="468.0" width="0.7" height="0.7"/><rect x="298.1" y="467.7" width="0.7" height="0.7"/><rect x="292.7" y="467.0" width="0.7" height="0.7"/><rect x="285.8" y="470.8" width="0.7" height="0.7"/><rect x="321.3" y="469.7" width="0.7" height="0.7"/><rect x="294.9" y="468.3" width="0.7" height="0.7"/><rect x="316.6" y="462.6" width="0.7" height="0.7"/><rect x="292.3" y="471.3" width="0.7" height="0.7"/><rect x="300.9" y="468.0" width="0.7" height="0.7"/></g>
<rect x="273.50" y="401.50" width="52.30" height="37.80" fill="none" stroke="#d04650" stroke-width="1.2"/>
<text x="239.50" y="394.60" font-size="10.3" textLength="27.5" lengthAdjust="spacingAndGlyphs" fill="#000" >CD41-</text>
<rect x="230.90" y="377.60" width="108.70" height="108.30" fill="none" stroke="#000" stroke-width="1.4"/>
<line x1="227.30" y1="485.90" x2="230.90" y2="485.90" stroke="#000" stroke-width="1.1" />
<line x1="229.10" y1="477.75" x2="230.90" y2="477.75" stroke="#000" stroke-width="0.9" />
<line x1="229.10" y1="472.98" x2="230.90" y2="472.98" stroke="#000" stroke-width="0.9" />
<line x1="229.10" y1="469.60" x2="230.90" y2="469.60" stroke="#000" stroke-width="0.9" />
<line x1="229.10" y1="466.98" x2="230.90" y2="466.98" stroke="#000" stroke-width="0.9" />
<line x1="229.10" y1="464.83" x2="230.90" y2="464.83" stroke="#000" stroke-width="0.9" />
<line x1="229.10" y1="463.02" x2="230.90" y2="463.02" stroke="#000" stroke-width="0.9" />
<line x1="229.10" y1="461.45" x2="230.90" y2="461.45" stroke="#000" stroke-width="0.9" />
<line x1="229.10" y1="460.06" x2="230.90" y2="460.06" stroke="#000" stroke-width="0.9" />
<line x1="227.30" y1="458.82" x2="230.90" y2="458.82" stroke="#000" stroke-width="1.1" />
<line x1="229.10" y1="450.67" x2="230.90" y2="450.67" stroke="#000" stroke-width="0.9" />
<line x1="229.10" y1="445.91" x2="230.90" y2="445.91" stroke="#000" stroke-width="0.9" />
<line x1="229.10" y1="442.52" x2="230.90" y2="442.52" stroke="#000" stroke-width="0.9" />
<line x1="229.10" y1="439.90" x2="230.90" y2="439.90" stroke="#000" stroke-width="0.9" />
<line x1="229.10" y1="437.76" x2="230.90" y2="437.76" stroke="#000" stroke-width="0.9" />
<line x1="229.10" y1="435.94" x2="230.90" y2="435.94" stroke="#000" stroke-width="0.9" />
<line x1="229.10" y1="434.37" x2="230.90" y2="434.37" stroke="#000" stroke-width="0.9" />
<line x1="229.10" y1="432.99" x2="230.90" y2="432.99" stroke="#000" stroke-width="0.9" />
<line x1="227.30" y1="431.75" x2="230.90" y2="431.75" stroke="#000" stroke-width="1.1" />
<line x1="229.10" y1="423.60" x2="230.90" y2="423.60" stroke="#000" stroke-width="0.9" />
<line x1="229.10" y1="418.83" x2="230.90" y2="418.83" stroke="#000" stroke-width="0.9" />
<line x1="229.10" y1="415.45" x2="230.90" y2="415.45" stroke="#000" stroke-width="0.9" />
<line x1="229.10" y1="412.83" x2="230.90" y2="412.83" stroke="#000" stroke-width="0.9" />
<line x1="229.10" y1="410.68" x2="230.90" y2="410.68" stroke="#000" stroke-width="0.9" />
<line x1="229.10" y1="408.87" x2="230.90" y2="408.87" stroke="#000" stroke-width="0.9" />
<line x1="229.10" y1="407.30" x2="230.90" y2="407.30" stroke="#000" stroke-width="0.9" />
<line x1="229.10" y1="405.91" x2="230.90" y2="405.91" stroke="#000" stroke-width="0.9" />
<line x1="227.30" y1="404.68" x2="230.90" y2="404.68" stroke="#000" stroke-width="1.1" />
<line x1="229.10" y1="396.52" x2="230.90" y2="396.52" stroke="#000" stroke-width="0.9" />
<line x1="229.10" y1="391.76" x2="230.90" y2="391.76" stroke="#000" stroke-width="0.9" />
<line x1="229.10" y1="388.37" x2="230.90" y2="388.37" stroke="#000" stroke-width="0.9" />
<line x1="229.10" y1="385.75" x2="230.90" y2="385.75" stroke="#000" stroke-width="0.9" />
<line x1="229.10" y1="383.61" x2="230.90" y2="383.61" stroke="#000" stroke-width="0.9" />
<line x1="229.10" y1="381.79" x2="230.90" y2="381.79" stroke="#000" stroke-width="0.9" />
<line x1="229.10" y1="380.22" x2="230.90" y2="380.22" stroke="#000" stroke-width="0.9" />
<line x1="229.10" y1="378.84" x2="230.90" y2="378.84" stroke="#000" stroke-width="0.9" />
<line x1="227.30" y1="377.60" x2="230.90" y2="377.60" stroke="#000" stroke-width="1.1" />
<text x="223.10" y="382.60" font-size="9.6" text-anchor="end">10<tspan dy="-4.2" font-size="6.6">4</tspan></text>
<text x="223.10" y="409.68" font-size="9.6" text-anchor="end">10<tspan dy="-4.2" font-size="6.6">3</tspan></text>
<text x="223.10" y="436.75" font-size="9.6" text-anchor="end">10<tspan dy="-4.2" font-size="6.6">2</tspan></text>
<text x="223.10" y="463.82" font-size="9.6" text-anchor="end">10<tspan dy="-4.2" font-size="6.6">1</tspan></text>
<text x="223.10" y="490.90" font-size="9.6" text-anchor="end">10<tspan dy="-4.2" font-size="6.6">0</tspan></text>
<line x1="230.90" y1="485.90" x2="230.90" y2="489.50" stroke="#000" stroke-width="1.1" />
<line x1="241.81" y1="485.90" x2="241.81" y2="487.70" stroke="#000" stroke-width="0.9" />
<line x1="248.19" y1="485.90" x2="248.19" y2="487.70" stroke="#000" stroke-width="0.9" />
<line x1="252.71" y1="485.90" x2="252.71" y2="487.70" stroke="#000" stroke-width="0.9" />
<line x1="256.23" y1="485.90" x2="256.23" y2="487.70" stroke="#000" stroke-width="0.9" />
<line x1="259.10" y1="485.90" x2="259.10" y2="487.70" stroke="#000" stroke-width="0.9" />
<line x1="261.52" y1="485.90" x2="261.52" y2="487.70" stroke="#000" stroke-width="0.9" />
<line x1="263.62" y1="485.90" x2="263.62" y2="487.70" stroke="#000" stroke-width="0.9" />
<line x1="265.48" y1="485.90" x2="265.48" y2="487.70" stroke="#000" stroke-width="0.9" />
<line x1="267.13" y1="485.90" x2="267.13" y2="489.50" stroke="#000" stroke-width="1.1" />
<line x1="278.04" y1="485.90" x2="278.04" y2="487.70" stroke="#000" stroke-width="0.9" />
<line x1="284.42" y1="485.90" x2="284.42" y2="487.70" stroke="#000" stroke-width="0.9" />
<line x1="288.95" y1="485.90" x2="288.95" y2="487.70" stroke="#000" stroke-width="0.9" />
<line x1="292.46" y1="485.90" x2="292.46" y2="487.70" stroke="#000" stroke-width="0.9" />
<line x1="295.33" y1="485.90" x2="295.33" y2="487.70" stroke="#000" stroke-width="0.9" />
<line x1="297.75" y1="485.90" x2="297.75" y2="487.70" stroke="#000" stroke-width="0.9" />
<line x1="299.86" y1="485.90" x2="299.86" y2="487.70" stroke="#000" stroke-width="0.9" />
<line x1="301.71" y1="485.90" x2="301.71" y2="487.70" stroke="#000" stroke-width="0.9" />
<line x1="303.37" y1="485.90" x2="303.37" y2="489.50" stroke="#000" stroke-width="1.1" />
<line x1="314.27" y1="485.90" x2="314.27" y2="487.70" stroke="#000" stroke-width="0.9" />
<line x1="320.65" y1="485.90" x2="320.65" y2="487.70" stroke="#000" stroke-width="0.9" />
<line x1="325.18" y1="485.90" x2="325.18" y2="487.70" stroke="#000" stroke-width="0.9" />
<line x1="328.69" y1="485.90" x2="328.69" y2="487.70" stroke="#000" stroke-width="0.9" />
<line x1="331.56" y1="485.90" x2="331.56" y2="487.70" stroke="#000" stroke-width="0.9" />
<line x1="333.99" y1="485.90" x2="333.99" y2="487.70" stroke="#000" stroke-width="0.9" />
<line x1="336.09" y1="485.90" x2="336.09" y2="487.70" stroke="#000" stroke-width="0.9" />
<line x1="337.94" y1="485.90" x2="337.94" y2="487.70" stroke="#000" stroke-width="0.9" />
<line x1="339.60" y1="485.90" x2="339.60" y2="489.50" stroke="#000" stroke-width="1.1" />
<text x="231.50" y="502.30" font-size="9.6" text-anchor="middle">10<tspan dy="-4.2" font-size="6.6">0</tspan></text>
<text x="267.73" y="502.30" font-size="9.6" text-anchor="middle">10<tspan dy="-4.2" font-size="6.6">1</tspan></text>
<text x="303.97" y="502.30" font-size="9.6" text-anchor="middle">10<tspan dy="-4.2" font-size="6.6">2</tspan></text>
<text x="340.20" y="502.30" font-size="9.6" text-anchor="middle">10<tspan dy="-4.2" font-size="6.6">3</tspan></text>
<line x1="198.50" y1="467.30" x2="198.50" y2="240.40" stroke="#333" stroke-width="1.2" marker-end="url(#ah)"/>
<text x="202.00" y="477.40" font-size="11.8" text-anchor="middle" textLength="9.2" lengthAdjust="spacingAndGlyphs" transform="rotate(-90 202.00 477.40)" fill="#000" >TF</text>
<text x="285.30" y="518.00" font-size="11.8" text-anchor="middle" textLength="22.2" lengthAdjust="spacingAndGlyphs" fill="#000" >CD14</text>
<line x1="399.00" y1="261.20" x2="399.00" y2="432.20" stroke="#000" stroke-width="1.3" />
<line x1="394.80" y1="431.60" x2="399.00" y2="431.60" stroke="#000" stroke-width="1.2" />
<text x="390.80" y="434.60" font-size="10.2" text-anchor="end" fill="#000" >0</text>
<line x1="394.80" y1="375.00" x2="399.00" y2="375.00" stroke="#000" stroke-width="1.2" />
<text x="390.80" y="378.00" font-size="10.2" text-anchor="end" fill="#000" >25</text>
<line x1="394.80" y1="318.40" x2="399.00" y2="318.40" stroke="#000" stroke-width="1.2" />
<text x="390.80" y="321.40" font-size="10.2" text-anchor="end" fill="#000" >50</text>
<line x1="394.80" y1="261.80" x2="399.00" y2="261.80" stroke="#000" stroke-width="1.2" />
<text x="390.80" y="264.80" font-size="10.2" text-anchor="end" fill="#000" >75</text>
<line x1="398.40" y1="431.60" x2="505.20" y2="431.60" stroke="#000" stroke-width="1.3" />
<line x1="431.20" y1="431.60" x2="431.20" y2="435.20" stroke="#000" stroke-width="1.2" />
<line x1="472.90" y1="431.60" x2="472.90" y2="435.20" stroke="#000" stroke-width="1.2" />
<text x="452.30" y="251.90" font-size="11.6" text-anchor="middle" textLength="37" lengthAdjust="spacingAndGlyphs" fill="#000" >Severe</text>
<text x="453.00" y="265.80" font-size="9.5" text-anchor="middle" fill="#000" >*</text>
<line x1="433.80" y1="272.20" x2="472.40" y2="272.20" stroke="#222" stroke-width="1.45" />
<text x="373.10" y="344.50" font-size="10.2" text-anchor="middle" textLength="62" lengthAdjust="spacingAndGlyphs" transform="rotate(-90 373.10 344.50)" fill="#000" >CD14<tspan dy="-3.4" font-size="8.6">+</tspan><tspan dy="3.4">TF</tspan><tspan dy="-3.4" font-size="8.6">+</tspan><tspan dy="3.4"> (%)</tspan></text>
<text x="430.90" y="447.90" font-size="10.2" text-anchor="middle" fill="#000" >CD41-</text>
<text x="472.60" y="447.90" font-size="10.2" text-anchor="middle" fill="#000" >CD41+</text>
<text x="452.40" y="463.60" font-size="10.2" text-anchor="middle" fill="#000" >n = 35</text>
<line x1="394.00" y1="460.00" x2="427.90" y2="460.00" stroke="#000" stroke-width="1.1" />
<line x1="477.50" y1="460.00" x2="511.10" y2="460.00" stroke="#000" stroke-width="1.1" />
<line x1="431.20" y1="366.90" x2="431.20" y2="402.60" stroke="#000" stroke-width="1.1" />
<line x1="423.40" y1="366.90" x2="439.00" y2="366.90" stroke="#000" stroke-width="1.1" />
<line x1="431.20" y1="423.50" x2="431.20" y2="431.00" stroke="#000" stroke-width="1.1" />
<line x1="423.40" y1="431.00" x2="439.00" y2="431.00" stroke="#000" stroke-width="1.1" />
<rect x="415.50" y="402.60" width="31.70" height="20.90" fill="#fff" stroke="#000" stroke-width="1.1"/>
<line x1="415.50" y1="413.40" x2="447.20" y2="413.40" stroke="#000" stroke-width="1.1" />
<circle cx="431.20" cy="366.90" r="2.65" fill="#c20a3b" stroke="#000" stroke-width="1.0"/>
<circle cx="427.00" cy="382.40" r="2.65" fill="#c20a3b" stroke="#000" stroke-width="1.0"/>
<circle cx="434.80" cy="386.70" r="2.65" fill="#c20a3b" stroke="#000" stroke-width="1.0"/>
<circle cx="419.00" cy="389.10" r="2.65" fill="#c20a3b" stroke="#000" stroke-width="1.0"/>
<circle cx="425.20" cy="394.90" r="2.65" fill="#c20a3b" stroke="#000" stroke-width="1.0"/>
<circle cx="431.20" cy="397.20" r="2.65" fill="#c20a3b" stroke="#000" stroke-width="1.0"/>
<circle cx="437.10" cy="396.80" r="2.65" fill="#c20a3b" stroke="#000" stroke-width="1.0"/>
<circle cx="443.50" cy="394.60" r="2.65" fill="#c20a3b" stroke="#000" stroke-width="1.0"/>
<circle cx="443.50" cy="402.30" r="2.65" fill="#c20a3b" stroke="#000" stroke-width="1.0"/>
<circle cx="419.00" cy="408.80" r="2.65" fill="#c20a3b" stroke="#000" stroke-width="1.0"/>
<circle cx="422.30" cy="406.50" r="2.65" fill="#c20a3b" stroke="#000" stroke-width="1.0"/>
<circle cx="427.30" cy="404.00" r="2.65" fill="#c20a3b" stroke="#000" stroke-width="1.0"/>
<circle cx="431.20" cy="406.90" r="2.65" fill="#c20a3b" stroke="#000" stroke-width="1.0"/>
<circle cx="437.10" cy="405.90" r="2.65" fill="#c20a3b" stroke="#000" stroke-width="1.0"/>
<circle cx="425.20" cy="411.20" r="2.65" fill="#c20a3b" stroke="#000" stroke-width="1.0"/>
<circle cx="435.00" cy="410.50" r="2.65" fill="#c20a3b" stroke="#000" stroke-width="1.0"/>
<circle cx="418.70" cy="416.60" r="2.65" fill="#c20a3b" stroke="#000" stroke-width="1.0"/>
<circle cx="422.30" cy="417.00" r="2.65" fill="#c20a3b" stroke="#000" stroke-width="1.0"/>
<circle cx="430.90" cy="414.80" r="2.65" fill="#c20a3b" stroke="#000" stroke-width="1.0"/>
<circle cx="440.00" cy="413.70" r="2.65" fill="#c20a3b" stroke="#000" stroke-width="1.0"/>
<circle cx="443.90" cy="415.10" r="2.65" fill="#c20a3b" stroke="#000" stroke-width="1.0"/>
<circle cx="425.90" cy="418.40" r="2.65" fill="#c20a3b" stroke="#000" stroke-width="1.0"/>
<circle cx="440.00" cy="417.30" r="2.65" fill="#c20a3b" stroke="#000" stroke-width="1.0"/>
<circle cx="436.70" cy="417.70" r="2.65" fill="#c20a3b" stroke="#000" stroke-width="1.0"/>
<circle cx="428.00" cy="421.80" r="2.65" fill="#c20a3b" stroke="#000" stroke-width="1.0"/>
<circle cx="434.80" cy="423.50" r="2.65" fill="#c20a3b" stroke="#000" stroke-width="1.0"/>
<circle cx="421.30" cy="426.70" r="2.65" fill="#c20a3b" stroke="#000" stroke-width="1.0"/>
<circle cx="427.30" cy="425.70" r="2.65" fill="#c20a3b" stroke="#000" stroke-width="1.0"/>
<circle cx="433.10" cy="426.40" r="2.65" fill="#c20a3b" stroke="#000" stroke-width="1.0"/>
<circle cx="441.00" cy="426.10" r="2.65" fill="#c20a3b" stroke="#000" stroke-width="1.0"/>
<circle cx="425.90" cy="429.30" r="2.65" fill="#c20a3b" stroke="#000" stroke-width="1.0"/>
<circle cx="433.10" cy="429.30" r="2.65" fill="#c20a3b" stroke="#000" stroke-width="1.0"/>
<circle cx="437.40" cy="427.80" r="2.65" fill="#c20a3b" stroke="#000" stroke-width="1.0"/>
<circle cx="429.50" cy="431.00" r="2.65" fill="#c20a3b" stroke="#000" stroke-width="1.0"/>
<circle cx="431.60" cy="423.50" r="2.65" fill="#c20a3b" stroke="#000" stroke-width="1.0"/>
<line x1="472.70" y1="288.40" x2="472.70" y2="373.20" stroke="#000" stroke-width="1.1" />
<line x1="465.70" y1="288.40" x2="479.70" y2="288.40" stroke="#000" stroke-width="1.1" />
<line x1="472.70" y1="418.00" x2="472.70" y2="426.90" stroke="#000" stroke-width="1.1" />
<line x1="465.70" y1="426.90" x2="479.70" y2="426.90" stroke="#000" stroke-width="1.1" />
<rect x="457.00" y="373.20" width="31.60" height="44.80" fill="#fff" stroke="#000" stroke-width="1.1"/>
<line x1="457.00" y1="404.80" x2="488.60" y2="404.80" stroke="#000" stroke-width="1.1" />
<circle cx="472.70" cy="288.40" r="2.65" fill="#c20a3b" stroke="#000" stroke-width="1.0"/>
<circle cx="472.70" cy="307.30" r="2.65" fill="#c20a3b" stroke="#000" stroke-width="1.0"/>
<circle cx="468.70" cy="340.00" r="2.65" fill="#c20a3b" stroke="#000" stroke-width="1.0"/>
<circle cx="477.10" cy="346.10" r="2.65" fill="#c20a3b" stroke="#000" stroke-width="1.0"/>
<circle cx="472.70" cy="356.50" r="2.65" fill="#c20a3b" stroke="#000" stroke-width="1.0"/>
<circle cx="460.40" cy="370.20" r="2.65" fill="#c20a3b" stroke="#000" stroke-width="1.0"/>
<circle cx="466.50" cy="373.20" r="2.65" fill="#c20a3b" stroke="#000" stroke-width="1.0"/>
<circle cx="472.70" cy="376.20" r="2.65" fill="#c20a3b" stroke="#000" stroke-width="1.0"/>
<circle cx="479.10" cy="372.20" r="2.65" fill="#c20a3b" stroke="#000" stroke-width="1.0"/>
<circle cx="485.20" cy="369.20" r="2.65" fill="#c20a3b" stroke="#000" stroke-width="1.0"/>
<circle cx="472.70" cy="386.30" r="2.65" fill="#c20a3b" stroke="#000" stroke-width="1.0"/>
<circle cx="481.10" cy="390.30" r="2.65" fill="#c20a3b" stroke="#000" stroke-width="1.0"/>
<circle cx="465.10" cy="394.70" r="2.65" fill="#c20a3b" stroke="#000" stroke-width="1.0"/>
<circle cx="472.70" cy="394.70" r="2.65" fill="#c20a3b" stroke="#000" stroke-width="1.0"/>
<circle cx="463.10" cy="404.40" r="2.65" fill="#c20a3b" stroke="#000" stroke-width="1.0"/>
<circle cx="469.10" cy="402.70" r="2.65" fill="#c20a3b" stroke="#000" stroke-width="1.0"/>
<circle cx="476.50" cy="402.70" r="2.65" fill="#c20a3b" stroke="#000" stroke-width="1.0"/>
<circle cx="482.50" cy="404.00" r="2.65" fill="#c20a3b" stroke="#000" stroke-width="1.0"/>
<circle cx="467.10" cy="406.80" r="2.65" fill="#c20a3b" stroke="#000" stroke-width="1.0"/>
<circle cx="471.10" cy="408.40" r="2.65" fill="#c20a3b" stroke="#000" stroke-width="1.0"/>
<circle cx="475.10" cy="407.40" r="2.65" fill="#c20a3b" stroke="#000" stroke-width="1.0"/>
<circle cx="479.10" cy="406.40" r="2.65" fill="#c20a3b" stroke="#000" stroke-width="1.0"/>
<circle cx="460.00" cy="410.80" r="2.65" fill="#c20a3b" stroke="#000" stroke-width="1.0"/>
<circle cx="485.80" cy="412.40" r="2.65" fill="#c20a3b" stroke="#000" stroke-width="1.0"/>
<circle cx="465.10" cy="414.40" r="2.65" fill="#c20a3b" stroke="#000" stroke-width="1.0"/>
<circle cx="461.00" cy="418.40" r="2.65" fill="#c20a3b" stroke="#000" stroke-width="1.0"/>
<circle cx="470.50" cy="417.40" r="2.65" fill="#c20a3b" stroke="#000" stroke-width="1.0"/>
<circle cx="475.70" cy="418.00" r="2.65" fill="#c20a3b" stroke="#000" stroke-width="1.0"/>
<circle cx="481.10" cy="417.40" r="2.65" fill="#c20a3b" stroke="#000" stroke-width="1.0"/>
<circle cx="465.10" cy="421.40" r="2.65" fill="#c20a3b" stroke="#000" stroke-width="1.0"/>
<circle cx="469.10" cy="423.40" r="2.65" fill="#c20a3b" stroke="#000" stroke-width="1.0"/>
<circle cx="476.50" cy="423.40" r="2.65" fill="#c20a3b" stroke="#000" stroke-width="1.0"/>
<circle cx="481.70" cy="422.80" r="2.65" fill="#c20a3b" stroke="#000" stroke-width="1.0"/>
<circle cx="485.20" cy="421.40" r="2.65" fill="#c20a3b" stroke="#000" stroke-width="1.0"/>
<circle cx="472.70" cy="426.90" r="2.65" fill="#c20a3b" stroke="#000" stroke-width="1.0"/>
<rect x="0.75" y="0.75" width="518.5" height="525.5" fill="none" stroke="#000" stroke-width="1.5"/></svg>
</body></html>
